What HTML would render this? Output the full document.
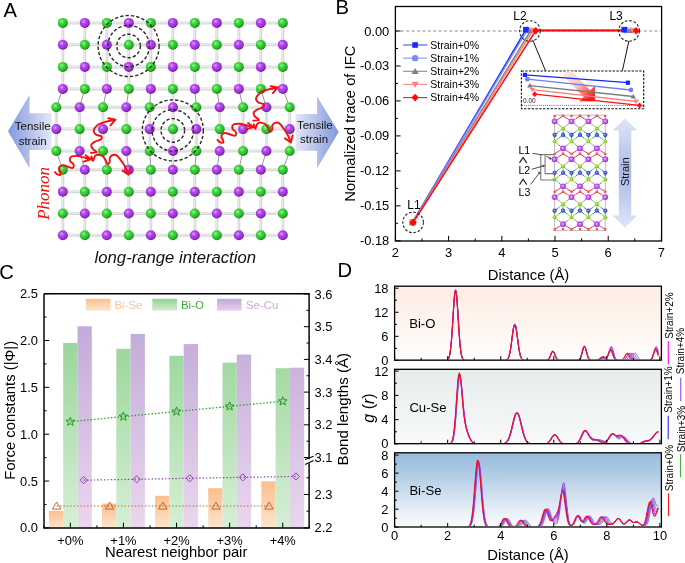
<!DOCTYPE html>
<html><head><meta charset="utf-8"><style>
html,body{margin:0;padding:0;background:#fff;}
svg{display:block;will-change:transform;}
</style></head><body>
<svg width="685" height="563" viewBox="0 0 685 563" font-family="Liberation Sans, sans-serif">
<defs>
<radialGradient id="gG" cx="0.38" cy="0.35" r="0.65">
 <stop offset="0" stop-color="#98f598"/><stop offset="0.35" stop-color="#40d840"/><stop offset="0.8" stop-color="#2ab22a"/><stop offset="1" stop-color="#1a7a1a"/></radialGradient>
<radialGradient id="gP" cx="0.38" cy="0.35" r="0.65">
 <stop offset="0" stop-color="#e79cff"/><stop offset="0.35" stop-color="#b648ee"/><stop offset="0.8" stop-color="#9630cc"/><stop offset="1" stop-color="#661a94"/></radialGradient>
<linearGradient id="arrL" x1="0" y1="0" x2="1" y2="0">
 <stop offset="0" stop-color="#8397dd"/><stop offset="1" stop-color="#e2e7f7"/></linearGradient>
<linearGradient id="arrR" x1="0" y1="0" x2="1" y2="0">
 <stop offset="0" stop-color="#e2e7f7"/><stop offset="1" stop-color="#8397dd"/></linearGradient>

<linearGradient id="bigArr" x1="568" y1="74" x2="592" y2="98" gradientUnits="userSpaceOnUse">
 <stop offset="0" stop-color="#fde6da"/><stop offset="0.45" stop-color="#fbc4bc"/><stop offset="0.75" stop-color="#ff6a60"/><stop offset="1" stop-color="#ff1414"/></linearGradient>
<radialGradient id="aBi" cx="0.45" cy="0.45" r="0.6"><stop offset="0" stop-color="#f4c8ff"/><stop offset="0.45" stop-color="#c456ee"/><stop offset="1" stop-color="#9a2cc8"/></radialGradient>
<radialGradient id="aSe" cx="0.45" cy="0.45" r="0.6"><stop offset="0" stop-color="#d8f5a0"/><stop offset="0.5" stop-color="#8ed32a"/><stop offset="1" stop-color="#6aa818"/></radialGradient>
<radialGradient id="aCu" cx="0.45" cy="0.45" r="0.6"><stop offset="0" stop-color="#9ab0ff"/><stop offset="0.5" stop-color="#3858d8"/><stop offset="1" stop-color="#1c34a8"/></radialGradient>
<radialGradient id="aO" cx="0.45" cy="0.45" r="0.6"><stop offset="0" stop-color="#ff8080"/><stop offset="1" stop-color="#e81818"/></radialGradient>

<linearGradient id="strG" x1="0" y1="0" x2="0" y2="1">
 <stop offset="0" stop-color="#dfe5f6"/><stop offset="0.5" stop-color="#a9b9ea"/><stop offset="1" stop-color="#dfe5f6"/></linearGradient>
<linearGradient id="cO" x1="0" y1="0" x2="0" y2="1"><stop offset="0" stop-color="#fbc08e"/><stop offset="1" stop-color="#fde6d2"/></linearGradient>
<linearGradient id="cG" x1="0" y1="0" x2="0" y2="1"><stop offset="0" stop-color="#92d392"/><stop offset="1" stop-color="#d3eed3"/></linearGradient>
<linearGradient id="cP" x1="0" y1="0" x2="0" y2="1"><stop offset="0" stop-color="#bea8d8"/><stop offset="1" stop-color="#e6d0ec"/></linearGradient>
<linearGradient id="cGb" gradientUnits="userSpaceOnUse" x1="0" y1="293" x2="0" y2="527"><stop offset="0" stop-color="#8ccf8c"/><stop offset="1" stop-color="#d5efd5"/></linearGradient>
<linearGradient id="cPb" gradientUnits="userSpaceOnUse" x1="0" y1="293" x2="0" y2="527"><stop offset="0" stop-color="#bba4d6"/><stop offset="1" stop-color="#ead6ee"/></linearGradient>
<linearGradient id="cOb" x1="0" y1="0" x2="0" y2="1"><stop offset="0" stop-color="#fbbf8e"/><stop offset="1" stop-color="#fde4ce"/></linearGradient>
<linearGradient id="dbg0" x1="0" y1="0" x2="0" y2="1"><stop offset="0" stop-color="#fdece3"/><stop offset="1" stop-color="#fffdfc"/></linearGradient><linearGradient id="dbg1" x1="0" y1="0" x2="0" y2="1"><stop offset="0" stop-color="#e6ecec"/><stop offset="1" stop-color="#f9fafa"/></linearGradient><linearGradient id="dbg2" x1="0" y1="0" x2="0" y2="1"><stop offset="0" stop-color="#99bbdf"/><stop offset="0.23" stop-color="#abc8e2"/><stop offset="0.77" stop-color="#e6eef6"/><stop offset="1" stop-color="#fafcfd"/></linearGradient></defs>
<rect width="685" height="563" fill="#fff"/>
<polygon points="8,131.2 29.6,94.8 29.6,113.2 51.5,113.2 51.5,150 29.6,150 29.6,168.3" fill="url(#arrL)"/>
<polygon points="338.7,131.9 317.1,96.4 317.1,114 295.6,114 295.6,150.7 317.1,150.7 317.1,168.3" fill="url(#arrR)"/>
<path d="M60.80,22.9 L286.80,22.9 M60.80,44.8 L286.80,44.8 M60.80,66.9 L286.80,66.9 M60.80,88.9 L286.80,88.9 M54.30,107.2 L293.70,107.2 M54.30,129.1 L293.70,129.1 M54.30,151.0 L293.70,151.0 M60.80,169.8 L286.80,169.8 M60.80,191.7 L286.80,191.7 M60.80,213.5 L286.80,213.5 M60.80,235.3 L286.80,235.3 M62.80,22.9 L62.80,44.8 M84.80,22.9 L84.80,44.8 M106.80,22.9 L106.80,44.8 M128.80,22.9 L128.80,44.8 M150.80,22.9 L150.80,44.8 M172.80,22.9 L172.80,44.8 M194.80,22.9 L194.80,44.8 M216.80,22.9 L216.80,44.8 M238.80,22.9 L238.80,44.8 M260.80,22.9 L260.80,44.8 M282.80,22.9 L282.80,44.8 M62.80,44.8 L62.80,66.9 M84.80,44.8 L84.80,66.9 M106.80,44.8 L106.80,66.9 M128.80,44.8 L128.80,66.9 M150.80,44.8 L150.80,66.9 M172.80,44.8 L172.80,66.9 M194.80,44.8 L194.80,66.9 M216.80,44.8 L216.80,66.9 M238.80,44.8 L238.80,66.9 M260.80,44.8 L260.80,66.9 M282.80,44.8 L282.80,66.9 M62.80,66.9 L62.80,88.9 M84.80,66.9 L84.80,88.9 M106.80,66.9 L106.80,88.9 M128.80,66.9 L128.80,88.9 M150.80,66.9 L150.80,88.9 M172.80,66.9 L172.80,88.9 M194.80,66.9 L194.80,88.9 M216.80,66.9 L216.80,88.9 M238.80,66.9 L238.80,88.9 M260.80,66.9 L260.80,88.9 M282.80,66.9 L282.80,88.9 M172.80,88.9 L173.00,107.2 M56.30,107.2 L56.30,129.1 M79.64,107.2 L79.64,129.1 M102.98,107.2 L102.98,129.1 M126.32,107.2 L126.32,129.1 M149.66,107.2 L149.66,129.1 M173.00,107.2 L173.00,129.1 M196.34,107.2 L196.34,129.1 M219.68,107.2 L219.68,129.1 M243.02,107.2 L243.02,129.1 M266.36,107.2 L266.36,129.1 M289.70,107.2 L289.70,129.1 M56.30,129.1 L56.30,151.0 M79.64,129.1 L79.64,151.0 M102.98,129.1 L102.98,151.0 M126.32,129.1 L126.32,151.0 M149.66,129.1 L149.66,151.0 M173.00,129.1 L173.00,151.0 M196.34,129.1 L196.34,151.0 M219.68,129.1 L219.68,151.0 M243.02,129.1 L243.02,151.0 M266.36,129.1 L266.36,151.0 M289.70,129.1 L289.70,151.0 M173.00,151.0 L172.80,169.8 M62.80,169.8 L62.80,191.7 M84.80,169.8 L84.80,191.7 M106.80,169.8 L106.80,191.7 M128.80,169.8 L128.80,191.7 M150.80,169.8 L150.80,191.7 M172.80,169.8 L172.80,191.7 M194.80,169.8 L194.80,191.7 M216.80,169.8 L216.80,191.7 M238.80,169.8 L238.80,191.7 M260.80,169.8 L260.80,191.7 M282.80,169.8 L282.80,191.7 M62.80,191.7 L62.80,213.5 M84.80,191.7 L84.80,213.5 M106.80,191.7 L106.80,213.5 M128.80,191.7 L128.80,213.5 M150.80,191.7 L150.80,213.5 M172.80,191.7 L172.80,213.5 M194.80,191.7 L194.80,213.5 M216.80,191.7 L216.80,213.5 M238.80,191.7 L238.80,213.5 M260.80,191.7 L260.80,213.5 M282.80,191.7 L282.80,213.5 M62.80,213.5 L62.80,235.3 M84.80,213.5 L84.80,235.3 M106.80,213.5 L106.80,235.3 M128.80,213.5 L128.80,235.3 M150.80,213.5 L150.80,235.3 M172.80,213.5 L172.80,235.3 M194.80,213.5 L194.80,235.3 M216.80,213.5 L216.80,235.3 M238.80,213.5 L238.80,235.3 M260.80,213.5 L260.80,235.3 M282.80,213.5 L282.80,235.3 M62.80,235.3 L62.80,239.3 M62.80,19.9 L62.80,22.9 M84.80,235.3 L84.80,239.3 M84.80,19.9 L84.80,22.9 M106.80,235.3 L106.80,239.3 M106.80,19.9 L106.80,22.9 M128.80,235.3 L128.80,239.3 M128.80,19.9 L128.80,22.9 M150.80,235.3 L150.80,239.3 M150.80,19.9 L150.80,22.9 M172.80,235.3 L172.80,239.3 M172.80,19.9 L172.80,22.9 M194.80,235.3 L194.80,239.3 M194.80,19.9 L194.80,22.9 M216.80,235.3 L216.80,239.3 M216.80,19.9 L216.80,22.9 M238.80,235.3 L238.80,239.3 M238.80,19.9 L238.80,22.9 M260.80,235.3 L260.80,239.3 M260.80,19.9 L260.80,22.9 M282.80,235.3 L282.80,239.3 M282.80,19.9 L282.80,22.9" stroke="#d8d8d8" stroke-width="3.0" fill="none"/>
<path d="M60.80,22.9 L286.80,22.9 M60.80,44.8 L286.80,44.8 M60.80,66.9 L286.80,66.9 M60.80,88.9 L286.80,88.9 M54.30,107.2 L293.70,107.2 M54.30,129.1 L293.70,129.1 M54.30,151.0 L293.70,151.0 M60.80,169.8 L286.80,169.8 M60.80,191.7 L286.80,191.7 M60.80,213.5 L286.80,213.5 M60.80,235.3 L286.80,235.3 M62.80,22.9 L62.80,44.8 M84.80,22.9 L84.80,44.8 M106.80,22.9 L106.80,44.8 M128.80,22.9 L128.80,44.8 M150.80,22.9 L150.80,44.8 M172.80,22.9 L172.80,44.8 M194.80,22.9 L194.80,44.8 M216.80,22.9 L216.80,44.8 M238.80,22.9 L238.80,44.8 M260.80,22.9 L260.80,44.8 M282.80,22.9 L282.80,44.8 M62.80,44.8 L62.80,66.9 M84.80,44.8 L84.80,66.9 M106.80,44.8 L106.80,66.9 M128.80,44.8 L128.80,66.9 M150.80,44.8 L150.80,66.9 M172.80,44.8 L172.80,66.9 M194.80,44.8 L194.80,66.9 M216.80,44.8 L216.80,66.9 M238.80,44.8 L238.80,66.9 M260.80,44.8 L260.80,66.9 M282.80,44.8 L282.80,66.9 M62.80,66.9 L62.80,88.9 M84.80,66.9 L84.80,88.9 M106.80,66.9 L106.80,88.9 M128.80,66.9 L128.80,88.9 M150.80,66.9 L150.80,88.9 M172.80,66.9 L172.80,88.9 M194.80,66.9 L194.80,88.9 M216.80,66.9 L216.80,88.9 M238.80,66.9 L238.80,88.9 M260.80,66.9 L260.80,88.9 M282.80,66.9 L282.80,88.9 M172.80,88.9 L173.00,107.2 M56.30,107.2 L56.30,129.1 M79.64,107.2 L79.64,129.1 M102.98,107.2 L102.98,129.1 M126.32,107.2 L126.32,129.1 M149.66,107.2 L149.66,129.1 M173.00,107.2 L173.00,129.1 M196.34,107.2 L196.34,129.1 M219.68,107.2 L219.68,129.1 M243.02,107.2 L243.02,129.1 M266.36,107.2 L266.36,129.1 M289.70,107.2 L289.70,129.1 M56.30,129.1 L56.30,151.0 M79.64,129.1 L79.64,151.0 M102.98,129.1 L102.98,151.0 M126.32,129.1 L126.32,151.0 M149.66,129.1 L149.66,151.0 M173.00,129.1 L173.00,151.0 M196.34,129.1 L196.34,151.0 M219.68,129.1 L219.68,151.0 M243.02,129.1 L243.02,151.0 M266.36,129.1 L266.36,151.0 M289.70,129.1 L289.70,151.0 M173.00,151.0 L172.80,169.8 M62.80,169.8 L62.80,191.7 M84.80,169.8 L84.80,191.7 M106.80,169.8 L106.80,191.7 M128.80,169.8 L128.80,191.7 M150.80,169.8 L150.80,191.7 M172.80,169.8 L172.80,191.7 M194.80,169.8 L194.80,191.7 M216.80,169.8 L216.80,191.7 M238.80,169.8 L238.80,191.7 M260.80,169.8 L260.80,191.7 M282.80,169.8 L282.80,191.7 M62.80,191.7 L62.80,213.5 M84.80,191.7 L84.80,213.5 M106.80,191.7 L106.80,213.5 M128.80,191.7 L128.80,213.5 M150.80,191.7 L150.80,213.5 M172.80,191.7 L172.80,213.5 M194.80,191.7 L194.80,213.5 M216.80,191.7 L216.80,213.5 M238.80,191.7 L238.80,213.5 M260.80,191.7 L260.80,213.5 M282.80,191.7 L282.80,213.5 M62.80,213.5 L62.80,235.3 M84.80,213.5 L84.80,235.3 M106.80,213.5 L106.80,235.3 M128.80,213.5 L128.80,235.3 M150.80,213.5 L150.80,235.3 M172.80,213.5 L172.80,235.3 M194.80,213.5 L194.80,235.3 M216.80,213.5 L216.80,235.3 M238.80,213.5 L238.80,235.3 M260.80,213.5 L260.80,235.3 M282.80,213.5 L282.80,235.3 M62.80,235.3 L62.80,239.3 M62.80,19.9 L62.80,22.9 M84.80,235.3 L84.80,239.3 M84.80,19.9 L84.80,22.9 M106.80,235.3 L106.80,239.3 M106.80,19.9 L106.80,22.9 M128.80,235.3 L128.80,239.3 M128.80,19.9 L128.80,22.9 M150.80,235.3 L150.80,239.3 M150.80,19.9 L150.80,22.9 M172.80,235.3 L172.80,239.3 M172.80,19.9 L172.80,22.9 M194.80,235.3 L194.80,239.3 M194.80,19.9 L194.80,22.9 M216.80,235.3 L216.80,239.3 M216.80,19.9 L216.80,22.9 M238.80,235.3 L238.80,239.3 M238.80,19.9 L238.80,22.9 M260.80,235.3 L260.80,239.3 M260.80,19.9 L260.80,22.9 M282.80,235.3 L282.80,239.3 M282.80,19.9 L282.80,22.9" stroke="#eaeaea" stroke-width="1.3" fill="none" transform="translate(-0.4,-0.4)"/>
<path d="M62.80,88.9 L56.30,107.2 M84.80,88.9 L79.64,107.2 M106.80,88.9 L102.98,107.2 M128.80,88.9 L126.32,107.2 M150.80,88.9 L149.66,107.2 M194.80,88.9 L196.34,107.2 M216.80,88.9 L219.68,107.2 M238.80,88.9 L243.02,107.2 M260.80,88.9 L266.36,107.2 M282.80,88.9 L289.70,107.2 M56.30,151.0 L62.80,169.8 M79.64,151.0 L84.80,169.8 M102.98,151.0 L106.80,169.8 M126.32,151.0 L128.80,169.8 M149.66,151.0 L150.80,169.8 M196.34,151.0 L194.80,169.8 M219.68,151.0 L216.80,169.8 M243.02,151.0 L238.80,169.8 M266.36,151.0 L260.80,169.8 M289.70,151.0 L282.80,169.8" stroke="#8c8c8c" stroke-width="0.9" fill="none"/>
<circle cx="62.80" cy="22.9" r="5.0" fill="url(#gG)"/>
<circle cx="84.80" cy="22.9" r="5.0" fill="url(#gP)"/>
<circle cx="106.80" cy="22.9" r="5.0" fill="url(#gG)"/>
<circle cx="128.80" cy="22.9" r="5.0" fill="url(#gP)"/>
<circle cx="150.80" cy="22.9" r="5.0" fill="url(#gG)"/>
<circle cx="172.80" cy="22.9" r="5.0" fill="url(#gP)"/>
<circle cx="194.80" cy="22.9" r="5.0" fill="url(#gG)"/>
<circle cx="216.80" cy="22.9" r="5.0" fill="url(#gP)"/>
<circle cx="238.80" cy="22.9" r="5.0" fill="url(#gG)"/>
<circle cx="260.80" cy="22.9" r="5.0" fill="url(#gP)"/>
<circle cx="282.80" cy="22.9" r="5.0" fill="url(#gG)"/>
<circle cx="62.80" cy="44.8" r="5.0" fill="url(#gP)"/>
<circle cx="84.80" cy="44.8" r="5.0" fill="url(#gG)"/>
<circle cx="106.80" cy="44.8" r="5.0" fill="url(#gP)"/>
<circle cx="128.80" cy="44.8" r="5.0" fill="url(#gG)"/>
<circle cx="150.80" cy="44.8" r="5.0" fill="url(#gP)"/>
<circle cx="172.80" cy="44.8" r="5.0" fill="url(#gG)"/>
<circle cx="194.80" cy="44.8" r="5.0" fill="url(#gP)"/>
<circle cx="216.80" cy="44.8" r="5.0" fill="url(#gG)"/>
<circle cx="238.80" cy="44.8" r="5.0" fill="url(#gP)"/>
<circle cx="260.80" cy="44.8" r="5.0" fill="url(#gG)"/>
<circle cx="282.80" cy="44.8" r="5.0" fill="url(#gP)"/>
<circle cx="62.80" cy="66.9" r="5.0" fill="url(#gG)"/>
<circle cx="84.80" cy="66.9" r="5.0" fill="url(#gP)"/>
<circle cx="106.80" cy="66.9" r="5.0" fill="url(#gG)"/>
<circle cx="128.80" cy="66.9" r="5.0" fill="url(#gP)"/>
<circle cx="150.80" cy="66.9" r="5.0" fill="url(#gG)"/>
<circle cx="172.80" cy="66.9" r="5.0" fill="url(#gP)"/>
<circle cx="194.80" cy="66.9" r="5.0" fill="url(#gG)"/>
<circle cx="216.80" cy="66.9" r="5.0" fill="url(#gP)"/>
<circle cx="238.80" cy="66.9" r="5.0" fill="url(#gG)"/>
<circle cx="260.80" cy="66.9" r="5.0" fill="url(#gP)"/>
<circle cx="282.80" cy="66.9" r="5.0" fill="url(#gG)"/>
<circle cx="62.80" cy="88.9" r="5.0" fill="url(#gP)"/>
<circle cx="84.80" cy="88.9" r="5.0" fill="url(#gG)"/>
<circle cx="106.80" cy="88.9" r="5.0" fill="url(#gP)"/>
<circle cx="128.80" cy="88.9" r="5.0" fill="url(#gG)"/>
<circle cx="150.80" cy="88.9" r="5.0" fill="url(#gP)"/>
<circle cx="172.80" cy="88.9" r="5.0" fill="url(#gG)"/>
<circle cx="194.80" cy="88.9" r="5.0" fill="url(#gP)"/>
<circle cx="216.80" cy="88.9" r="5.0" fill="url(#gG)"/>
<circle cx="238.80" cy="88.9" r="5.0" fill="url(#gP)"/>
<circle cx="260.80" cy="88.9" r="5.0" fill="url(#gG)"/>
<circle cx="282.80" cy="88.9" r="5.0" fill="url(#gP)"/>
<circle cx="56.30" cy="107.2" r="5.0" fill="url(#gG)"/>
<circle cx="79.64" cy="107.2" r="5.0" fill="url(#gP)"/>
<circle cx="102.98" cy="107.2" r="5.0" fill="url(#gG)"/>
<circle cx="126.32" cy="107.2" r="5.0" fill="url(#gP)"/>
<circle cx="149.66" cy="107.2" r="5.0" fill="url(#gG)"/>
<circle cx="173.00" cy="107.2" r="5.0" fill="url(#gP)"/>
<circle cx="196.34" cy="107.2" r="5.0" fill="url(#gG)"/>
<circle cx="219.68" cy="107.2" r="5.0" fill="url(#gP)"/>
<circle cx="243.02" cy="107.2" r="5.0" fill="url(#gG)"/>
<circle cx="266.36" cy="107.2" r="5.0" fill="url(#gP)"/>
<circle cx="289.70" cy="107.2" r="5.0" fill="url(#gG)"/>
<circle cx="56.30" cy="129.1" r="5.0" fill="url(#gP)"/>
<circle cx="79.64" cy="129.1" r="5.0" fill="url(#gG)"/>
<circle cx="102.98" cy="129.1" r="5.0" fill="url(#gP)"/>
<circle cx="126.32" cy="129.1" r="5.0" fill="url(#gG)"/>
<circle cx="149.66" cy="129.1" r="5.0" fill="url(#gP)"/>
<circle cx="173.00" cy="129.1" r="5.0" fill="url(#gG)"/>
<circle cx="196.34" cy="129.1" r="5.0" fill="url(#gP)"/>
<circle cx="219.68" cy="129.1" r="5.0" fill="url(#gG)"/>
<circle cx="243.02" cy="129.1" r="5.0" fill="url(#gP)"/>
<circle cx="266.36" cy="129.1" r="5.0" fill="url(#gG)"/>
<circle cx="289.70" cy="129.1" r="5.0" fill="url(#gP)"/>
<circle cx="56.30" cy="151.0" r="5.0" fill="url(#gG)"/>
<circle cx="79.64" cy="151.0" r="5.0" fill="url(#gP)"/>
<circle cx="102.98" cy="151.0" r="5.0" fill="url(#gG)"/>
<circle cx="126.32" cy="151.0" r="5.0" fill="url(#gP)"/>
<circle cx="149.66" cy="151.0" r="5.0" fill="url(#gG)"/>
<circle cx="173.00" cy="151.0" r="5.0" fill="url(#gP)"/>
<circle cx="196.34" cy="151.0" r="5.0" fill="url(#gG)"/>
<circle cx="219.68" cy="151.0" r="5.0" fill="url(#gP)"/>
<circle cx="243.02" cy="151.0" r="5.0" fill="url(#gG)"/>
<circle cx="266.36" cy="151.0" r="5.0" fill="url(#gP)"/>
<circle cx="289.70" cy="151.0" r="5.0" fill="url(#gG)"/>
<circle cx="62.80" cy="169.8" r="5.0" fill="url(#gG)"/>
<circle cx="84.80" cy="169.8" r="5.0" fill="url(#gP)"/>
<circle cx="106.80" cy="169.8" r="5.0" fill="url(#gG)"/>
<circle cx="128.80" cy="169.8" r="5.0" fill="url(#gP)"/>
<circle cx="150.80" cy="169.8" r="5.0" fill="url(#gG)"/>
<circle cx="172.80" cy="169.8" r="5.0" fill="url(#gP)"/>
<circle cx="194.80" cy="169.8" r="5.0" fill="url(#gG)"/>
<circle cx="216.80" cy="169.8" r="5.0" fill="url(#gP)"/>
<circle cx="238.80" cy="169.8" r="5.0" fill="url(#gG)"/>
<circle cx="260.80" cy="169.8" r="5.0" fill="url(#gP)"/>
<circle cx="282.80" cy="169.8" r="5.0" fill="url(#gG)"/>
<circle cx="62.80" cy="191.7" r="5.0" fill="url(#gP)"/>
<circle cx="84.80" cy="191.7" r="5.0" fill="url(#gG)"/>
<circle cx="106.80" cy="191.7" r="5.0" fill="url(#gP)"/>
<circle cx="128.80" cy="191.7" r="5.0" fill="url(#gG)"/>
<circle cx="150.80" cy="191.7" r="5.0" fill="url(#gP)"/>
<circle cx="172.80" cy="191.7" r="5.0" fill="url(#gG)"/>
<circle cx="194.80" cy="191.7" r="5.0" fill="url(#gP)"/>
<circle cx="216.80" cy="191.7" r="5.0" fill="url(#gG)"/>
<circle cx="238.80" cy="191.7" r="5.0" fill="url(#gP)"/>
<circle cx="260.80" cy="191.7" r="5.0" fill="url(#gG)"/>
<circle cx="282.80" cy="191.7" r="5.0" fill="url(#gP)"/>
<circle cx="62.80" cy="213.5" r="5.0" fill="url(#gG)"/>
<circle cx="84.80" cy="213.5" r="5.0" fill="url(#gP)"/>
<circle cx="106.80" cy="213.5" r="5.0" fill="url(#gG)"/>
<circle cx="128.80" cy="213.5" r="5.0" fill="url(#gP)"/>
<circle cx="150.80" cy="213.5" r="5.0" fill="url(#gG)"/>
<circle cx="172.80" cy="213.5" r="5.0" fill="url(#gP)"/>
<circle cx="194.80" cy="213.5" r="5.0" fill="url(#gG)"/>
<circle cx="216.80" cy="213.5" r="5.0" fill="url(#gP)"/>
<circle cx="238.80" cy="213.5" r="5.0" fill="url(#gG)"/>
<circle cx="260.80" cy="213.5" r="5.0" fill="url(#gP)"/>
<circle cx="282.80" cy="213.5" r="5.0" fill="url(#gG)"/>
<circle cx="62.80" cy="235.3" r="5.0" fill="url(#gP)"/>
<circle cx="84.80" cy="235.3" r="5.0" fill="url(#gG)"/>
<circle cx="106.80" cy="235.3" r="5.0" fill="url(#gP)"/>
<circle cx="128.80" cy="235.3" r="5.0" fill="url(#gG)"/>
<circle cx="150.80" cy="235.3" r="5.0" fill="url(#gP)"/>
<circle cx="172.80" cy="235.3" r="5.0" fill="url(#gG)"/>
<circle cx="194.80" cy="235.3" r="5.0" fill="url(#gP)"/>
<circle cx="216.80" cy="235.3" r="5.0" fill="url(#gG)"/>
<circle cx="238.80" cy="235.3" r="5.0" fill="url(#gP)"/>
<circle cx="260.80" cy="235.3" r="5.0" fill="url(#gG)"/>
<circle cx="282.80" cy="235.3" r="5.0" fill="url(#gP)"/>
<circle cx="128.6" cy="46.0" r="11.8" fill="none" stroke="#2a2a2a" stroke-width="1.4" stroke-dasharray="3.3 2.1"/>
<circle cx="128.6" cy="46.0" r="20.7" fill="none" stroke="#2a2a2a" stroke-width="1.4" stroke-dasharray="3.3 2.1"/>
<circle cx="128.6" cy="46.0" r="30.5" fill="none" stroke="#2a2a2a" stroke-width="1.4" stroke-dasharray="3.3 2.1"/>
<circle cx="172.8" cy="130.4" r="11.8" fill="none" stroke="#2a2a2a" stroke-width="1.4" stroke-dasharray="3.3 2.1"/>
<circle cx="172.8" cy="130.4" r="20.7" fill="none" stroke="#2a2a2a" stroke-width="1.4" stroke-dasharray="3.3 2.1"/>
<circle cx="172.8" cy="130.4" r="30.5" fill="none" stroke="#2a2a2a" stroke-width="1.4" stroke-dasharray="3.3 2.1"/>
<text x="32.70" y="130.40" font-size="11.5" text-anchor="middle" fill="#111" >Tensile</text>
<text x="32.70" y="144.60" font-size="11.5" text-anchor="middle" fill="#111" >strain</text>
<text x="314.80" y="128.80" font-size="11.5" text-anchor="middle" fill="#111" >Tensile</text>
<text x="314.00" y="143.40" font-size="11.5" text-anchor="middle" fill="#111" >strain</text>
<g id="phon"><path d="M55.10,172.10 C55.47,172.47 56.35,173.85 57.30,174.30 C58.25,174.75 60.25,175.15 60.80,174.80 C61.35,174.45 60.87,173.12 60.60,172.20 C60.33,171.28 59.32,170.27 59.20,169.30 C59.08,168.33 59.25,167.08 59.90,166.40 C60.55,165.72 61.72,165.13 63.10,165.20 C64.48,165.27 66.65,166.32 68.20,166.80 C69.75,167.28 71.47,168.30 72.40,168.10 C73.33,167.90 73.77,166.42 73.80,165.60 C73.83,164.78 73.17,163.87 72.60,163.20 C72.03,162.53 70.83,162.42 70.40,161.60 C69.97,160.78 69.75,159.18 70.00,158.30 C70.25,157.42 70.62,156.68 71.90,156.30 C73.18,155.92 75.88,155.85 77.70,156.00 C79.52,156.15 81.08,156.75 82.80,157.20 C84.52,157.65 86.65,158.35 88.00,158.70 C89.35,159.05 90.42,159.20 90.90,159.30 M91.40,156.40 C91.67,157.17 92.43,161.03 93.00,161.00 C93.57,160.97 94.07,157.27 94.80,156.20 C95.53,155.13 96.97,154.87 97.40,154.60 M91.00,152.90 C91.93,152.78 96.33,152.88 96.60,152.20 C96.87,151.52 93.48,150.03 92.60,148.80 C91.72,147.57 90.90,145.98 91.30,144.80 C91.70,143.62 93.38,142.62 95.00,141.70 C96.62,140.78 99.97,140.22 101.00,139.30 C102.03,138.38 101.97,136.93 101.20,136.20 C100.43,135.47 97.63,135.63 96.40,134.90 C95.17,134.17 94.13,132.85 93.80,131.80 C93.47,130.75 93.58,129.85 94.40,128.60 C95.22,127.35 96.75,125.47 98.70,124.30 C100.65,123.13 103.30,122.38 106.10,121.60 C108.90,120.82 113.93,119.93 115.50,119.60 M97.40,154.60 C98.23,154.83 101.05,155.13 102.40,156.00 C103.75,156.87 104.67,158.47 105.50,159.80 C106.33,161.13 106.70,163.63 107.40,164.00 C108.10,164.37 109.27,163.10 109.70,162.00 C110.13,160.90 109.35,158.60 110.00,157.40 C110.65,156.20 112.38,155.03 113.60,154.80 C114.82,154.57 115.85,154.77 117.30,156.00 C118.75,157.23 120.85,160.12 122.30,162.20 C123.75,164.28 124.97,166.42 126.00,168.50 C127.03,170.58 128.08,173.67 128.50,174.70 M85.6,155.2 L90.9,159.3 L83.8,161.6 M108.3,118.3 L115.5,119.6 L110.4,125.3 M122.6,170.6 L128.5,174.7 L130.3,167.6" stroke="#f01010" stroke-width="1.9" fill="none" stroke-linecap="round" stroke-linejoin="round"/></g>
<use href="#phon" transform="translate(162.4,-32.2)"/>
<text transform="translate(48.5,219.8) rotate(-90)" font-family="Liberation Serif, serif" font-style="italic" font-size="17" fill="#f01010">Phonon</text>
<text x="175.3" y="263" font-size="16.7" font-style="italic" text-anchor="middle" fill="#111">long-range interaction</text>
<text x="3.40" y="16.90" font-size="20.2" text-anchor="start" fill="#000" >A</text>
<text x="335.60" y="14.20" font-size="20.2" text-anchor="start" fill="#000" >B</text>
<text x="-0.80" y="278.60" font-size="20.2" text-anchor="start" fill="#000" >C</text>
<text x="337.60" y="276.80" font-size="20.2" text-anchor="start" fill="#000" >D</text>
<line x1="395.4" y1="31" x2="661.6" y2="31" stroke="#8a8a8a" stroke-width="1" stroke-dasharray="3 2.4"/>
<text x="389.30" y="35.50" font-size="12.9" text-anchor="end" fill="#000" >0.00</text>
<text x="389.30" y="70.47" font-size="12.9" text-anchor="end" fill="#000" >-0.03</text>
<text x="389.30" y="105.44" font-size="12.9" text-anchor="end" fill="#000" >-0.06</text>
<text x="389.30" y="140.41" font-size="12.9" text-anchor="end" fill="#000" >-0.09</text>
<text x="389.30" y="175.38" font-size="12.9" text-anchor="end" fill="#000" >-0.12</text>
<text x="389.30" y="210.35" font-size="12.9" text-anchor="end" fill="#000" >-0.15</text>
<text x="389.30" y="245.33" font-size="12.9" text-anchor="end" fill="#000" >-0.18</text>
<text x="395.40" y="256.60" font-size="12.9" text-anchor="middle" fill="#000" >2</text>
<text x="448.60" y="256.60" font-size="12.9" text-anchor="middle" fill="#000" >3</text>
<text x="501.80" y="256.60" font-size="12.9" text-anchor="middle" fill="#000" >4</text>
<text x="555.00" y="256.60" font-size="12.9" text-anchor="middle" fill="#000" >5</text>
<text x="608.20" y="256.60" font-size="12.9" text-anchor="middle" fill="#000" >6</text>
<text x="661.40" y="256.60" font-size="12.9" text-anchor="middle" fill="#000" >7</text>
<path d="M395.4,31.00 h5.2 M395.4,48.49 h2.6 M395.4,65.97 h5.2 M395.4,83.46 h2.6 M395.4,100.94 h5.2 M395.4,118.43 h2.6 M395.4,135.91 h5.2 M395.4,153.40 h2.6 M395.4,170.88 h5.2 M395.4,188.37 h2.6 M395.4,205.85 h5.2 M395.4,223.34 h2.6 M395.4,240.83 h5.2 M395.40,241.0 v-5.2 M422.00,241.0 v-2.6 M448.60,241.0 v-5.2 M475.20,241.0 v-2.6 M501.80,241.0 v-5.2 M528.40,241.0 v-2.6 M555.00,241.0 v-5.2 M581.60,241.0 v-2.6 M608.20,241.0 v-5.2 M634.80,241.0 v-2.6 M661.40,241.0 v-5.2" stroke="#000" stroke-width="1" fill="none"/>
<rect x="395.4" y="6.5" width="266.20000000000005" height="234.5" fill="none" stroke="#000" stroke-width="1.3"/>
<text transform="translate(355.3,123.7) rotate(-90)" font-size="14.8" text-anchor="middle">Normalized trace of IFC</text>
<text x="528.50" y="280.40" font-size="14.8" text-anchor="middle" fill="#000" >Distance (&#197;)</text>
<polyline points="412.53,222.41 525.85,29.70 624.16,29.70" fill="none" stroke="#1428ff" stroke-width="1.5"/>
<polyline points="412.74,222.41 527.07,30.00 625.76,30.00" fill="none" stroke="#7b8cf2" stroke-width="1.5"/>
<polyline points="412.90,222.41 530.95,30.30 630.54,30.30" fill="none" stroke="#808080" stroke-width="1.5"/>
<polyline points="413.06,222.41 532.92,30.60 633.20,30.60" fill="none" stroke="#f58a8a" stroke-width="1.5"/>
<polyline points="413.22,222.41 535.74,30.80 636.13,30.80" fill="none" stroke="#ff0a0a" stroke-width="1.5"/>
<circle cx="412.74" cy="222.41" r="3.20" fill="#7b8cf2"/>
<circle cx="527.07" cy="30.00" r="3.20" fill="#7b8cf2"/>
<circle cx="625.76" cy="30.00" r="3.20" fill="#7b8cf2"/>
<rect x="409.73" y="219.61" width="5.60" height="5.60" fill="#1428ff"/>
<rect x="523.05" y="26.90" width="5.60" height="5.60" fill="#1428ff"/>
<rect x="621.36" y="26.90" width="5.60" height="5.60" fill="#1428ff"/>
<polygon points="412.90,219.01 416.50,225.01 409.30,225.01" fill="#808080"/>
<polygon points="530.95,26.90 534.55,32.90 527.35,32.90" fill="#808080"/>
<polygon points="630.54,26.90 634.14,32.90 626.94,32.90" fill="#808080"/>
<polygon points="413.06,225.81 416.66,219.81 409.46,219.81" fill="#f58a8a"/>
<polygon points="532.92,34.00 536.52,28.00 529.32,28.00" fill="#f58a8a"/>
<polygon points="633.20,34.00 636.80,28.00 629.60,28.00" fill="#f58a8a"/>
<polygon points="413.22,218.61 416.82,222.41 413.22,226.21 409.62,222.41" fill="#ff0a0a"/>
<polygon points="535.74,27.00 539.34,30.80 535.74,34.60 532.14,30.80" fill="#ff0a0a"/>
<polygon points="636.13,27.00 639.73,30.80 636.13,34.60 632.53,30.80" fill="#ff0a0a"/>
<line x1="403.1" y1="45.0" x2="427.2" y2="45.0" stroke="#4050ff" stroke-width="1.1"/>
<rect x="412.30" y="42.20" width="5.60" height="5.60" fill="#1428ff"/>
<text x="430.30" y="48.80" font-size="10.5" text-anchor="start" fill="#000" >Strain+0%</text>
<line x1="403.1" y1="58.15" x2="427.2" y2="58.15" stroke="#8a96f8" stroke-width="1.1"/>
<circle cx="415.10" cy="58.15" r="3.20" fill="#7b8cf2"/>
<text x="430.30" y="61.95" font-size="10.5" text-anchor="start" fill="#000" >Strain+1%</text>
<line x1="403.1" y1="71.3" x2="427.2" y2="71.3" stroke="#8a8a8a" stroke-width="1.1"/>
<polygon points="415.10,67.90 418.70,73.90 411.50,73.90" fill="#808080"/>
<text x="430.30" y="75.10" font-size="10.5" text-anchor="start" fill="#000" >Strain+2%</text>
<line x1="403.1" y1="84.45" x2="427.2" y2="84.45" stroke="#ff8a8a" stroke-width="1.1"/>
<polygon points="415.10,87.85 418.70,81.85 411.50,81.85" fill="#ff8080"/>
<text x="430.30" y="88.25" font-size="10.5" text-anchor="start" fill="#000" >Strain+3%</text>
<line x1="403.1" y1="97.6" x2="427.2" y2="97.6" stroke="#ff1a1a" stroke-width="1.1"/>
<polygon points="415.10,93.80 418.70,97.60 415.10,101.40 411.50,97.60" fill="#ff0a0a"/>
<text x="430.30" y="101.40" font-size="10.5" text-anchor="start" fill="#000" >Strain+4%</text>
<circle cx="413.1" cy="222.4" r="10.3" fill="none" stroke="#222" stroke-width="1.1" stroke-dasharray="2.6 1.8"/>
<circle cx="529.9" cy="31.0" r="10.3" fill="none" stroke="#222" stroke-width="1.1" stroke-dasharray="2.6 1.8"/>
<circle cx="629.1" cy="30.9" r="10.3" fill="none" stroke="#222" stroke-width="1.1" stroke-dasharray="2.6 1.8"/>
<text x="414.00" y="209.00" font-size="12" text-anchor="middle" fill="#000" >L1</text>
<text x="519.90" y="20.30" font-size="12" text-anchor="middle" fill="#000" >L2</text>
<text x="616.10" y="20.30" font-size="12" text-anchor="middle" fill="#000" >L3</text>
<path d="M532.7,39.9 L545.5,70.8 M628.9,40.9 L622.4,70.8" stroke="#111" stroke-width="1" fill="none"/>
<rect x="521.4" y="71.0" width="122.3" height="37.8" fill="#fff" stroke="#111" stroke-width="1.1" stroke-dasharray="2.4 1.4"/>
<line x1="522" y1="105.4" x2="643.5" y2="105.4" stroke="#333" stroke-width="0.8" stroke-dasharray="0.9 1.2"/>
<text x="523.00" y="103.20" font-size="6.5" text-anchor="start" fill="#222" >0.00</text>
<polygon points="571.7,71.3 590.13,90.27 595.01,85.39 594.87,101.37 578.89,101.51 583.77,96.63 562.8,75.8 566.2,71.3" fill="url(#bigArr)"/>
<line x1="524.9" y1="74.9" x2="627.9" y2="82.7" stroke="#1428ff" stroke-width="1.3"/>
<rect x="522.80" y="72.80" width="4.20" height="4.20" fill="#1428ff"/>
<rect x="625.80" y="80.60" width="4.20" height="4.20" fill="#1428ff"/>
<line x1="527.4" y1="79.2" x2="630.9" y2="90.0" stroke="#6f80f5" stroke-width="1.3"/>
<circle cx="527.40" cy="79.20" r="2.40" fill="#6f80f5"/>
<circle cx="630.90" cy="90.00" r="2.40" fill="#6f80f5"/>
<line x1="529.8" y1="85.6" x2="633.3" y2="96.5" stroke="#7a7a7a" stroke-width="1.3"/>
<polygon points="529.80,83.05 532.50,87.55 527.10,87.55" fill="#7a7a7a"/>
<polygon points="633.30,93.95 636.00,98.45 630.60,98.45" fill="#7a7a7a"/>
<line x1="532.3" y1="89.6" x2="636.2" y2="101.5" stroke="#f58080" stroke-width="1.3"/>
<polygon points="532.30,92.15 535.00,87.65 529.60,87.65" fill="#f58080"/>
<polygon points="636.20,104.05 638.90,99.55 633.50,99.55" fill="#f58080"/>
<line x1="534.7" y1="94.2" x2="639.6" y2="105.4" stroke="#ff1010" stroke-width="1.3"/>
<polygon points="534.70,91.35 537.40,94.20 534.70,97.05 532.00,94.20" fill="#ff1010"/>
<polygon points="639.60,102.55 642.30,105.40 639.60,108.25 636.90,105.40" fill="#ff1010"/>
<path d="M554.6,115.2 V230.6 M605.3,115.2 V230.6 M554.6,115.2 H605.3 M554.6,230.6 H605.3" stroke="#a8a8a8" stroke-width="0.8" fill="none"/>
<g><line x1="563.05" y1="116.00" x2="558.83" y2="118.65" stroke="#f03030" stroke-width="1.0"/><line x1="558.83" y1="118.65" x2="554.60" y2="121.30" stroke="#c050e8" stroke-width="1.0"/><line x1="563.05" y1="116.00" x2="567.28" y2="118.65" stroke="#f03030" stroke-width="1.0"/><line x1="567.28" y1="118.65" x2="571.50" y2="121.30" stroke="#c050e8" stroke-width="1.0"/><line x1="579.95" y1="116.00" x2="575.73" y2="118.65" stroke="#f03030" stroke-width="1.0"/><line x1="575.73" y1="118.65" x2="571.50" y2="121.30" stroke="#c050e8" stroke-width="1.0"/><line x1="579.95" y1="116.00" x2="584.17" y2="118.65" stroke="#f03030" stroke-width="1.0"/><line x1="584.17" y1="118.65" x2="588.40" y2="121.30" stroke="#c050e8" stroke-width="1.0"/><line x1="596.85" y1="116.00" x2="592.62" y2="118.65" stroke="#f03030" stroke-width="1.0"/><line x1="592.62" y1="118.65" x2="588.40" y2="121.30" stroke="#c050e8" stroke-width="1.0"/><line x1="596.85" y1="116.00" x2="601.08" y2="118.65" stroke="#f03030" stroke-width="1.0"/><line x1="601.08" y1="118.65" x2="605.30" y2="121.30" stroke="#c050e8" stroke-width="1.0"/><line x1="554.60" y1="121.30" x2="558.83" y2="124.85" stroke="#c050e8" stroke-width="1.0"/><line x1="558.83" y1="124.85" x2="563.05" y2="128.40" stroke="#8fd040" stroke-width="1.0"/><line x1="571.50" y1="121.30" x2="567.28" y2="124.85" stroke="#c050e8" stroke-width="1.0"/><line x1="567.28" y1="124.85" x2="563.05" y2="128.40" stroke="#8fd040" stroke-width="1.0"/><line x1="571.50" y1="121.30" x2="575.73" y2="124.85" stroke="#c050e8" stroke-width="1.0"/><line x1="575.73" y1="124.85" x2="579.95" y2="128.40" stroke="#8fd040" stroke-width="1.0"/><line x1="588.40" y1="121.30" x2="584.17" y2="124.85" stroke="#c050e8" stroke-width="1.0"/><line x1="584.17" y1="124.85" x2="579.95" y2="128.40" stroke="#8fd040" stroke-width="1.0"/><line x1="588.40" y1="121.30" x2="592.62" y2="124.85" stroke="#c050e8" stroke-width="1.0"/><line x1="592.62" y1="124.85" x2="596.85" y2="128.40" stroke="#8fd040" stroke-width="1.0"/><line x1="605.30" y1="121.30" x2="601.08" y2="124.85" stroke="#c050e8" stroke-width="1.0"/><line x1="601.08" y1="124.85" x2="596.85" y2="128.40" stroke="#8fd040" stroke-width="1.0"/><line x1="563.05" y1="128.40" x2="558.83" y2="131.65" stroke="#8fd040" stroke-width="1.0"/><line x1="558.83" y1="131.65" x2="554.60" y2="134.90" stroke="#5070e0" stroke-width="1.0"/><line x1="563.05" y1="128.40" x2="563.05" y2="131.65" stroke="#8fd040" stroke-width="1.0"/><line x1="563.05" y1="131.65" x2="563.05" y2="134.90" stroke="#5070e0" stroke-width="1.0"/><line x1="563.05" y1="128.40" x2="567.28" y2="131.65" stroke="#8fd040" stroke-width="1.0"/><line x1="567.28" y1="131.65" x2="571.50" y2="134.90" stroke="#5070e0" stroke-width="1.0"/><line x1="579.95" y1="128.40" x2="575.73" y2="131.65" stroke="#8fd040" stroke-width="1.0"/><line x1="575.73" y1="131.65" x2="571.50" y2="134.90" stroke="#5070e0" stroke-width="1.0"/><line x1="579.95" y1="128.40" x2="579.95" y2="131.65" stroke="#8fd040" stroke-width="1.0"/><line x1="579.95" y1="131.65" x2="579.95" y2="134.90" stroke="#5070e0" stroke-width="1.0"/><line x1="579.95" y1="128.40" x2="584.17" y2="131.65" stroke="#8fd040" stroke-width="1.0"/><line x1="584.17" y1="131.65" x2="588.40" y2="134.90" stroke="#5070e0" stroke-width="1.0"/><line x1="596.85" y1="128.40" x2="592.62" y2="131.65" stroke="#8fd040" stroke-width="1.0"/><line x1="592.62" y1="131.65" x2="588.40" y2="134.90" stroke="#5070e0" stroke-width="1.0"/><line x1="596.85" y1="128.40" x2="596.85" y2="131.65" stroke="#8fd040" stroke-width="1.0"/><line x1="596.85" y1="131.65" x2="596.85" y2="134.90" stroke="#5070e0" stroke-width="1.0"/><line x1="596.85" y1="128.40" x2="601.08" y2="131.65" stroke="#8fd040" stroke-width="1.0"/><line x1="601.08" y1="131.65" x2="605.30" y2="134.90" stroke="#5070e0" stroke-width="1.0"/><line x1="554.60" y1="134.90" x2="554.60" y2="138.20" stroke="#5070e0" stroke-width="1.0"/><line x1="554.60" y1="138.20" x2="554.60" y2="141.50" stroke="#8fd040" stroke-width="1.0"/><line x1="563.05" y1="134.90" x2="558.83" y2="138.20" stroke="#5070e0" stroke-width="1.0"/><line x1="558.83" y1="138.20" x2="554.60" y2="141.50" stroke="#8fd040" stroke-width="1.0"/><line x1="563.05" y1="134.90" x2="567.28" y2="138.20" stroke="#5070e0" stroke-width="1.0"/><line x1="567.28" y1="138.20" x2="571.50" y2="141.50" stroke="#8fd040" stroke-width="1.0"/><line x1="571.50" y1="134.90" x2="571.50" y2="138.20" stroke="#5070e0" stroke-width="1.0"/><line x1="571.50" y1="138.20" x2="571.50" y2="141.50" stroke="#8fd040" stroke-width="1.0"/><line x1="579.95" y1="134.90" x2="575.73" y2="138.20" stroke="#5070e0" stroke-width="1.0"/><line x1="575.73" y1="138.20" x2="571.50" y2="141.50" stroke="#8fd040" stroke-width="1.0"/><line x1="579.95" y1="134.90" x2="584.17" y2="138.20" stroke="#5070e0" stroke-width="1.0"/><line x1="584.17" y1="138.20" x2="588.40" y2="141.50" stroke="#8fd040" stroke-width="1.0"/><line x1="588.40" y1="134.90" x2="588.40" y2="138.20" stroke="#5070e0" stroke-width="1.0"/><line x1="588.40" y1="138.20" x2="588.40" y2="141.50" stroke="#8fd040" stroke-width="1.0"/><line x1="596.85" y1="134.90" x2="592.62" y2="138.20" stroke="#5070e0" stroke-width="1.0"/><line x1="592.62" y1="138.20" x2="588.40" y2="141.50" stroke="#8fd040" stroke-width="1.0"/><line x1="596.85" y1="134.90" x2="601.08" y2="138.20" stroke="#5070e0" stroke-width="1.0"/><line x1="601.08" y1="138.20" x2="605.30" y2="141.50" stroke="#8fd040" stroke-width="1.0"/><line x1="605.30" y1="134.90" x2="605.30" y2="138.20" stroke="#5070e0" stroke-width="1.0"/><line x1="605.30" y1="138.20" x2="605.30" y2="141.50" stroke="#8fd040" stroke-width="1.0"/><line x1="554.60" y1="141.50" x2="558.83" y2="144.95" stroke="#8fd040" stroke-width="1.0"/><line x1="558.83" y1="144.95" x2="563.05" y2="148.40" stroke="#c050e8" stroke-width="1.0"/><line x1="571.50" y1="141.50" x2="567.28" y2="144.95" stroke="#8fd040" stroke-width="1.0"/><line x1="567.28" y1="144.95" x2="563.05" y2="148.40" stroke="#c050e8" stroke-width="1.0"/><line x1="571.50" y1="141.50" x2="575.73" y2="144.95" stroke="#8fd040" stroke-width="1.0"/><line x1="575.73" y1="144.95" x2="579.95" y2="148.40" stroke="#c050e8" stroke-width="1.0"/><line x1="588.40" y1="141.50" x2="584.17" y2="144.95" stroke="#8fd040" stroke-width="1.0"/><line x1="584.17" y1="144.95" x2="579.95" y2="148.40" stroke="#c050e8" stroke-width="1.0"/><line x1="588.40" y1="141.50" x2="592.62" y2="144.95" stroke="#8fd040" stroke-width="1.0"/><line x1="592.62" y1="144.95" x2="596.85" y2="148.40" stroke="#c050e8" stroke-width="1.0"/><line x1="605.30" y1="141.50" x2="601.08" y2="144.95" stroke="#8fd040" stroke-width="1.0"/><line x1="601.08" y1="144.95" x2="596.85" y2="148.40" stroke="#c050e8" stroke-width="1.0"/><line x1="563.05" y1="148.40" x2="558.83" y2="151.15" stroke="#c050e8" stroke-width="1.0"/><line x1="558.83" y1="151.15" x2="554.60" y2="153.90" stroke="#f03030" stroke-width="1.0"/><line x1="563.05" y1="148.40" x2="567.28" y2="151.15" stroke="#c050e8" stroke-width="1.0"/><line x1="567.28" y1="151.15" x2="571.50" y2="153.90" stroke="#f03030" stroke-width="1.0"/><line x1="579.95" y1="148.40" x2="575.73" y2="151.15" stroke="#c050e8" stroke-width="1.0"/><line x1="575.73" y1="151.15" x2="571.50" y2="153.90" stroke="#f03030" stroke-width="1.0"/><line x1="579.95" y1="148.40" x2="584.17" y2="151.15" stroke="#c050e8" stroke-width="1.0"/><line x1="584.17" y1="151.15" x2="588.40" y2="153.90" stroke="#f03030" stroke-width="1.0"/><line x1="596.85" y1="148.40" x2="592.62" y2="151.15" stroke="#c050e8" stroke-width="1.0"/><line x1="592.62" y1="151.15" x2="588.40" y2="153.90" stroke="#f03030" stroke-width="1.0"/><line x1="596.85" y1="148.40" x2="601.08" y2="151.15" stroke="#c050e8" stroke-width="1.0"/><line x1="601.08" y1="151.15" x2="605.30" y2="153.90" stroke="#f03030" stroke-width="1.0"/><line x1="563.05" y1="153.90" x2="558.83" y2="156.55" stroke="#f03030" stroke-width="1.0"/><line x1="558.83" y1="156.55" x2="554.60" y2="159.20" stroke="#c050e8" stroke-width="1.0"/><line x1="563.05" y1="153.90" x2="567.28" y2="156.55" stroke="#f03030" stroke-width="1.0"/><line x1="567.28" y1="156.55" x2="571.50" y2="159.20" stroke="#c050e8" stroke-width="1.0"/><line x1="579.95" y1="153.90" x2="575.73" y2="156.55" stroke="#f03030" stroke-width="1.0"/><line x1="575.73" y1="156.55" x2="571.50" y2="159.20" stroke="#c050e8" stroke-width="1.0"/><line x1="579.95" y1="153.90" x2="584.17" y2="156.55" stroke="#f03030" stroke-width="1.0"/><line x1="584.17" y1="156.55" x2="588.40" y2="159.20" stroke="#c050e8" stroke-width="1.0"/><line x1="596.85" y1="153.90" x2="592.62" y2="156.55" stroke="#f03030" stroke-width="1.0"/><line x1="592.62" y1="156.55" x2="588.40" y2="159.20" stroke="#c050e8" stroke-width="1.0"/><line x1="596.85" y1="153.90" x2="601.08" y2="156.55" stroke="#f03030" stroke-width="1.0"/><line x1="601.08" y1="156.55" x2="605.30" y2="159.20" stroke="#c050e8" stroke-width="1.0"/><line x1="554.60" y1="159.20" x2="558.83" y2="162.75" stroke="#c050e8" stroke-width="1.0"/><line x1="558.83" y1="162.75" x2="563.05" y2="166.30" stroke="#8fd040" stroke-width="1.0"/><line x1="571.50" y1="159.20" x2="567.28" y2="162.75" stroke="#c050e8" stroke-width="1.0"/><line x1="567.28" y1="162.75" x2="563.05" y2="166.30" stroke="#8fd040" stroke-width="1.0"/><line x1="571.50" y1="159.20" x2="575.73" y2="162.75" stroke="#c050e8" stroke-width="1.0"/><line x1="575.73" y1="162.75" x2="579.95" y2="166.30" stroke="#8fd040" stroke-width="1.0"/><line x1="588.40" y1="159.20" x2="584.17" y2="162.75" stroke="#c050e8" stroke-width="1.0"/><line x1="584.17" y1="162.75" x2="579.95" y2="166.30" stroke="#8fd040" stroke-width="1.0"/><line x1="588.40" y1="159.20" x2="592.62" y2="162.75" stroke="#c050e8" stroke-width="1.0"/><line x1="592.62" y1="162.75" x2="596.85" y2="166.30" stroke="#8fd040" stroke-width="1.0"/><line x1="605.30" y1="159.20" x2="601.08" y2="162.75" stroke="#c050e8" stroke-width="1.0"/><line x1="601.08" y1="162.75" x2="596.85" y2="166.30" stroke="#8fd040" stroke-width="1.0"/><line x1="563.05" y1="166.30" x2="558.83" y2="169.55" stroke="#8fd040" stroke-width="1.0"/><line x1="558.83" y1="169.55" x2="554.60" y2="172.80" stroke="#5070e0" stroke-width="1.0"/><line x1="563.05" y1="166.30" x2="563.05" y2="169.55" stroke="#8fd040" stroke-width="1.0"/><line x1="563.05" y1="169.55" x2="563.05" y2="172.80" stroke="#5070e0" stroke-width="1.0"/><line x1="563.05" y1="166.30" x2="567.28" y2="169.55" stroke="#8fd040" stroke-width="1.0"/><line x1="567.28" y1="169.55" x2="571.50" y2="172.80" stroke="#5070e0" stroke-width="1.0"/><line x1="579.95" y1="166.30" x2="575.73" y2="169.55" stroke="#8fd040" stroke-width="1.0"/><line x1="575.73" y1="169.55" x2="571.50" y2="172.80" stroke="#5070e0" stroke-width="1.0"/><line x1="579.95" y1="166.30" x2="579.95" y2="169.55" stroke="#8fd040" stroke-width="1.0"/><line x1="579.95" y1="169.55" x2="579.95" y2="172.80" stroke="#5070e0" stroke-width="1.0"/><line x1="579.95" y1="166.30" x2="584.17" y2="169.55" stroke="#8fd040" stroke-width="1.0"/><line x1="584.17" y1="169.55" x2="588.40" y2="172.80" stroke="#5070e0" stroke-width="1.0"/><line x1="596.85" y1="166.30" x2="592.62" y2="169.55" stroke="#8fd040" stroke-width="1.0"/><line x1="592.62" y1="169.55" x2="588.40" y2="172.80" stroke="#5070e0" stroke-width="1.0"/><line x1="596.85" y1="166.30" x2="596.85" y2="169.55" stroke="#8fd040" stroke-width="1.0"/><line x1="596.85" y1="169.55" x2="596.85" y2="172.80" stroke="#5070e0" stroke-width="1.0"/><line x1="596.85" y1="166.30" x2="601.08" y2="169.55" stroke="#8fd040" stroke-width="1.0"/><line x1="601.08" y1="169.55" x2="605.30" y2="172.80" stroke="#5070e0" stroke-width="1.0"/><line x1="554.60" y1="172.80" x2="554.60" y2="176.10" stroke="#5070e0" stroke-width="1.0"/><line x1="554.60" y1="176.10" x2="554.60" y2="179.40" stroke="#8fd040" stroke-width="1.0"/><line x1="563.05" y1="172.80" x2="558.83" y2="176.10" stroke="#5070e0" stroke-width="1.0"/><line x1="558.83" y1="176.10" x2="554.60" y2="179.40" stroke="#8fd040" stroke-width="1.0"/><line x1="563.05" y1="172.80" x2="567.28" y2="176.10" stroke="#5070e0" stroke-width="1.0"/><line x1="567.28" y1="176.10" x2="571.50" y2="179.40" stroke="#8fd040" stroke-width="1.0"/><line x1="571.50" y1="172.80" x2="571.50" y2="176.10" stroke="#5070e0" stroke-width="1.0"/><line x1="571.50" y1="176.10" x2="571.50" y2="179.40" stroke="#8fd040" stroke-width="1.0"/><line x1="579.95" y1="172.80" x2="575.73" y2="176.10" stroke="#5070e0" stroke-width="1.0"/><line x1="575.73" y1="176.10" x2="571.50" y2="179.40" stroke="#8fd040" stroke-width="1.0"/><line x1="579.95" y1="172.80" x2="584.17" y2="176.10" stroke="#5070e0" stroke-width="1.0"/><line x1="584.17" y1="176.10" x2="588.40" y2="179.40" stroke="#8fd040" stroke-width="1.0"/><line x1="588.40" y1="172.80" x2="588.40" y2="176.10" stroke="#5070e0" stroke-width="1.0"/><line x1="588.40" y1="176.10" x2="588.40" y2="179.40" stroke="#8fd040" stroke-width="1.0"/><line x1="596.85" y1="172.80" x2="592.62" y2="176.10" stroke="#5070e0" stroke-width="1.0"/><line x1="592.62" y1="176.10" x2="588.40" y2="179.40" stroke="#8fd040" stroke-width="1.0"/><line x1="596.85" y1="172.80" x2="601.08" y2="176.10" stroke="#5070e0" stroke-width="1.0"/><line x1="601.08" y1="176.10" x2="605.30" y2="179.40" stroke="#8fd040" stroke-width="1.0"/><line x1="605.30" y1="172.80" x2="605.30" y2="176.10" stroke="#5070e0" stroke-width="1.0"/><line x1="605.30" y1="176.10" x2="605.30" y2="179.40" stroke="#8fd040" stroke-width="1.0"/><line x1="554.60" y1="179.40" x2="558.83" y2="182.85" stroke="#8fd040" stroke-width="1.0"/><line x1="558.83" y1="182.85" x2="563.05" y2="186.30" stroke="#c050e8" stroke-width="1.0"/><line x1="571.50" y1="179.40" x2="567.28" y2="182.85" stroke="#8fd040" stroke-width="1.0"/><line x1="567.28" y1="182.85" x2="563.05" y2="186.30" stroke="#c050e8" stroke-width="1.0"/><line x1="571.50" y1="179.40" x2="575.73" y2="182.85" stroke="#8fd040" stroke-width="1.0"/><line x1="575.73" y1="182.85" x2="579.95" y2="186.30" stroke="#c050e8" stroke-width="1.0"/><line x1="588.40" y1="179.40" x2="584.17" y2="182.85" stroke="#8fd040" stroke-width="1.0"/><line x1="584.17" y1="182.85" x2="579.95" y2="186.30" stroke="#c050e8" stroke-width="1.0"/><line x1="588.40" y1="179.40" x2="592.62" y2="182.85" stroke="#8fd040" stroke-width="1.0"/><line x1="592.62" y1="182.85" x2="596.85" y2="186.30" stroke="#c050e8" stroke-width="1.0"/><line x1="605.30" y1="179.40" x2="601.08" y2="182.85" stroke="#8fd040" stroke-width="1.0"/><line x1="601.08" y1="182.85" x2="596.85" y2="186.30" stroke="#c050e8" stroke-width="1.0"/><line x1="563.05" y1="186.30" x2="558.83" y2="189.05" stroke="#c050e8" stroke-width="1.0"/><line x1="558.83" y1="189.05" x2="554.60" y2="191.80" stroke="#f03030" stroke-width="1.0"/><line x1="563.05" y1="186.30" x2="567.28" y2="189.05" stroke="#c050e8" stroke-width="1.0"/><line x1="567.28" y1="189.05" x2="571.50" y2="191.80" stroke="#f03030" stroke-width="1.0"/><line x1="579.95" y1="186.30" x2="575.73" y2="189.05" stroke="#c050e8" stroke-width="1.0"/><line x1="575.73" y1="189.05" x2="571.50" y2="191.80" stroke="#f03030" stroke-width="1.0"/><line x1="579.95" y1="186.30" x2="584.17" y2="189.05" stroke="#c050e8" stroke-width="1.0"/><line x1="584.17" y1="189.05" x2="588.40" y2="191.80" stroke="#f03030" stroke-width="1.0"/><line x1="596.85" y1="186.30" x2="592.62" y2="189.05" stroke="#c050e8" stroke-width="1.0"/><line x1="592.62" y1="189.05" x2="588.40" y2="191.80" stroke="#f03030" stroke-width="1.0"/><line x1="596.85" y1="186.30" x2="601.08" y2="189.05" stroke="#c050e8" stroke-width="1.0"/><line x1="601.08" y1="189.05" x2="605.30" y2="191.80" stroke="#f03030" stroke-width="1.0"/><line x1="563.05" y1="191.80" x2="558.83" y2="194.45" stroke="#f03030" stroke-width="1.0"/><line x1="558.83" y1="194.45" x2="554.60" y2="197.10" stroke="#c050e8" stroke-width="1.0"/><line x1="563.05" y1="191.80" x2="567.28" y2="194.45" stroke="#f03030" stroke-width="1.0"/><line x1="567.28" y1="194.45" x2="571.50" y2="197.10" stroke="#c050e8" stroke-width="1.0"/><line x1="579.95" y1="191.80" x2="575.73" y2="194.45" stroke="#f03030" stroke-width="1.0"/><line x1="575.73" y1="194.45" x2="571.50" y2="197.10" stroke="#c050e8" stroke-width="1.0"/><line x1="579.95" y1="191.80" x2="584.17" y2="194.45" stroke="#f03030" stroke-width="1.0"/><line x1="584.17" y1="194.45" x2="588.40" y2="197.10" stroke="#c050e8" stroke-width="1.0"/><line x1="596.85" y1="191.80" x2="592.62" y2="194.45" stroke="#f03030" stroke-width="1.0"/><line x1="592.62" y1="194.45" x2="588.40" y2="197.10" stroke="#c050e8" stroke-width="1.0"/><line x1="596.85" y1="191.80" x2="601.08" y2="194.45" stroke="#f03030" stroke-width="1.0"/><line x1="601.08" y1="194.45" x2="605.30" y2="197.10" stroke="#c050e8" stroke-width="1.0"/><line x1="554.60" y1="197.10" x2="558.83" y2="200.65" stroke="#c050e8" stroke-width="1.0"/><line x1="558.83" y1="200.65" x2="563.05" y2="204.20" stroke="#8fd040" stroke-width="1.0"/><line x1="571.50" y1="197.10" x2="567.28" y2="200.65" stroke="#c050e8" stroke-width="1.0"/><line x1="567.28" y1="200.65" x2="563.05" y2="204.20" stroke="#8fd040" stroke-width="1.0"/><line x1="571.50" y1="197.10" x2="575.73" y2="200.65" stroke="#c050e8" stroke-width="1.0"/><line x1="575.73" y1="200.65" x2="579.95" y2="204.20" stroke="#8fd040" stroke-width="1.0"/><line x1="588.40" y1="197.10" x2="584.17" y2="200.65" stroke="#c050e8" stroke-width="1.0"/><line x1="584.17" y1="200.65" x2="579.95" y2="204.20" stroke="#8fd040" stroke-width="1.0"/><line x1="588.40" y1="197.10" x2="592.62" y2="200.65" stroke="#c050e8" stroke-width="1.0"/><line x1="592.62" y1="200.65" x2="596.85" y2="204.20" stroke="#8fd040" stroke-width="1.0"/><line x1="605.30" y1="197.10" x2="601.08" y2="200.65" stroke="#c050e8" stroke-width="1.0"/><line x1="601.08" y1="200.65" x2="596.85" y2="204.20" stroke="#8fd040" stroke-width="1.0"/><line x1="563.05" y1="204.20" x2="558.83" y2="207.45" stroke="#8fd040" stroke-width="1.0"/><line x1="558.83" y1="207.45" x2="554.60" y2="210.70" stroke="#5070e0" stroke-width="1.0"/><line x1="563.05" y1="204.20" x2="563.05" y2="207.45" stroke="#8fd040" stroke-width="1.0"/><line x1="563.05" y1="207.45" x2="563.05" y2="210.70" stroke="#5070e0" stroke-width="1.0"/><line x1="563.05" y1="204.20" x2="567.28" y2="207.45" stroke="#8fd040" stroke-width="1.0"/><line x1="567.28" y1="207.45" x2="571.50" y2="210.70" stroke="#5070e0" stroke-width="1.0"/><line x1="579.95" y1="204.20" x2="575.73" y2="207.45" stroke="#8fd040" stroke-width="1.0"/><line x1="575.73" y1="207.45" x2="571.50" y2="210.70" stroke="#5070e0" stroke-width="1.0"/><line x1="579.95" y1="204.20" x2="579.95" y2="207.45" stroke="#8fd040" stroke-width="1.0"/><line x1="579.95" y1="207.45" x2="579.95" y2="210.70" stroke="#5070e0" stroke-width="1.0"/><line x1="579.95" y1="204.20" x2="584.17" y2="207.45" stroke="#8fd040" stroke-width="1.0"/><line x1="584.17" y1="207.45" x2="588.40" y2="210.70" stroke="#5070e0" stroke-width="1.0"/><line x1="596.85" y1="204.20" x2="592.62" y2="207.45" stroke="#8fd040" stroke-width="1.0"/><line x1="592.62" y1="207.45" x2="588.40" y2="210.70" stroke="#5070e0" stroke-width="1.0"/><line x1="596.85" y1="204.20" x2="596.85" y2="207.45" stroke="#8fd040" stroke-width="1.0"/><line x1="596.85" y1="207.45" x2="596.85" y2="210.70" stroke="#5070e0" stroke-width="1.0"/><line x1="596.85" y1="204.20" x2="601.08" y2="207.45" stroke="#8fd040" stroke-width="1.0"/><line x1="601.08" y1="207.45" x2="605.30" y2="210.70" stroke="#5070e0" stroke-width="1.0"/><line x1="554.60" y1="210.70" x2="554.60" y2="214.00" stroke="#5070e0" stroke-width="1.0"/><line x1="554.60" y1="214.00" x2="554.60" y2="217.30" stroke="#8fd040" stroke-width="1.0"/><line x1="563.05" y1="210.70" x2="558.83" y2="214.00" stroke="#5070e0" stroke-width="1.0"/><line x1="558.83" y1="214.00" x2="554.60" y2="217.30" stroke="#8fd040" stroke-width="1.0"/><line x1="563.05" y1="210.70" x2="567.28" y2="214.00" stroke="#5070e0" stroke-width="1.0"/><line x1="567.28" y1="214.00" x2="571.50" y2="217.30" stroke="#8fd040" stroke-width="1.0"/><line x1="571.50" y1="210.70" x2="571.50" y2="214.00" stroke="#5070e0" stroke-width="1.0"/><line x1="571.50" y1="214.00" x2="571.50" y2="217.30" stroke="#8fd040" stroke-width="1.0"/><line x1="579.95" y1="210.70" x2="575.73" y2="214.00" stroke="#5070e0" stroke-width="1.0"/><line x1="575.73" y1="214.00" x2="571.50" y2="217.30" stroke="#8fd040" stroke-width="1.0"/><line x1="579.95" y1="210.70" x2="584.17" y2="214.00" stroke="#5070e0" stroke-width="1.0"/><line x1="584.17" y1="214.00" x2="588.40" y2="217.30" stroke="#8fd040" stroke-width="1.0"/><line x1="588.40" y1="210.70" x2="588.40" y2="214.00" stroke="#5070e0" stroke-width="1.0"/><line x1="588.40" y1="214.00" x2="588.40" y2="217.30" stroke="#8fd040" stroke-width="1.0"/><line x1="596.85" y1="210.70" x2="592.62" y2="214.00" stroke="#5070e0" stroke-width="1.0"/><line x1="592.62" y1="214.00" x2="588.40" y2="217.30" stroke="#8fd040" stroke-width="1.0"/><line x1="596.85" y1="210.70" x2="601.08" y2="214.00" stroke="#5070e0" stroke-width="1.0"/><line x1="601.08" y1="214.00" x2="605.30" y2="217.30" stroke="#8fd040" stroke-width="1.0"/><line x1="605.30" y1="210.70" x2="605.30" y2="214.00" stroke="#5070e0" stroke-width="1.0"/><line x1="605.30" y1="214.00" x2="605.30" y2="217.30" stroke="#8fd040" stroke-width="1.0"/><line x1="554.60" y1="217.30" x2="558.83" y2="220.75" stroke="#8fd040" stroke-width="1.0"/><line x1="558.83" y1="220.75" x2="563.05" y2="224.20" stroke="#c050e8" stroke-width="1.0"/><line x1="571.50" y1="217.30" x2="567.28" y2="220.75" stroke="#8fd040" stroke-width="1.0"/><line x1="567.28" y1="220.75" x2="563.05" y2="224.20" stroke="#c050e8" stroke-width="1.0"/><line x1="571.50" y1="217.30" x2="575.73" y2="220.75" stroke="#8fd040" stroke-width="1.0"/><line x1="575.73" y1="220.75" x2="579.95" y2="224.20" stroke="#c050e8" stroke-width="1.0"/><line x1="588.40" y1="217.30" x2="584.17" y2="220.75" stroke="#8fd040" stroke-width="1.0"/><line x1="584.17" y1="220.75" x2="579.95" y2="224.20" stroke="#c050e8" stroke-width="1.0"/><line x1="588.40" y1="217.30" x2="592.62" y2="220.75" stroke="#8fd040" stroke-width="1.0"/><line x1="592.62" y1="220.75" x2="596.85" y2="224.20" stroke="#c050e8" stroke-width="1.0"/><line x1="605.30" y1="217.30" x2="601.08" y2="220.75" stroke="#8fd040" stroke-width="1.0"/><line x1="601.08" y1="220.75" x2="596.85" y2="224.20" stroke="#c050e8" stroke-width="1.0"/><line x1="563.05" y1="224.20" x2="558.83" y2="226.80" stroke="#c050e8" stroke-width="1.0"/><line x1="558.83" y1="226.80" x2="554.60" y2="229.40" stroke="#f03030" stroke-width="1.0"/><line x1="563.05" y1="224.20" x2="567.28" y2="226.80" stroke="#c050e8" stroke-width="1.0"/><line x1="567.28" y1="226.80" x2="571.50" y2="229.40" stroke="#f03030" stroke-width="1.0"/><line x1="579.95" y1="224.20" x2="575.73" y2="226.80" stroke="#c050e8" stroke-width="1.0"/><line x1="575.73" y1="226.80" x2="571.50" y2="229.40" stroke="#f03030" stroke-width="1.0"/><line x1="579.95" y1="224.20" x2="584.17" y2="226.80" stroke="#c050e8" stroke-width="1.0"/><line x1="584.17" y1="226.80" x2="588.40" y2="229.40" stroke="#f03030" stroke-width="1.0"/><line x1="596.85" y1="224.20" x2="592.62" y2="226.80" stroke="#c050e8" stroke-width="1.0"/><line x1="592.62" y1="226.80" x2="588.40" y2="229.40" stroke="#f03030" stroke-width="1.0"/><line x1="596.85" y1="224.20" x2="601.08" y2="226.80" stroke="#c050e8" stroke-width="1.0"/><line x1="601.08" y1="226.80" x2="605.30" y2="229.40" stroke="#f03030" stroke-width="1.0"/></g>
<circle cx="554.60" cy="116.00" r="1.2" fill="url(#aO)"/>
<circle cx="563.05" cy="115.60" r="1.2" fill="url(#aO)"/>
<circle cx="571.50" cy="116.00" r="1.2" fill="url(#aO)"/>
<circle cx="579.95" cy="115.60" r="1.2" fill="url(#aO)"/>
<circle cx="588.40" cy="116.00" r="1.2" fill="url(#aO)"/>
<circle cx="596.85" cy="115.60" r="1.2" fill="url(#aO)"/>
<circle cx="605.30" cy="116.00" r="1.2" fill="url(#aO)"/>
<circle cx="554.60" cy="121.30" r="2.9" fill="url(#aBi)"/>
<circle cx="571.50" cy="121.30" r="2.9" fill="url(#aBi)"/>
<circle cx="588.40" cy="121.30" r="2.9" fill="url(#aBi)"/>
<circle cx="605.30" cy="121.30" r="2.9" fill="url(#aBi)"/>
<circle cx="563.05" cy="128.40" r="1.85" fill="url(#aSe)"/>
<circle cx="579.95" cy="128.40" r="1.85" fill="url(#aSe)"/>
<circle cx="596.85" cy="128.40" r="1.85" fill="url(#aSe)"/>
<circle cx="554.60" cy="134.90" r="2.15" fill="url(#aCu)"/>
<circle cx="563.05" cy="134.90" r="2.15" fill="url(#aCu)"/>
<circle cx="571.50" cy="134.90" r="2.15" fill="url(#aCu)"/>
<circle cx="579.95" cy="134.90" r="2.15" fill="url(#aCu)"/>
<circle cx="588.40" cy="134.90" r="2.15" fill="url(#aCu)"/>
<circle cx="596.85" cy="134.90" r="2.15" fill="url(#aCu)"/>
<circle cx="605.30" cy="134.90" r="2.15" fill="url(#aCu)"/>
<circle cx="554.60" cy="141.50" r="1.85" fill="url(#aSe)"/>
<circle cx="571.50" cy="141.50" r="1.85" fill="url(#aSe)"/>
<circle cx="588.40" cy="141.50" r="1.85" fill="url(#aSe)"/>
<circle cx="605.30" cy="141.50" r="1.85" fill="url(#aSe)"/>
<circle cx="563.05" cy="148.40" r="2.9" fill="url(#aBi)"/>
<circle cx="579.95" cy="148.40" r="2.9" fill="url(#aBi)"/>
<circle cx="596.85" cy="148.40" r="2.9" fill="url(#aBi)"/>
<circle cx="554.60" cy="153.90" r="1.2" fill="url(#aO)"/>
<circle cx="563.05" cy="153.50" r="1.2" fill="url(#aO)"/>
<circle cx="571.50" cy="153.90" r="1.2" fill="url(#aO)"/>
<circle cx="579.95" cy="153.50" r="1.2" fill="url(#aO)"/>
<circle cx="588.40" cy="153.90" r="1.2" fill="url(#aO)"/>
<circle cx="596.85" cy="153.50" r="1.2" fill="url(#aO)"/>
<circle cx="605.30" cy="153.90" r="1.2" fill="url(#aO)"/>
<circle cx="554.60" cy="159.20" r="2.9" fill="url(#aBi)"/>
<circle cx="571.50" cy="159.20" r="2.9" fill="url(#aBi)"/>
<circle cx="588.40" cy="159.20" r="2.9" fill="url(#aBi)"/>
<circle cx="605.30" cy="159.20" r="2.9" fill="url(#aBi)"/>
<circle cx="563.05" cy="166.30" r="1.85" fill="url(#aSe)"/>
<circle cx="579.95" cy="166.30" r="1.85" fill="url(#aSe)"/>
<circle cx="596.85" cy="166.30" r="1.85" fill="url(#aSe)"/>
<circle cx="554.60" cy="172.80" r="2.15" fill="url(#aCu)"/>
<circle cx="563.05" cy="172.80" r="2.15" fill="url(#aCu)"/>
<circle cx="571.50" cy="172.80" r="2.15" fill="url(#aCu)"/>
<circle cx="579.95" cy="172.80" r="2.15" fill="url(#aCu)"/>
<circle cx="588.40" cy="172.80" r="2.15" fill="url(#aCu)"/>
<circle cx="596.85" cy="172.80" r="2.15" fill="url(#aCu)"/>
<circle cx="605.30" cy="172.80" r="2.15" fill="url(#aCu)"/>
<circle cx="554.60" cy="179.40" r="1.85" fill="url(#aSe)"/>
<circle cx="571.50" cy="179.40" r="1.85" fill="url(#aSe)"/>
<circle cx="588.40" cy="179.40" r="1.85" fill="url(#aSe)"/>
<circle cx="605.30" cy="179.40" r="1.85" fill="url(#aSe)"/>
<circle cx="563.05" cy="186.30" r="2.9" fill="url(#aBi)"/>
<circle cx="579.95" cy="186.30" r="2.9" fill="url(#aBi)"/>
<circle cx="596.85" cy="186.30" r="2.9" fill="url(#aBi)"/>
<circle cx="554.60" cy="191.80" r="1.2" fill="url(#aO)"/>
<circle cx="563.05" cy="191.40" r="1.2" fill="url(#aO)"/>
<circle cx="571.50" cy="191.80" r="1.2" fill="url(#aO)"/>
<circle cx="579.95" cy="191.40" r="1.2" fill="url(#aO)"/>
<circle cx="588.40" cy="191.80" r="1.2" fill="url(#aO)"/>
<circle cx="596.85" cy="191.40" r="1.2" fill="url(#aO)"/>
<circle cx="605.30" cy="191.80" r="1.2" fill="url(#aO)"/>
<circle cx="554.60" cy="197.10" r="2.9" fill="url(#aBi)"/>
<circle cx="571.50" cy="197.10" r="2.9" fill="url(#aBi)"/>
<circle cx="588.40" cy="197.10" r="2.9" fill="url(#aBi)"/>
<circle cx="605.30" cy="197.10" r="2.9" fill="url(#aBi)"/>
<circle cx="563.05" cy="204.20" r="1.85" fill="url(#aSe)"/>
<circle cx="579.95" cy="204.20" r="1.85" fill="url(#aSe)"/>
<circle cx="596.85" cy="204.20" r="1.85" fill="url(#aSe)"/>
<circle cx="554.60" cy="210.70" r="2.15" fill="url(#aCu)"/>
<circle cx="563.05" cy="210.70" r="2.15" fill="url(#aCu)"/>
<circle cx="571.50" cy="210.70" r="2.15" fill="url(#aCu)"/>
<circle cx="579.95" cy="210.70" r="2.15" fill="url(#aCu)"/>
<circle cx="588.40" cy="210.70" r="2.15" fill="url(#aCu)"/>
<circle cx="596.85" cy="210.70" r="2.15" fill="url(#aCu)"/>
<circle cx="605.30" cy="210.70" r="2.15" fill="url(#aCu)"/>
<circle cx="554.60" cy="217.30" r="1.85" fill="url(#aSe)"/>
<circle cx="571.50" cy="217.30" r="1.85" fill="url(#aSe)"/>
<circle cx="588.40" cy="217.30" r="1.85" fill="url(#aSe)"/>
<circle cx="605.30" cy="217.30" r="1.85" fill="url(#aSe)"/>
<circle cx="563.05" cy="224.20" r="2.9" fill="url(#aBi)"/>
<circle cx="579.95" cy="224.20" r="2.9" fill="url(#aBi)"/>
<circle cx="596.85" cy="224.20" r="2.9" fill="url(#aBi)"/>
<circle cx="554.60" cy="229.40" r="1.2" fill="url(#aO)"/>
<circle cx="563.05" cy="229.00" r="1.2" fill="url(#aO)"/>
<circle cx="571.50" cy="229.40" r="1.2" fill="url(#aO)"/>
<circle cx="579.95" cy="229.00" r="1.2" fill="url(#aO)"/>
<circle cx="588.40" cy="229.40" r="1.2" fill="url(#aO)"/>
<circle cx="596.85" cy="229.00" r="1.2" fill="url(#aO)"/>
<circle cx="605.30" cy="229.40" r="1.2" fill="url(#aO)"/>
<polygon points="625,118.4 637.2,130.4 631.2,130.4 631.2,215.6 637.2,215.6 625,227.8 612.8,215.6 618.8,215.6 618.8,130.4 612.8,130.4" fill="url(#strG)"/>
<text transform="translate(629.0,171.7) rotate(-90)" font-size="11" text-anchor="middle" fill="#111">Strain</text>
<text x="518.40" y="153.90" font-size="10.6" text-anchor="start" fill="#000" >L1</text>
<text x="518.40" y="173.60" font-size="10.6" text-anchor="start" fill="#000" >L2</text>
<text x="518.60" y="195.50" font-size="10.6" text-anchor="start" fill="#000" >L3</text>
<path d="M519.5,162.9 L523.1,157.4 L526.7,162.9 M519.5,184.6 L523.1,179.1 L526.7,184.6" stroke="#111" stroke-width="1.05" fill="none"/>
<path d="M540.8,154.6 H554.6 M540.8,154.6 V180.0 H554.6 M545.1,155.4 V173.6 H554.6" stroke="#7a7a7a" stroke-width="1.1" fill="none"/>
<path d="M532.3,153.3 L541.3,154.7 M531.7,169.3 L544.5,165.6 M530.7,184.3 L540.0,172.0 M546.4,156.2 L551.2,159.0" stroke="#222" stroke-width="0.8" fill="none"/>
<path d="M544.5,165.6 l-2.4,-0.5 M544.5,165.6 l-1.8,1.7 M540,172 l-2.1,1.0 M540,172 l-0.2,2.4 M551.2,159 l-2.3,-0.2 M551.2,159 l-1.2,-2.0" stroke="#222" stroke-width="0.7" fill="none"/>
<rect x="48.90" y="510.90" width="14.3" height="17.0" fill="url(#cOb)"/>
<rect x="63.20" y="342.90" width="14.3" height="185.0" fill="url(#cGb)"/>
<rect x="77.50" y="326.30" width="14.3" height="201.6" fill="url(#cPb)"/>
<rect x="102.00" y="503.60" width="14.3" height="24.3" fill="url(#cOb)"/>
<rect x="116.30" y="348.80" width="14.3" height="179.1" fill="url(#cGb)"/>
<rect x="130.60" y="333.90" width="14.3" height="194.0" fill="url(#cPb)"/>
<rect x="155.10" y="495.80" width="14.3" height="32.1" fill="url(#cOb)"/>
<rect x="169.40" y="355.80" width="14.3" height="172.1" fill="url(#cGb)"/>
<rect x="183.70" y="344.10" width="14.3" height="183.8" fill="url(#cPb)"/>
<rect x="208.20" y="488.20" width="14.3" height="39.7" fill="url(#cOb)"/>
<rect x="222.50" y="362.70" width="14.3" height="165.2" fill="url(#cGb)"/>
<rect x="236.80" y="354.50" width="14.3" height="173.4" fill="url(#cPb)"/>
<rect x="261.30" y="481.30" width="14.3" height="46.6" fill="url(#cOb)"/>
<rect x="275.60" y="368.20" width="14.3" height="159.7" fill="url(#cGb)"/>
<rect x="289.90" y="367.70" width="14.3" height="160.2" fill="url(#cPb)"/>
<rect x="85.8" y="298.8" width="24.7" height="11.9" fill="url(#cO)"/>
<rect x="152.3" y="298.8" width="24.7" height="11.9" fill="url(#cG)"/>
<rect x="217.1" y="298.8" width="24.4" height="11.9" fill="url(#cP)"/>
<text x="114.40" y="309.20" font-size="11.4" text-anchor="start" fill="#f9c39a" >Bi-Se</text>
<text x="181.00" y="309.20" font-size="11.4" text-anchor="start" fill="#3daa3d" >Bi-O</text>
<text x="246.00" y="309.20" font-size="11.4" text-anchor="start" fill="#d4a6e4" >Se-Cu</text>
<polyline points="56.60,506.00 109.70,506.00 162.80,506.00 215.90,506.00 269.00,506.00" fill="none" stroke="#c8641e" stroke-width="1.2" stroke-dasharray="1.4 2"/>
<polyline points="83.60,480.20 136.67,479.25 189.74,478.30 242.81,477.35 295.88,476.40" fill="none" stroke="#8a44a8" stroke-width="1.2" stroke-dasharray="1.4 2"/>
<polyline points="70.30,421.70 123.40,416.60 176.50,411.50 229.60,406.40 282.70,401.30" fill="none" stroke="#22a022" stroke-width="1.3" stroke-dasharray="1.4 2"/>
<polygon points="56.60,502.00 60.80,509.10 52.40,509.10" fill="none" stroke="#c05a14" stroke-width="0.9"/>
<polygon points="109.70,502.00 113.90,509.10 105.50,509.10" fill="none" stroke="#c05a14" stroke-width="0.9"/>
<polygon points="162.80,502.00 167.00,509.10 158.60,509.10" fill="none" stroke="#c05a14" stroke-width="0.9"/>
<polygon points="215.90,502.00 220.10,509.10 211.70,509.10" fill="none" stroke="#c05a14" stroke-width="0.9"/>
<polygon points="269.00,502.00 273.20,509.10 264.80,509.10" fill="none" stroke="#c05a14" stroke-width="0.9"/>
<polygon points="83.60,476.60 87.10,480.20 83.60,483.80 80.10,480.20" fill="none" stroke="#7e3a9e" stroke-width="0.9"/>
<polygon points="136.67,475.65 140.17,479.25 136.67,482.85 133.17,479.25" fill="none" stroke="#7e3a9e" stroke-width="0.9"/>
<polygon points="189.74,474.70 193.24,478.30 189.74,481.90 186.24,478.30" fill="none" stroke="#7e3a9e" stroke-width="0.9"/>
<polygon points="242.81,473.75 246.31,477.35 242.81,480.95 239.31,477.35" fill="none" stroke="#7e3a9e" stroke-width="0.9"/>
<polygon points="295.88,472.80 299.38,476.40 295.88,480.00 292.38,476.40" fill="none" stroke="#7e3a9e" stroke-width="0.9"/>
<polygon points="70.30,417.10 71.42,420.16 74.67,420.28 72.11,422.29 73.00,425.42 70.30,423.60 67.60,425.42 68.49,422.29 65.93,420.28 69.18,420.16" fill="none" stroke="#1e8c1e" stroke-width="0.9"/>
<polygon points="123.40,412.00 124.52,415.06 127.77,415.18 125.21,417.19 126.10,420.32 123.40,418.50 120.70,420.32 121.59,417.19 119.03,415.18 122.28,415.06" fill="none" stroke="#1e8c1e" stroke-width="0.9"/>
<polygon points="176.50,406.90 177.62,409.96 180.87,410.08 178.31,412.09 179.20,415.22 176.50,413.40 173.80,415.22 174.69,412.09 172.13,410.08 175.38,409.96" fill="none" stroke="#1e8c1e" stroke-width="0.9"/>
<polygon points="229.60,401.80 230.72,404.86 233.97,404.98 231.41,406.99 232.30,410.12 229.60,408.30 226.90,410.12 227.79,406.99 225.23,404.98 228.48,404.86" fill="none" stroke="#1e8c1e" stroke-width="0.9"/>
<polygon points="282.70,396.70 283.82,399.76 287.07,399.88 284.51,401.89 285.40,405.02 282.70,403.20 280.00,405.02 280.89,401.89 278.33,399.88 281.58,399.76" fill="none" stroke="#1e8c1e" stroke-width="0.9"/>
<text x="37.90" y="532.40" font-size="12.9" text-anchor="end" fill="#000" >0.0</text>
<text x="37.90" y="485.55" font-size="12.9" text-anchor="end" fill="#000" >0.5</text>
<text x="37.90" y="438.70" font-size="12.9" text-anchor="end" fill="#000" >1.0</text>
<text x="37.90" y="391.85" font-size="12.9" text-anchor="end" fill="#000" >1.5</text>
<text x="37.90" y="345.00" font-size="12.9" text-anchor="end" fill="#000" >2.0</text>
<text x="37.90" y="298.15" font-size="12.9" text-anchor="end" fill="#000" >2.5</text>
<text x="70.35" y="544.90" font-size="12.9" text-anchor="middle" fill="#000" >+0%</text>
<text x="123.45" y="544.90" font-size="12.9" text-anchor="middle" fill="#000" >+1%</text>
<text x="176.55" y="544.90" font-size="12.9" text-anchor="middle" fill="#000" >+2%</text>
<text x="229.65" y="544.90" font-size="12.9" text-anchor="middle" fill="#000" >+3%</text>
<text x="282.75" y="544.90" font-size="12.9" text-anchor="middle" fill="#000" >+4%</text>
<text x="314.50" y="462.00" font-size="12.9" text-anchor="start" fill="#000" >3.1</text>
<text x="314.50" y="429.30" font-size="12.9" text-anchor="start" fill="#000" >3.2</text>
<text x="314.50" y="396.60" font-size="12.9" text-anchor="start" fill="#000" >3.3</text>
<text x="314.50" y="363.90" font-size="12.9" text-anchor="start" fill="#000" >3.4</text>
<text x="314.50" y="331.20" font-size="12.9" text-anchor="start" fill="#000" >3.5</text>
<text x="314.50" y="298.50" font-size="12.9" text-anchor="start" fill="#000" >3.6</text>
<text x="314.50" y="532.40" font-size="12.9" text-anchor="start" fill="#000" >2.2</text>
<text x="314.50" y="499.00" font-size="12.9" text-anchor="start" fill="#000" >2.3</text>
<path d="M44.0,527.90 h5.2 M44.0,504.47 h2.6 M44.0,481.05 h5.2 M44.0,457.62 h2.6 M44.0,434.20 h5.2 M44.0,410.77 h2.6 M44.0,387.35 h5.2 M44.0,363.92 h2.6 M44.0,340.50 h5.2 M44.0,317.07 h2.6 M44.0,293.65 h5.2 M70.35,527.9 v-5.2 M96.90,527.9 v-2.6 M123.45,527.9 v-5.2 M150.00,527.9 v-2.6 M176.55,527.9 v-5.2 M203.10,527.9 v-2.6 M229.65,527.9 v-5.2 M256.20,527.9 v-2.6 M282.75,527.9 v-5.2 M309.30,527.9 v-2.6 M43.80,527.9 v-2.6 M309.1,457.50 h-5.2 M309.1,441.15 h-2.6 M309.1,424.80 h-5.2 M309.1,408.45 h-2.6 M309.1,392.10 h-5.2 M309.1,375.75 h-2.6 M309.1,359.40 h-5.2 M309.1,343.05 h-2.6 M309.1,326.70 h-5.2 M309.1,310.35 h-2.6 M309.1,294.00 h-5.2 M309.1,527.90 h-5.2 M309.1,511.20 h-2.6 M309.1,494.50 h-5.2 M309.1,477.80 h-2.6" stroke="#000" stroke-width="1" fill="none"/>
<path d="M44.0,293.7 V527.9 H309.1 V463.2 M309.1,459.2 V293.7 H44.0" stroke="#000" stroke-width="1.45" fill="none"/>
<path d="M305.1,459.6 L313.6,456.3 M305.1,464.4 L313.6,460.5" stroke="#000" stroke-width="1.1" fill="none"/>
<text transform="translate(14.6,410.3) rotate(-90)" font-size="14.8" text-anchor="middle">Force constants (|&#934;|)</text>
<text transform="translate(348.4,409.2) rotate(-90)" font-size="15.1" text-anchor="middle">Bond lengths (&#197;)</text>
<text x="176.20" y="557.40" font-size="14.8" text-anchor="middle" fill="#000" >Nearest neighbor pair</text>
<rect x="394.6" y="286.2" width="266.79999999999995" height="74.0" fill="url(#dbg0)"/>
<clipPath id="dc0"><rect x="394.6" y="286.2" width="266.79999999999995" height="73.0"/></clipPath>
<g clip-path="url(#dc0)"><polyline points="394.60,360.40 395.13,360.40 395.66,360.40 396.19,360.40 396.72,360.40 397.25,360.40 397.78,360.40 398.31,360.40 398.84,360.40 399.38,360.40 399.91,360.40 400.44,360.40 400.97,360.40 401.50,360.40 402.03,360.40 402.56,360.40 403.09,360.40 403.62,360.40 404.15,360.40 404.68,360.40 405.21,360.40 405.74,360.40 406.27,360.40 406.80,360.40 407.33,360.40 407.87,360.40 408.40,360.40 408.93,360.40 409.46,360.40 409.99,360.40 410.52,360.40 411.05,360.40 411.58,360.40 412.11,360.40 412.64,360.40 413.17,360.40 413.70,360.40 414.23,360.40 414.76,360.40 415.29,360.40 415.82,360.40 416.35,360.40 416.89,360.40 417.42,360.40 417.95,360.40 418.48,360.40 419.01,360.40 419.54,360.40 420.07,360.40 420.60,360.40 421.13,360.40 421.66,360.40 422.19,360.40 422.72,360.40 423.25,360.40 423.78,360.40 424.31,360.40 424.84,360.40 425.37,360.40 425.91,360.40 426.44,360.40 426.97,360.40 427.50,360.40 428.03,360.40 428.56,360.40 429.09,360.40 429.62,360.40 430.15,360.40 430.68,360.40 431.21,360.40 431.74,360.40 432.27,360.40 432.80,360.40 433.33,360.40 433.86,360.40 434.40,360.40 434.93,360.40 435.46,360.40 435.99,360.40 436.52,360.40 437.05,360.40 437.58,360.40 438.11,360.40 438.64,360.40 439.17,360.40 439.70,360.40 440.23,360.40 440.76,360.40 441.29,360.40 441.82,360.40 442.35,360.40 442.88,360.40 443.42,360.40 443.95,360.40 444.48,360.39 445.01,360.38 445.54,360.36 446.07,360.31 446.60,360.22 447.13,360.04 447.66,359.71 448.19,359.14 448.72,358.19 449.25,356.70 449.78,354.46 450.31,351.24 450.84,346.84 451.37,341.17 451.90,334.22 452.44,326.23 452.97,317.61 453.50,309.00 454.03,301.18 454.56,294.96 455.09,291.03 455.62,289.86 456.15,291.60 456.68,296.04 457.21,302.64 457.74,310.68 458.27,319.35 458.80,327.89 459.33,335.71 459.86,342.41 460.39,347.82 460.93,351.97 461.46,354.98 461.99,357.06 462.52,358.42 463.05,359.28 463.58,359.79 464.11,360.08 464.64,360.24 465.17,360.32 465.70,360.36 466.23,360.38 466.76,360.39 467.29,360.40 467.82,360.40 468.35,360.40 468.88,360.40 469.41,360.40 469.95,360.40 470.48,360.40 471.01,360.40 471.54,360.40 472.07,360.40 472.60,360.40 473.13,360.40 473.66,360.40 474.19,360.40 474.72,360.40 475.25,360.40 475.78,360.40 476.31,360.40 476.84,360.40 477.37,360.40 477.90,360.40 478.43,360.40 478.97,360.40 479.50,360.40 480.03,360.40 480.56,360.40 481.09,360.40 481.62,360.40 482.15,360.40 482.68,360.40 483.21,360.40 483.74,360.40 484.27,360.40 484.80,360.40 485.33,360.40 485.86,360.40 486.39,360.40 486.92,360.40 487.46,360.40 487.99,360.40 488.52,360.40 489.05,360.40 489.58,360.40 490.11,360.40 490.64,360.40 491.17,360.40 491.70,360.40 492.23,360.40 492.76,360.40 493.29,360.40 493.82,360.40 494.35,360.40 494.88,360.40 495.41,360.40 495.94,360.40 496.48,360.40 497.01,360.40 497.54,360.40 498.07,360.40 498.60,360.40 499.13,360.40 499.66,360.40 500.19,360.40 500.72,360.40 501.25,360.40 501.78,360.40 502.31,360.40 502.84,360.40 503.37,360.39 503.90,360.38 504.43,360.36 504.96,360.33 505.50,360.26 506.03,360.14 506.56,359.94 507.09,359.60 507.62,359.07 508.15,358.27 508.68,357.11 509.21,355.50 509.74,353.36 510.27,350.64 510.80,347.36 511.33,343.59 511.86,339.50 512.39,335.34 512.92,331.43 513.45,328.10 513.99,325.67 514.52,324.38 515.05,324.38 515.58,325.67 516.11,328.10 516.64,331.43 517.17,335.34 517.70,339.50 518.23,343.59 518.76,347.36 519.29,350.64 519.82,353.36 520.35,355.50 520.88,357.11 521.41,358.27 521.94,359.07 522.47,359.60 523.01,359.94 523.54,360.14 524.07,360.26 524.60,360.33 525.13,360.36 525.66,360.38 526.19,360.39 526.72,360.40 527.25,360.40 527.78,360.40 528.31,360.40 528.84,360.40 529.37,360.40 529.90,360.40 530.43,360.40 530.96,360.40 531.49,360.40 532.03,360.40 532.56,360.40 533.09,360.40 533.62,360.40 534.15,360.40 534.68,360.40 535.21,360.40 535.74,360.40 536.27,360.40 536.80,360.40 537.33,360.40 537.86,360.40 538.39,360.40 538.92,360.40 539.45,360.40 539.98,360.40 540.52,360.40 541.05,360.40 541.58,360.40 542.11,360.40 542.64,360.40 543.17,360.40 543.70,360.40 544.23,360.40 544.76,360.39 545.29,360.39 545.82,360.37 546.35,360.33 546.88,360.25 547.41,360.10 547.94,359.84 548.47,359.42 549.00,358.79 549.54,357.92 550.07,356.80 550.60,355.50 551.13,354.12 551.66,352.85 552.19,351.87 552.72,351.35 553.25,351.38 553.78,351.95 554.31,352.97 554.84,354.26 555.37,355.63 555.90,356.92 556.43,358.02 556.96,358.87 557.49,359.47 558.02,359.87 558.56,360.12 559.09,360.26 559.62,360.33 560.15,360.37 560.68,360.39 561.21,360.40 561.74,360.40 562.27,360.40 562.80,360.40 563.33,360.40 563.86,360.40 564.39,360.40 564.92,360.40 565.45,360.40 565.98,360.40 566.51,360.40 567.05,360.40 567.58,360.40 568.11,360.40 568.64,360.40 569.17,360.40 569.70,360.40 570.23,360.40 570.76,360.40 571.29,360.40 571.82,360.40 572.35,360.40 572.88,360.40 573.41,360.40 573.94,360.40 574.47,360.40 575.00,360.40 575.53,360.40 576.07,360.40 576.60,360.39 577.13,360.37 577.66,360.33 578.19,360.24 578.72,360.07 579.25,359.76 579.78,359.25 580.31,358.45 580.84,357.30 581.37,355.76 581.90,353.87 582.43,351.78 582.96,349.70 583.49,347.93 584.02,346.75 584.55,346.36 585.09,346.84 585.62,348.09 586.15,349.90 586.68,351.99 587.21,354.07 587.74,355.93 588.27,357.43 588.80,358.55 589.33,359.31 589.86,359.80 590.39,360.09 590.92,360.25 591.45,360.33 591.98,360.37 592.51,360.39 593.04,360.39 593.58,360.40 594.11,360.40 594.64,360.39 595.17,360.39 595.70,360.37 596.23,360.35 596.76,360.32 597.29,360.26 597.82,360.19 598.35,360.07 598.88,359.92 599.41,359.73 599.94,359.50 600.47,359.23 601.00,358.94 601.53,358.65 602.06,358.39 602.60,358.17 603.13,358.03 603.66,357.97 604.19,357.98 604.72,358.05 605.25,358.13 605.78,358.15 606.31,358.01 606.84,357.63 607.37,356.92 607.90,355.81 608.43,354.32 608.96,352.56 609.49,350.72 610.02,349.06 610.55,347.86 611.08,347.33 611.62,347.60 612.15,348.61 612.68,350.19 613.21,352.09 613.74,354.05 614.27,355.84 614.80,357.33 615.33,358.45 615.86,359.24 616.39,359.75 616.92,360.06 617.45,360.23 617.98,360.32 618.51,360.37 619.04,360.39 619.57,360.39 620.11,360.40 620.64,360.40 621.17,360.40 621.70,360.40 622.23,360.40 622.76,360.40 623.29,360.40 623.82,360.40 624.35,360.40 624.88,360.39 625.41,360.38 625.94,360.36 626.47,360.32 627.00,360.25 627.53,360.11 628.06,359.89 628.59,359.55 629.13,359.06 629.66,358.40 630.19,357.57 630.72,356.62 631.25,355.62 631.78,354.67 632.31,353.91 632.84,353.45 633.37,353.35 633.90,353.64 634.43,354.26 634.96,355.13 635.49,356.12 636.02,357.11 636.55,358.01 637.08,358.75 637.61,359.33 638.15,359.74 638.68,360.01 639.21,360.19 639.74,360.29 640.27,360.35 640.80,360.37 641.33,360.39 641.86,360.40 642.39,360.40 642.92,360.40 643.45,360.40 643.98,360.40 644.51,360.40 645.04,360.40 645.57,360.40 646.10,360.40 646.63,360.40 647.17,360.40 647.70,360.39 648.23,360.39 648.76,360.36 649.29,360.32 649.82,360.23 650.35,360.05 650.88,359.73 651.41,359.20 651.94,358.40 652.47,357.25 653.00,355.75 653.53,353.94 654.06,351.97 654.59,350.08 655.12,348.52 655.66,347.55 656.19,347.35 656.72,347.95 657.25,349.24 657.78,351.00 658.31,352.96" fill="none" stroke="#40b040" stroke-width="0.95" stroke-linejoin="round"/><polyline points="394.60,360.40 395.13,360.40 395.66,360.40 396.19,360.40 396.72,360.40 397.25,360.40 397.78,360.40 398.31,360.40 398.84,360.40 399.38,360.40 399.91,360.40 400.44,360.40 400.97,360.40 401.50,360.40 402.03,360.40 402.56,360.40 403.09,360.40 403.62,360.40 404.15,360.40 404.68,360.40 405.21,360.40 405.74,360.40 406.27,360.40 406.80,360.40 407.33,360.40 407.87,360.40 408.40,360.40 408.93,360.40 409.46,360.40 409.99,360.40 410.52,360.40 411.05,360.40 411.58,360.40 412.11,360.40 412.64,360.40 413.17,360.40 413.70,360.40 414.23,360.40 414.76,360.40 415.29,360.40 415.82,360.40 416.35,360.40 416.89,360.40 417.42,360.40 417.95,360.40 418.48,360.40 419.01,360.40 419.54,360.40 420.07,360.40 420.60,360.40 421.13,360.40 421.66,360.40 422.19,360.40 422.72,360.40 423.25,360.40 423.78,360.40 424.31,360.40 424.84,360.40 425.37,360.40 425.91,360.40 426.44,360.40 426.97,360.40 427.50,360.40 428.03,360.40 428.56,360.40 429.09,360.40 429.62,360.40 430.15,360.40 430.68,360.40 431.21,360.40 431.74,360.40 432.27,360.40 432.80,360.40 433.33,360.40 433.86,360.40 434.40,360.40 434.93,360.40 435.46,360.40 435.99,360.40 436.52,360.40 437.05,360.40 437.58,360.40 438.11,360.40 438.64,360.40 439.17,360.40 439.70,360.40 440.23,360.40 440.76,360.40 441.29,360.40 441.82,360.40 442.35,360.40 442.88,360.40 443.42,360.40 443.95,360.40 444.48,360.39 445.01,360.38 445.54,360.36 446.07,360.31 446.60,360.22 447.13,360.04 447.66,359.71 448.19,359.14 448.72,358.20 449.25,356.72 449.78,354.48 450.31,351.28 450.84,346.91 451.37,341.25 451.90,334.34 452.44,326.38 452.97,317.80 453.50,309.23 454.03,301.45 454.56,295.25 455.09,291.34 455.62,290.18 456.15,291.91 456.68,296.33 457.21,302.91 457.74,310.91 458.27,319.54 458.80,328.04 459.33,335.82 459.86,342.49 460.39,347.88 460.93,352.01 461.46,355.00 461.99,357.07 462.52,358.43 463.05,359.28 463.58,359.79 464.11,360.08 464.64,360.24 465.17,360.32 465.70,360.36 466.23,360.38 466.76,360.39 467.29,360.40 467.82,360.40 468.35,360.40 468.88,360.40 469.41,360.40 469.95,360.40 470.48,360.40 471.01,360.40 471.54,360.40 472.07,360.40 472.60,360.40 473.13,360.40 473.66,360.40 474.19,360.40 474.72,360.40 475.25,360.40 475.78,360.40 476.31,360.40 476.84,360.40 477.37,360.40 477.90,360.40 478.43,360.40 478.97,360.40 479.50,360.40 480.03,360.40 480.56,360.40 481.09,360.40 481.62,360.40 482.15,360.40 482.68,360.40 483.21,360.40 483.74,360.40 484.27,360.40 484.80,360.40 485.33,360.40 485.86,360.40 486.39,360.40 486.92,360.40 487.46,360.40 487.99,360.40 488.52,360.40 489.05,360.40 489.58,360.40 490.11,360.40 490.64,360.40 491.17,360.40 491.70,360.40 492.23,360.40 492.76,360.40 493.29,360.40 493.82,360.40 494.35,360.40 494.88,360.40 495.41,360.40 495.94,360.40 496.48,360.40 497.01,360.40 497.54,360.40 498.07,360.40 498.60,360.40 499.13,360.40 499.66,360.40 500.19,360.40 500.72,360.40 501.25,360.40 501.78,360.40 502.31,360.40 502.84,360.40 503.37,360.39 503.90,360.38 504.43,360.36 504.96,360.33 505.50,360.26 506.03,360.14 506.56,359.94 507.09,359.61 507.62,359.08 508.15,358.29 508.68,357.13 509.21,355.53 509.74,353.40 510.27,350.70 510.80,347.43 511.33,343.68 511.86,339.62 512.39,335.48 512.92,331.59 513.45,328.28 513.99,325.86 514.52,324.58 515.05,324.58 515.58,325.86 516.11,328.28 516.64,331.59 517.17,335.48 517.70,339.62 518.23,343.68 518.76,347.43 519.29,350.70 519.82,353.40 520.35,355.53 520.88,357.13 521.41,358.29 521.94,359.08 522.47,359.61 523.01,359.94 523.54,360.14 524.07,360.26 524.60,360.33 525.13,360.36 525.66,360.38 526.19,360.39 526.72,360.40 527.25,360.40 527.78,360.40 528.31,360.40 528.84,360.40 529.37,360.40 529.90,360.40 530.43,360.40 530.96,360.40 531.49,360.40 532.03,360.40 532.56,360.40 533.09,360.40 533.62,360.40 534.15,360.40 534.68,360.40 535.21,360.40 535.74,360.40 536.27,360.40 536.80,360.40 537.33,360.40 537.86,360.40 538.39,360.40 538.92,360.40 539.45,360.40 539.98,360.40 540.52,360.40 541.05,360.40 541.58,360.40 542.11,360.40 542.64,360.40 543.17,360.40 543.70,360.40 544.23,360.40 544.76,360.39 545.29,360.38 545.82,360.36 546.35,360.32 546.88,360.23 547.41,360.07 547.94,359.79 548.47,359.34 549.00,358.68 549.54,357.77 550.07,356.62 550.60,355.29 551.13,353.92 551.66,352.68 552.19,351.76 552.72,351.32 553.25,351.43 553.78,352.08 554.31,353.15 554.84,354.46 555.37,355.83 555.90,357.10 556.43,358.16 556.96,358.97 557.49,359.54 558.02,359.92 558.56,360.15 559.09,360.27 559.62,360.34 560.15,360.37 560.68,360.39 561.21,360.40 561.74,360.40 562.27,360.40 562.80,360.40 563.33,360.40 563.86,360.40 564.39,360.40 564.92,360.40 565.45,360.40 565.98,360.40 566.51,360.40 567.05,360.40 567.58,360.40 568.11,360.40 568.64,360.40 569.17,360.40 569.70,360.40 570.23,360.40 570.76,360.40 571.29,360.40 571.82,360.40 572.35,360.40 572.88,360.40 573.41,360.40 573.94,360.40 574.47,360.40 575.00,360.40 575.53,360.40 576.07,360.39 576.60,360.39 577.13,360.36 577.66,360.32 578.19,360.22 578.72,360.03 579.25,359.70 579.78,359.15 580.31,358.30 580.84,357.09 581.37,355.49 581.90,353.57 582.43,351.46 582.96,349.41 583.49,347.71 584.02,346.64 584.55,346.38 585.09,346.98 585.62,348.33 586.15,350.21 586.68,352.31 587.21,354.37 587.74,356.18 588.27,357.62 588.80,358.68 589.33,359.40 589.86,359.86 590.39,360.12 590.92,360.27 591.45,360.34 591.98,360.37 592.51,360.39 593.04,360.39 593.58,360.40 594.11,360.39 594.64,360.39 595.17,360.38 595.70,360.36 596.23,360.33 596.76,360.28 597.29,360.20 597.82,360.09 598.35,359.94 598.88,359.74 599.41,359.49 599.94,359.19 600.47,358.87 601.00,358.53 601.53,358.20 602.06,357.92 602.60,357.71 603.13,357.59 603.66,357.57 604.19,357.64 604.72,357.77 605.25,357.89 605.78,357.93 606.31,357.80 606.84,357.40 607.37,356.65 607.90,355.53 608.43,354.08 608.96,352.43 609.49,350.78 610.02,349.40 610.55,348.53 611.08,348.34 611.62,348.87 612.15,350.04 612.68,351.66 613.21,353.46 613.74,355.23 614.27,356.78 614.80,358.02 615.33,358.93 615.86,359.55 616.39,359.93 616.92,360.16 617.45,360.29 617.98,360.35 618.51,360.38 619.04,360.39 619.57,360.40 620.11,360.40 620.64,360.40 621.17,360.40 621.70,360.40 622.23,360.40 622.76,360.39 623.29,360.39 623.82,360.37 624.35,360.33 624.88,360.27 625.41,360.15 625.94,359.96 626.47,359.65 627.00,359.20 627.53,358.58 628.06,357.79 628.59,356.87 629.13,355.87 629.66,354.90 630.19,354.08 630.72,353.53 631.25,353.34 631.78,353.53 632.31,354.08 632.84,354.90 633.37,355.87 633.90,356.87 634.43,357.79 634.96,358.58 635.49,359.20 636.02,359.65 636.55,359.96 637.08,360.15 637.61,360.27 638.15,360.33 638.68,360.37 639.21,360.39 639.74,360.39 640.27,360.40 640.80,360.40 641.33,360.40 641.86,360.40 642.39,360.40 642.92,360.40 643.45,360.40 643.98,360.40 644.51,360.40 645.04,360.40 645.57,360.40 646.10,360.40 646.63,360.40 647.17,360.40 647.70,360.39 648.23,360.38 648.76,360.36 649.29,360.31 649.82,360.20 650.35,360.01 650.88,359.67 651.41,359.12 651.94,358.30 652.47,357.14 653.00,355.66 653.53,353.92 654.06,352.08 654.59,350.37 655.12,349.03 655.66,348.30 656.19,348.30 656.72,349.03 657.25,350.37 657.78,352.08 658.31,353.92" fill="none" stroke="#ff00ff" stroke-width="0.95" stroke-linejoin="round"/><polyline points="394.60,360.40 395.13,360.40 395.66,360.40 396.19,360.40 396.72,360.40 397.25,360.40 397.78,360.40 398.31,360.40 398.84,360.40 399.38,360.40 399.91,360.40 400.44,360.40 400.97,360.40 401.50,360.40 402.03,360.40 402.56,360.40 403.09,360.40 403.62,360.40 404.15,360.40 404.68,360.40 405.21,360.40 405.74,360.40 406.27,360.40 406.80,360.40 407.33,360.40 407.87,360.40 408.40,360.40 408.93,360.40 409.46,360.40 409.99,360.40 410.52,360.40 411.05,360.40 411.58,360.40 412.11,360.40 412.64,360.40 413.17,360.40 413.70,360.40 414.23,360.40 414.76,360.40 415.29,360.40 415.82,360.40 416.35,360.40 416.89,360.40 417.42,360.40 417.95,360.40 418.48,360.40 419.01,360.40 419.54,360.40 420.07,360.40 420.60,360.40 421.13,360.40 421.66,360.40 422.19,360.40 422.72,360.40 423.25,360.40 423.78,360.40 424.31,360.40 424.84,360.40 425.37,360.40 425.91,360.40 426.44,360.40 426.97,360.40 427.50,360.40 428.03,360.40 428.56,360.40 429.09,360.40 429.62,360.40 430.15,360.40 430.68,360.40 431.21,360.40 431.74,360.40 432.27,360.40 432.80,360.40 433.33,360.40 433.86,360.40 434.40,360.40 434.93,360.40 435.46,360.40 435.99,360.40 436.52,360.40 437.05,360.40 437.58,360.40 438.11,360.40 438.64,360.40 439.17,360.40 439.70,360.40 440.23,360.40 440.76,360.40 441.29,360.40 441.82,360.40 442.35,360.40 442.88,360.40 443.42,360.40 443.95,360.40 444.48,360.39 445.01,360.38 445.54,360.36 446.07,360.31 446.60,360.22 447.13,360.04 447.66,359.71 448.19,359.15 448.72,358.21 449.25,356.74 449.78,354.51 450.31,351.32 450.84,346.97 451.37,341.34 451.90,334.46 452.44,326.54 452.97,318.00 453.50,309.47 454.03,301.72 454.56,295.55 455.09,291.66 455.62,290.50 456.15,292.23 456.68,296.62 457.21,303.17 457.74,311.14 458.27,319.73 458.80,328.19 459.33,335.93 459.86,342.57 460.39,347.94 460.93,352.04 461.46,355.03 461.99,357.09 462.52,358.44 463.05,359.29 463.58,359.79 464.11,360.08 464.64,360.24 465.17,360.32 465.70,360.36 466.23,360.38 466.76,360.39 467.29,360.40 467.82,360.40 468.35,360.40 468.88,360.40 469.41,360.40 469.95,360.40 470.48,360.40 471.01,360.40 471.54,360.40 472.07,360.40 472.60,360.40 473.13,360.40 473.66,360.40 474.19,360.40 474.72,360.40 475.25,360.40 475.78,360.40 476.31,360.40 476.84,360.40 477.37,360.40 477.90,360.40 478.43,360.40 478.97,360.40 479.50,360.40 480.03,360.40 480.56,360.40 481.09,360.40 481.62,360.40 482.15,360.40 482.68,360.40 483.21,360.40 483.74,360.40 484.27,360.40 484.80,360.40 485.33,360.40 485.86,360.40 486.39,360.40 486.92,360.40 487.46,360.40 487.99,360.40 488.52,360.40 489.05,360.40 489.58,360.40 490.11,360.40 490.64,360.40 491.17,360.40 491.70,360.40 492.23,360.40 492.76,360.40 493.29,360.40 493.82,360.40 494.35,360.40 494.88,360.40 495.41,360.40 495.94,360.40 496.48,360.40 497.01,360.40 497.54,360.40 498.07,360.40 498.60,360.40 499.13,360.40 499.66,360.40 500.19,360.40 500.72,360.40 501.25,360.40 501.78,360.40 502.31,360.40 502.84,360.40 503.37,360.39 503.90,360.38 504.43,360.36 504.96,360.33 505.50,360.26 506.03,360.14 506.56,359.94 507.09,359.61 507.62,359.09 508.15,358.30 508.68,357.15 509.21,355.56 509.74,353.44 510.27,350.75 510.80,347.50 511.33,343.78 511.86,339.73 512.39,335.62 512.92,331.75 513.45,328.46 513.99,326.05 514.52,324.78 515.05,324.78 515.58,326.05 516.11,328.46 516.64,331.75 517.17,335.62 517.70,339.73 518.23,343.78 518.76,347.50 519.29,350.75 519.82,353.44 520.35,355.56 520.88,357.15 521.41,358.30 521.94,359.09 522.47,359.61 523.01,359.94 523.54,360.14 524.07,360.26 524.60,360.33 525.13,360.36 525.66,360.38 526.19,360.39 526.72,360.40 527.25,360.40 527.78,360.40 528.31,360.40 528.84,360.40 529.37,360.40 529.90,360.40 530.43,360.40 530.96,360.40 531.49,360.40 532.03,360.40 532.56,360.40 533.09,360.40 533.62,360.40 534.15,360.40 534.68,360.40 535.21,360.40 535.74,360.40 536.27,360.40 536.80,360.40 537.33,360.40 537.86,360.40 538.39,360.40 538.92,360.40 539.45,360.40 539.98,360.40 540.52,360.40 541.05,360.40 541.58,360.40 542.11,360.40 542.64,360.40 543.17,360.40 543.70,360.40 544.23,360.40 544.76,360.39 545.29,360.38 545.82,360.36 546.35,360.31 546.88,360.21 547.41,360.04 547.94,359.73 548.47,359.26 549.00,358.56 549.54,357.61 550.07,356.43 550.60,355.08 551.13,353.72 551.66,352.52 552.19,351.66 552.72,351.30 553.25,351.50 553.78,352.22 554.31,353.34 554.84,354.67 555.37,356.03 555.90,357.28 556.43,358.30 556.96,359.07 557.49,359.61 558.02,359.96 558.56,360.17 559.09,360.29 559.62,360.35 560.15,360.38 560.68,360.39 561.21,360.40 561.74,360.40 562.27,360.40 562.80,360.40 563.33,360.40 563.86,360.40 564.39,360.40 564.92,360.40 565.45,360.40 565.98,360.40 566.51,360.40 567.05,360.40 567.58,360.40 568.11,360.40 568.64,360.40 569.17,360.40 569.70,360.40 570.23,360.40 570.76,360.40 571.29,360.40 571.82,360.40 572.35,360.40 572.88,360.40 573.41,360.40 573.94,360.40 574.47,360.40 575.00,360.40 575.53,360.40 576.07,360.39 576.60,360.38 577.13,360.36 577.66,360.31 578.19,360.20 578.72,359.99 579.25,359.64 579.78,359.05 580.31,358.15 580.84,356.88 581.37,355.22 581.90,353.26 582.43,351.14 582.96,349.13 583.49,347.51 584.02,346.55 584.55,346.42 585.09,347.14 585.62,348.59 586.15,350.51 586.68,352.63 587.21,354.66 587.74,356.42 588.27,357.80 588.80,358.81 589.33,359.49 589.86,359.91 590.39,360.15 590.92,360.28 591.45,360.35 591.98,360.38 592.51,360.39 593.04,360.39 593.58,360.39 594.11,360.39 594.64,360.38 595.17,360.36 595.70,360.34 596.23,360.29 596.76,360.22 597.29,360.11 597.82,359.97 598.35,359.76 598.88,359.51 599.41,359.20 599.94,358.84 600.47,358.45 601.00,358.07 601.53,357.72 602.06,357.44 602.60,357.25 603.13,357.17 603.66,357.21 604.19,357.35 604.72,357.53 605.25,357.69 605.78,357.76 606.31,357.62 606.84,357.20 607.37,356.44 607.90,355.33 608.43,353.94 608.96,352.43 609.49,351.01 610.02,349.92 610.55,349.36 611.08,349.46 611.62,350.20 612.15,351.46 612.68,353.04 613.21,354.70 613.74,356.26 614.27,357.57 614.80,358.59 615.33,359.31 615.86,359.78 616.39,360.07 616.92,360.24 617.45,360.32 617.98,360.37 618.51,360.39 619.04,360.39 619.57,360.40 620.11,360.40 620.64,360.40 621.17,360.39 621.70,360.37 622.23,360.35 622.76,360.29 623.29,360.19 623.82,360.01 624.35,359.74 624.88,359.33 625.41,358.75 625.94,358.01 626.47,357.11 627.00,356.12 627.53,355.13 628.06,354.26 628.59,353.64 629.13,353.35 629.66,353.45 630.19,353.91 630.72,354.67 631.25,355.62 631.78,356.62 632.31,357.57 632.84,358.40 633.37,359.06 633.90,359.55 634.43,359.89 634.96,360.11 635.49,360.25 636.02,360.32 636.55,360.36 637.08,360.38 637.61,360.39 638.15,360.40 638.68,360.40 639.21,360.40 639.74,360.40 640.27,360.40 640.80,360.40 641.33,360.40 641.86,360.40 642.39,360.40 642.92,360.40 643.45,360.40 643.98,360.40 644.51,360.40 645.04,360.40 645.57,360.40 646.10,360.40 646.63,360.40 647.17,360.40 647.70,360.39 648.23,360.38 648.76,360.35 649.29,360.30 649.82,360.18 650.35,359.98 650.88,359.62 651.41,359.05 651.94,358.21 652.47,357.06 653.00,355.62 653.53,353.97 654.06,352.27 654.59,350.74 655.12,349.63 655.66,349.11 656.19,349.29 656.72,350.12 657.25,351.47 657.78,353.11 658.31,354.81" fill="none" stroke="#2a2aff" stroke-width="0.95" stroke-linejoin="round"/><polyline points="394.60,360.40 395.13,360.40 395.66,360.40 396.19,360.40 396.72,360.40 397.25,360.40 397.78,360.40 398.31,360.40 398.84,360.40 399.38,360.40 399.91,360.40 400.44,360.40 400.97,360.40 401.50,360.40 402.03,360.40 402.56,360.40 403.09,360.40 403.62,360.40 404.15,360.40 404.68,360.40 405.21,360.40 405.74,360.40 406.27,360.40 406.80,360.40 407.33,360.40 407.87,360.40 408.40,360.40 408.93,360.40 409.46,360.40 409.99,360.40 410.52,360.40 411.05,360.40 411.58,360.40 412.11,360.40 412.64,360.40 413.17,360.40 413.70,360.40 414.23,360.40 414.76,360.40 415.29,360.40 415.82,360.40 416.35,360.40 416.89,360.40 417.42,360.40 417.95,360.40 418.48,360.40 419.01,360.40 419.54,360.40 420.07,360.40 420.60,360.40 421.13,360.40 421.66,360.40 422.19,360.40 422.72,360.40 423.25,360.40 423.78,360.40 424.31,360.40 424.84,360.40 425.37,360.40 425.91,360.40 426.44,360.40 426.97,360.40 427.50,360.40 428.03,360.40 428.56,360.40 429.09,360.40 429.62,360.40 430.15,360.40 430.68,360.40 431.21,360.40 431.74,360.40 432.27,360.40 432.80,360.40 433.33,360.40 433.86,360.40 434.40,360.40 434.93,360.40 435.46,360.40 435.99,360.40 436.52,360.40 437.05,360.40 437.58,360.40 438.11,360.40 438.64,360.40 439.17,360.40 439.70,360.40 440.23,360.40 440.76,360.40 441.29,360.40 441.82,360.40 442.35,360.40 442.88,360.40 443.42,360.40 443.95,360.40 444.48,360.39 445.01,360.38 445.54,360.36 446.07,360.31 446.60,360.21 447.13,360.03 447.66,359.70 448.19,359.13 448.72,358.18 449.25,356.69 449.78,354.43 450.31,351.19 450.84,346.78 451.37,341.08 451.90,334.10 452.44,326.07 452.97,317.41 453.50,308.77 454.03,300.91 454.56,294.66 455.09,290.71 455.62,289.54 456.15,291.29 456.68,295.74 457.21,302.38 457.74,310.46 458.27,319.17 458.80,327.74 459.33,335.59 459.86,342.32 460.39,347.77 460.93,351.93 461.46,354.95 461.99,357.04 462.52,358.41 463.05,359.27 463.58,359.79 464.11,360.08 464.64,360.24 465.17,360.32 465.70,360.36 466.23,360.38 466.76,360.39 467.29,360.40 467.82,360.40 468.35,360.40 468.88,360.40 469.41,360.40 469.95,360.40 470.48,360.40 471.01,360.40 471.54,360.40 472.07,360.40 472.60,360.40 473.13,360.40 473.66,360.40 474.19,360.40 474.72,360.40 475.25,360.40 475.78,360.40 476.31,360.40 476.84,360.40 477.37,360.40 477.90,360.40 478.43,360.40 478.97,360.40 479.50,360.40 480.03,360.40 480.56,360.40 481.09,360.40 481.62,360.40 482.15,360.40 482.68,360.40 483.21,360.40 483.74,360.40 484.27,360.40 484.80,360.40 485.33,360.40 485.86,360.40 486.39,360.40 486.92,360.40 487.46,360.40 487.99,360.40 488.52,360.40 489.05,360.40 489.58,360.40 490.11,360.40 490.64,360.40 491.17,360.40 491.70,360.40 492.23,360.40 492.76,360.40 493.29,360.40 493.82,360.40 494.35,360.40 494.88,360.40 495.41,360.40 495.94,360.40 496.48,360.40 497.01,360.40 497.54,360.40 498.07,360.40 498.60,360.40 499.13,360.40 499.66,360.40 500.19,360.40 500.72,360.40 501.25,360.40 501.78,360.40 502.31,360.40 502.84,360.40 503.37,360.39 503.90,360.38 504.43,360.36 504.96,360.33 505.50,360.26 506.03,360.14 506.56,359.93 507.09,359.60 507.62,359.07 508.15,358.26 508.68,357.10 509.21,355.48 509.74,353.32 510.27,350.59 510.80,347.29 511.33,343.50 511.86,339.38 512.39,335.20 512.92,331.27 513.45,327.92 513.99,325.48 514.52,324.18 515.05,324.18 515.58,325.48 516.11,327.92 516.64,331.27 517.17,335.20 517.70,339.38 518.23,343.50 518.76,347.29 519.29,350.59 519.82,353.32 520.35,355.48 520.88,357.10 521.41,358.26 521.94,359.07 522.47,359.60 523.01,359.93 523.54,360.14 524.07,360.26 524.60,360.33 525.13,360.36 525.66,360.38 526.19,360.39 526.72,360.40 527.25,360.40 527.78,360.40 528.31,360.40 528.84,360.40 529.37,360.40 529.90,360.40 530.43,360.40 530.96,360.40 531.49,360.40 532.03,360.40 532.56,360.40 533.09,360.40 533.62,360.40 534.15,360.40 534.68,360.40 535.21,360.40 535.74,360.40 536.27,360.40 536.80,360.40 537.33,360.40 537.86,360.40 538.39,360.40 538.92,360.40 539.45,360.40 539.98,360.40 540.52,360.40 541.05,360.40 541.58,360.40 542.11,360.40 542.64,360.40 543.17,360.40 543.70,360.40 544.23,360.40 544.76,360.40 545.29,360.39 545.82,360.37 546.35,360.34 546.88,360.26 547.41,360.13 547.94,359.89 548.47,359.50 549.00,358.90 549.54,358.07 550.07,356.98 550.60,355.70 551.13,354.33 551.66,353.03 552.19,352.00 552.72,351.40 553.25,351.34 553.78,351.84 554.31,352.79 554.84,354.06 555.37,355.43 555.90,356.74 556.43,357.87 556.96,358.76 557.49,359.40 558.02,359.82 558.56,360.09 559.09,360.24 559.62,360.33 560.15,360.37 560.68,360.39 561.21,360.39 561.74,360.40 562.27,360.40 562.80,360.40 563.33,360.40 563.86,360.40 564.39,360.40 564.92,360.40 565.45,360.40 565.98,360.40 566.51,360.40 567.05,360.40 567.58,360.40 568.11,360.40 568.64,360.40 569.17,360.40 569.70,360.40 570.23,360.40 570.76,360.40 571.29,360.40 571.82,360.40 572.35,360.40 572.88,360.40 573.41,360.40 573.94,360.40 574.47,360.40 575.00,360.40 575.53,360.40 576.07,360.40 576.60,360.39 577.13,360.37 577.66,360.33 578.19,360.26 578.72,360.10 579.25,359.82 579.78,359.34 580.31,358.59 580.84,357.49 581.37,356.01 581.90,354.17 582.43,352.10 582.96,350.00 583.49,348.17 584.02,346.88 584.55,346.37 585.09,346.71 585.62,347.86 586.15,349.61 586.68,351.67 587.21,353.77 587.74,355.67 588.27,357.23 588.80,358.40 589.33,359.22 589.86,359.74 590.39,360.06 590.92,360.23 591.45,360.32 591.98,360.37 592.51,360.39 593.04,360.39 593.58,360.40 594.11,360.40 594.64,360.40 595.17,360.39 595.70,360.38 596.23,360.37 596.76,360.35 597.29,360.31 597.82,360.26 598.35,360.18 598.88,360.07 599.41,359.93 599.94,359.75 600.47,359.54 601.00,359.30 601.53,359.06 602.06,358.83 602.60,358.63 603.13,358.48 603.66,358.39 604.19,358.36 604.72,358.38 605.25,358.42 605.78,358.41 606.31,358.27 606.84,357.91 607.37,357.23 607.90,356.15 608.43,354.66 608.96,352.82 609.49,350.82 610.02,348.89 610.55,347.35 611.08,346.47 611.62,346.40 612.15,347.18 612.68,348.67 613.21,350.61 613.74,352.73 614.27,354.76 614.80,356.50 615.33,357.86 615.86,358.85 616.39,359.51 616.92,359.92 617.45,360.16 617.98,360.29 618.51,360.35 619.04,360.38 619.57,360.39 620.11,360.40 620.64,360.40 621.17,360.40 621.70,360.40 622.23,360.40 622.76,360.40 623.29,360.40 623.82,360.40 624.35,360.40 624.88,360.40 625.41,360.40 625.94,360.40 626.47,360.40 627.00,360.39 627.53,360.38 628.06,360.35 628.59,360.31 629.13,360.22 629.66,360.07 630.19,359.82 630.72,359.44 631.25,358.91 631.78,358.21 632.31,357.34 632.84,356.37 633.37,355.37 633.90,354.46 634.43,353.77 634.96,353.39 635.49,353.39 636.02,353.77 636.55,354.46 637.08,355.37 637.61,356.37 638.15,357.34 638.68,358.21 639.21,358.91 639.74,359.44 640.27,359.82 640.80,360.07 641.33,360.22 641.86,360.31 642.39,360.35 642.92,360.38 643.45,360.39 643.98,360.40 644.51,360.40 645.04,360.40 645.57,360.40 646.10,360.40 646.63,360.40 647.17,360.40 647.70,360.40 648.23,360.39 648.76,360.37 649.29,360.33 649.82,360.24 650.35,360.08 650.88,359.79 651.41,359.29 651.94,358.51 652.47,357.38 653.00,355.87 653.53,354.01 654.06,351.93 654.59,349.86 655.12,348.08 655.66,346.87 656.19,346.44 656.72,346.87 657.25,348.08 657.78,349.86 658.31,351.93" fill="none" stroke="#9a4cff" stroke-width="0.95" stroke-linejoin="round"/><polyline points="394.60,360.40 395.13,360.40 395.66,360.40 396.19,360.40 396.72,360.40 397.25,360.40 397.78,360.40 398.31,360.40 398.84,360.40 399.38,360.40 399.91,360.40 400.44,360.40 400.97,360.40 401.50,360.40 402.03,360.40 402.56,360.40 403.09,360.40 403.62,360.40 404.15,360.40 404.68,360.40 405.21,360.40 405.74,360.40 406.27,360.40 406.80,360.40 407.33,360.40 407.87,360.40 408.40,360.40 408.93,360.40 409.46,360.40 409.99,360.40 410.52,360.40 411.05,360.40 411.58,360.40 412.11,360.40 412.64,360.40 413.17,360.40 413.70,360.40 414.23,360.40 414.76,360.40 415.29,360.40 415.82,360.40 416.35,360.40 416.89,360.40 417.42,360.40 417.95,360.40 418.48,360.40 419.01,360.40 419.54,360.40 420.07,360.40 420.60,360.40 421.13,360.40 421.66,360.40 422.19,360.40 422.72,360.40 423.25,360.40 423.78,360.40 424.31,360.40 424.84,360.40 425.37,360.40 425.91,360.40 426.44,360.40 426.97,360.40 427.50,360.40 428.03,360.40 428.56,360.40 429.09,360.40 429.62,360.40 430.15,360.40 430.68,360.40 431.21,360.40 431.74,360.40 432.27,360.40 432.80,360.40 433.33,360.40 433.86,360.40 434.40,360.40 434.93,360.40 435.46,360.40 435.99,360.40 436.52,360.40 437.05,360.40 437.58,360.40 438.11,360.40 438.64,360.40 439.17,360.40 439.70,360.40 440.23,360.40 440.76,360.40 441.29,360.40 441.82,360.40 442.35,360.40 442.88,360.40 443.42,360.40 443.95,360.40 444.48,360.39 445.01,360.38 445.54,360.36 446.07,360.31 446.60,360.22 447.13,360.04 447.66,359.72 448.19,359.16 448.72,358.22 449.25,356.75 449.78,354.54 450.31,351.36 450.84,347.03 451.37,341.43 451.90,334.58 452.44,326.69 452.97,318.19 453.50,309.70 454.03,301.99 454.56,295.85 455.09,291.97 455.62,290.82 456.15,292.54 456.68,296.92 457.21,303.43 457.74,311.36 458.27,319.91 458.80,328.34 459.33,336.04 459.86,342.65 460.39,347.99 460.93,352.08 461.46,355.05 461.99,357.10 462.52,358.45 463.05,359.29 463.58,359.80 464.11,360.09 464.64,360.24 465.17,360.32 465.70,360.37 466.23,360.38 466.76,360.39 467.29,360.40 467.82,360.40 468.35,360.40 468.88,360.40 469.41,360.40 469.95,360.40 470.48,360.40 471.01,360.40 471.54,360.40 472.07,360.40 472.60,360.40 473.13,360.40 473.66,360.40 474.19,360.40 474.72,360.40 475.25,360.40 475.78,360.40 476.31,360.40 476.84,360.40 477.37,360.40 477.90,360.40 478.43,360.40 478.97,360.40 479.50,360.40 480.03,360.40 480.56,360.40 481.09,360.40 481.62,360.40 482.15,360.40 482.68,360.40 483.21,360.40 483.74,360.40 484.27,360.40 484.80,360.40 485.33,360.40 485.86,360.40 486.39,360.40 486.92,360.40 487.46,360.40 487.99,360.40 488.52,360.40 489.05,360.40 489.58,360.40 490.11,360.40 490.64,360.40 491.17,360.40 491.70,360.40 492.23,360.40 492.76,360.40 493.29,360.40 493.82,360.40 494.35,360.40 494.88,360.40 495.41,360.40 495.94,360.40 496.48,360.40 497.01,360.40 497.54,360.40 498.07,360.40 498.60,360.40 499.13,360.40 499.66,360.40 500.19,360.40 500.72,360.40 501.25,360.40 501.78,360.40 502.31,360.40 502.84,360.40 503.37,360.39 503.90,360.38 504.43,360.36 504.96,360.33 505.50,360.26 506.03,360.15 506.56,359.94 507.09,359.62 507.62,359.10 508.15,358.31 508.68,357.17 509.21,355.59 509.74,353.48 510.27,350.81 510.80,347.58 511.33,343.87 511.86,339.85 512.39,335.76 512.92,331.91 513.45,328.64 513.99,326.25 514.52,324.98 515.05,324.98 515.58,326.25 516.11,328.64 516.64,331.91 517.17,335.76 517.70,339.85 518.23,343.87 518.76,347.58 519.29,350.81 519.82,353.48 520.35,355.59 520.88,357.17 521.41,358.31 521.94,359.10 522.47,359.62 523.01,359.94 523.54,360.15 524.07,360.26 524.60,360.33 525.13,360.36 525.66,360.38 526.19,360.39 526.72,360.40 527.25,360.40 527.78,360.40 528.31,360.40 528.84,360.40 529.37,360.40 529.90,360.40 530.43,360.40 530.96,360.40 531.49,360.40 532.03,360.40 532.56,360.40 533.09,360.40 533.62,360.40 534.15,360.40 534.68,360.40 535.21,360.40 535.74,360.40 536.27,360.40 536.80,360.40 537.33,360.40 537.86,360.40 538.39,360.40 538.92,360.40 539.45,360.40 539.98,360.40 540.52,360.40 541.05,360.40 541.58,360.40 542.11,360.40 542.64,360.40 543.17,360.40 543.70,360.40 544.23,360.40 544.76,360.39 545.29,360.38 545.82,360.35 546.35,360.30 546.88,360.19 547.41,360.00 547.94,359.68 548.47,359.17 549.00,358.43 549.54,357.44 550.07,356.23 550.60,354.88 551.13,353.53 551.66,352.36 552.19,351.58 552.72,351.30 553.25,351.58 553.78,352.36 554.31,353.53 554.84,354.88 555.37,356.23 555.90,357.44 556.43,358.43 556.96,359.17 557.49,359.68 558.02,360.00 558.56,360.19 559.09,360.30 559.62,360.35 560.15,360.38 560.68,360.39 561.21,360.40 561.74,360.40 562.27,360.40 562.80,360.40 563.33,360.40 563.86,360.40 564.39,360.40 564.92,360.40 565.45,360.40 565.98,360.40 566.51,360.40 567.05,360.40 567.58,360.40 568.11,360.40 568.64,360.40 569.17,360.40 569.70,360.40 570.23,360.40 570.76,360.40 571.29,360.40 571.82,360.40 572.35,360.40 572.88,360.40 573.41,360.40 573.94,360.40 574.47,360.40 575.00,360.40 575.53,360.40 576.07,360.39 576.60,360.38 577.13,360.35 577.66,360.29 578.19,360.17 578.72,359.95 579.25,359.56 579.78,358.93 580.31,357.98 580.84,356.65 581.37,354.95 581.90,352.94 582.43,350.83 582.96,348.85 583.49,347.31 584.02,346.47 584.55,346.47 585.09,347.31 585.62,348.85 586.15,350.83 586.68,352.94 587.21,354.95 587.74,356.65 588.27,357.98 588.80,358.93 589.33,359.56 589.86,359.95 590.39,360.17 590.92,360.29 591.45,360.35 591.98,360.38 592.51,360.39 593.04,360.39 593.58,360.39 594.11,360.38 594.64,360.37 595.17,360.35 595.70,360.31 596.23,360.24 596.76,360.14 597.29,360.00 597.82,359.81 598.35,359.55 598.88,359.23 599.41,358.85 599.94,358.43 600.47,357.99 601.00,357.57 601.53,357.21 602.06,356.95 602.60,356.80 603.13,356.79 603.66,356.90 604.19,357.10 604.72,357.35 605.25,357.55 605.78,357.63 606.31,357.49 606.84,357.06 607.37,356.29 607.90,355.22 608.43,353.92 608.96,352.57 609.49,351.39 610.02,350.59 610.55,350.32 611.08,350.65 611.62,351.54 612.15,352.82 612.68,354.31 613.21,355.81 613.74,357.14 614.27,358.23 614.80,359.04 615.33,359.60 615.86,359.96 616.39,360.17 616.92,360.29 617.45,360.35 617.98,360.38 618.51,360.39 619.04,360.39 619.57,360.38 620.11,360.35 620.64,360.31 621.17,360.22 621.70,360.07 622.23,359.82 622.76,359.44 623.29,358.91 623.82,358.21 624.35,357.34 624.88,356.37 625.41,355.37 625.94,354.46 626.47,353.77 627.00,353.39 627.53,353.39 628.06,353.77 628.59,354.46 629.13,355.37 629.66,356.37 630.19,357.34 630.72,358.21 631.25,358.91 631.78,359.44 632.31,359.82 632.84,360.07 633.37,360.22 633.90,360.31 634.43,360.35 634.96,360.38 635.49,360.39 636.02,360.40 636.55,360.40 637.08,360.40 637.61,360.40 638.15,360.40 638.68,360.40 639.21,360.40 639.74,360.40 640.27,360.40 640.80,360.40 641.33,360.40 641.86,360.40 642.39,360.40 642.92,360.40 643.45,360.40 643.98,360.40 644.51,360.40 645.04,360.40 645.57,360.40 646.10,360.40 646.63,360.40 647.17,360.40 647.70,360.39 648.23,360.38 648.76,360.35 649.29,360.28 649.82,360.16 650.35,359.94 650.88,359.57 651.41,358.99 651.94,358.14 652.47,357.01 653.00,355.63 653.53,354.07 654.06,352.53 654.59,351.20 655.12,350.29 655.66,349.97 656.19,350.29 656.72,351.20 657.25,352.53 657.78,354.07 658.31,355.63" fill="none" stroke="#f01030" stroke-width="1.2" stroke-linejoin="round"/></g>
<text x="388.50" y="364.90" font-size="12.9" text-anchor="end" fill="#000" >0</text>
<text x="388.50" y="340.83" font-size="12.9" text-anchor="end" fill="#000" >6</text>
<text x="388.50" y="316.77" font-size="12.9" text-anchor="end" fill="#000" >12</text>
<text x="388.50" y="292.70" font-size="12.9" text-anchor="end" fill="#000" >18</text>
<path d="M394.6,360.40 h4 M394.6,336.33 h4 M394.6,312.27 h4 M394.6,288.20 h4 M394.6,348.37 h2.4 M394.6,324.30 h2.4 M394.6,300.23 h2.4 M394.60,360.2 v-4 M421.13,360.2 v-2.4 M447.66,360.2 v-4 M474.19,360.2 v-2.4 M500.72,360.2 v-4 M527.25,360.2 v-2.4 M553.78,360.2 v-4 M580.31,360.2 v-2.4 M606.84,360.2 v-4 M633.37,360.2 v-2.4 M659.90,360.2 v-4" stroke="#000" stroke-width="1" fill="none"/>
<rect x="394.6" y="286.2" width="266.79999999999995" height="74.0" fill="none" stroke="#000" stroke-width="1.3"/>
<text x="409.20" y="327.80" font-size="13.1" text-anchor="start" fill="#000" >Bi-O</text>
<rect x="394.6" y="369.3" width="266.79999999999995" height="74.39999999999998" fill="url(#dbg1)"/>
<clipPath id="dc1"><rect x="394.6" y="369.3" width="266.79999999999995" height="73.39999999999998"/></clipPath>
<g clip-path="url(#dc1)"><polyline points="394.60,443.90 395.13,443.90 395.66,443.90 396.19,443.90 396.72,443.90 397.25,443.90 397.78,443.90 398.31,443.90 398.84,443.90 399.38,443.90 399.91,443.90 400.44,443.90 400.97,443.90 401.50,443.90 402.03,443.90 402.56,443.90 403.09,443.90 403.62,443.90 404.15,443.90 404.68,443.90 405.21,443.90 405.74,443.90 406.27,443.90 406.80,443.90 407.33,443.90 407.87,443.90 408.40,443.90 408.93,443.90 409.46,443.90 409.99,443.90 410.52,443.90 411.05,443.90 411.58,443.90 412.11,443.90 412.64,443.90 413.17,443.90 413.70,443.90 414.23,443.90 414.76,443.90 415.29,443.90 415.82,443.90 416.35,443.90 416.89,443.90 417.42,443.90 417.95,443.90 418.48,443.90 419.01,443.90 419.54,443.90 420.07,443.90 420.60,443.90 421.13,443.90 421.66,443.90 422.19,443.90 422.72,443.90 423.25,443.90 423.78,443.90 424.31,443.90 424.84,443.90 425.37,443.90 425.91,443.90 426.44,443.90 426.97,443.90 427.50,443.90 428.03,443.90 428.56,443.90 429.09,443.90 429.62,443.90 430.15,443.90 430.68,443.90 431.21,443.90 431.74,443.90 432.27,443.90 432.80,443.90 433.33,443.90 433.86,443.90 434.40,443.90 434.93,443.90 435.46,443.90 435.99,443.90 436.52,443.90 437.05,443.90 437.58,443.90 438.11,443.90 438.64,443.90 439.17,443.90 439.70,443.90 440.23,443.90 440.76,443.90 441.29,443.90 441.82,443.90 442.35,443.90 442.88,443.90 443.42,443.90 443.95,443.90 444.48,443.90 445.01,443.90 445.54,443.90 446.07,443.90 446.60,443.90 447.13,443.90 447.66,443.89 448.19,443.88 448.72,443.86 449.25,443.82 449.78,443.74 450.31,443.60 450.84,443.35 451.37,442.94 451.90,442.27 452.44,441.22 452.97,439.67 453.50,437.43 454.03,434.36 454.56,430.32 455.09,425.24 455.62,419.15 456.15,412.21 456.68,404.72 457.21,397.14 457.74,389.98 458.27,383.83 458.80,379.20 459.33,376.48 459.86,375.87 460.39,377.33 460.93,380.63 461.46,385.35 461.99,391.00 462.52,397.04 463.05,403.04 463.58,408.63 464.11,413.60 464.64,417.87 465.17,421.45 465.70,424.42 466.23,426.90 466.76,429.01 467.29,430.85 467.82,432.50 468.35,434.02 468.88,435.42 469.41,436.71 469.95,437.89 470.48,438.95 471.01,439.89 471.54,440.71 472.07,441.40 472.60,441.98 473.13,442.45 473.66,442.82 474.19,443.11 474.72,443.34 475.25,443.50 475.78,443.63 476.31,443.71 476.84,443.78 477.37,443.82 477.90,443.85 478.43,443.87 478.97,443.88 479.50,443.89 480.03,443.89 480.56,443.90 481.09,443.90 481.62,443.90 482.15,443.90 482.68,443.90 483.21,443.90 483.74,443.90 484.27,443.90 484.80,443.90 485.33,443.90 485.86,443.90 486.39,443.90 486.92,443.90 487.46,443.90 487.99,443.90 488.52,443.90 489.05,443.90 489.58,443.90 490.11,443.90 490.64,443.90 491.17,443.90 491.70,443.90 492.23,443.90 492.76,443.90 493.29,443.90 493.82,443.90 494.35,443.90 494.88,443.90 495.41,443.90 495.94,443.90 496.48,443.90 497.01,443.90 497.54,443.90 498.07,443.90 498.60,443.90 499.13,443.89 499.66,443.89 500.19,443.88 500.72,443.87 501.25,443.86 501.78,443.84 502.31,443.80 502.84,443.75 503.37,443.68 503.90,443.59 504.43,443.45 504.96,443.26 505.50,443.01 506.03,442.68 506.56,442.26 507.09,441.71 507.62,441.03 508.15,440.18 508.68,439.16 509.21,437.95 509.74,436.54 510.27,434.92 510.80,433.11 511.33,431.13 511.86,429.00 512.39,426.77 512.92,424.49 513.45,422.23 513.99,420.06 514.52,418.05 515.05,416.28 515.58,414.82 516.11,413.74 516.64,413.06 517.17,412.84 517.70,413.06 518.23,413.74 518.76,414.82 519.29,416.28 519.82,418.05 520.35,420.06 520.88,422.23 521.41,424.49 521.94,426.77 522.47,429.00 523.01,431.13 523.54,433.11 524.07,434.92 524.60,436.54 525.13,437.95 525.66,439.16 526.19,440.18 526.72,441.03 527.25,441.71 527.78,442.26 528.31,442.68 528.84,443.01 529.37,443.26 529.90,443.45 530.43,443.59 530.96,443.68 531.49,443.75 532.03,443.80 532.56,443.84 533.09,443.86 533.62,443.87 534.15,443.88 534.68,443.89 535.21,443.89 535.74,443.90 536.27,443.90 536.80,443.90 537.33,443.90 537.86,443.90 538.39,443.90 538.92,443.90 539.45,443.90 539.98,443.90 540.52,443.90 541.05,443.90 541.58,443.90 542.11,443.90 542.64,443.89 543.17,443.88 543.70,443.87 544.23,443.85 544.76,443.82 545.29,443.77 545.82,443.70 546.35,443.59 546.88,443.44 547.41,443.23 547.94,442.94 548.47,442.58 549.00,442.11 549.54,441.54 550.07,440.88 550.60,440.12 551.13,439.29 551.66,438.42 552.19,437.55 552.72,436.73 553.25,436.00 553.78,435.43 554.31,435.04 554.84,434.87 555.37,434.93 555.90,435.21 556.43,435.69 556.96,436.35 557.49,437.13 558.02,437.98 558.56,438.85 559.09,439.71 559.62,440.51 560.15,441.22 560.68,441.84 561.21,442.36 561.74,442.77 562.27,443.10 562.80,443.34 563.33,443.52 563.86,443.65 564.39,443.74 564.92,443.80 565.45,443.84 565.98,443.86 566.51,443.88 567.05,443.89 567.58,443.89 568.11,443.90 568.64,443.90 569.17,443.90 569.70,443.90 570.23,443.90 570.76,443.90 571.29,443.90 571.82,443.89 572.35,443.89 572.88,443.88 573.41,443.86 573.94,443.84 574.47,443.80 575.00,443.74 575.53,443.66 576.07,443.53 576.60,443.35 577.13,443.10 577.66,442.77 578.19,442.34 578.72,441.79 579.25,441.11 579.78,440.30 580.31,439.36 580.84,438.31 581.37,437.18 581.90,436.01 582.43,434.85 582.96,433.76 583.49,432.80 584.02,432.02 584.55,431.48 585.09,431.20 585.62,431.21 586.15,431.48 586.68,432.01 587.21,432.74 587.74,433.61 588.27,434.57 588.80,435.56 589.33,436.51 589.86,437.39 590.39,438.15 590.92,438.79 591.45,439.28 591.98,439.64 592.51,439.87 593.04,439.99 593.58,440.03 594.11,440.01 594.64,439.95 595.17,439.87 595.70,439.78 596.23,439.71 596.76,439.65 597.29,439.63 597.82,439.64 598.35,439.69 598.88,439.78 599.41,439.90 599.94,440.05 600.47,440.23 601.00,440.44 601.53,440.65 602.06,440.87 602.60,441.09 603.13,441.28 603.66,441.45 604.19,441.57 604.72,441.63 605.25,441.61 605.78,441.50 606.31,441.28 606.84,440.95 607.37,440.50 607.90,439.93 608.43,439.25 608.96,438.49 609.49,437.67 610.02,436.84 610.55,436.04 611.08,435.32 611.62,434.73 612.15,434.30 612.68,434.07 613.21,434.04 613.74,434.21 614.27,434.56 614.80,435.06 615.33,435.64 615.86,436.26 616.39,436.86 616.92,437.38 617.45,437.79 617.98,438.06 618.51,438.17 619.04,438.13 619.57,437.96 620.11,437.69 620.64,437.36 621.17,437.04 621.70,436.75 622.23,436.55 622.76,436.47 623.29,436.53 623.82,436.74 624.35,437.10 624.88,437.58 625.41,438.16 625.94,438.80 626.47,439.48 627.00,440.16 627.53,440.80 628.06,441.40 628.59,441.92 629.13,442.38 629.66,442.75 630.19,443.06 630.72,443.30 631.25,443.48 631.78,443.61 632.31,443.71 632.84,443.77 633.37,443.82 633.90,443.85 634.43,443.87 634.96,443.88 635.49,443.88 636.02,443.89 636.55,443.88 637.08,443.87 637.61,443.86 638.15,443.84 638.68,443.80 639.21,443.75 639.74,443.68 640.27,443.59 640.80,443.46 641.33,443.31 641.86,443.12 642.39,442.90 642.92,442.65 643.45,442.38 643.98,442.10 644.51,441.83 645.04,441.57 645.57,441.35 646.10,441.18 646.63,441.05 647.17,440.96 647.70,440.90 648.23,440.85 648.76,440.78 649.29,440.66 649.82,440.48 650.35,440.20 650.88,439.82 651.41,439.34 651.94,438.76 652.47,438.11 653.00,437.40 653.53,436.66 654.06,435.89 654.59,435.11 655.12,434.35 655.66,433.62 656.19,432.95 656.72,432.38 657.25,431.95 657.78,431.71 658.31,431.69" fill="none" stroke="#40b040" stroke-width="0.95" stroke-linejoin="round"/><polyline points="394.60,443.90 395.13,443.90 395.66,443.90 396.19,443.90 396.72,443.90 397.25,443.90 397.78,443.90 398.31,443.90 398.84,443.90 399.38,443.90 399.91,443.90 400.44,443.90 400.97,443.90 401.50,443.90 402.03,443.90 402.56,443.90 403.09,443.90 403.62,443.90 404.15,443.90 404.68,443.90 405.21,443.90 405.74,443.90 406.27,443.90 406.80,443.90 407.33,443.90 407.87,443.90 408.40,443.90 408.93,443.90 409.46,443.90 409.99,443.90 410.52,443.90 411.05,443.90 411.58,443.90 412.11,443.90 412.64,443.90 413.17,443.90 413.70,443.90 414.23,443.90 414.76,443.90 415.29,443.90 415.82,443.90 416.35,443.90 416.89,443.90 417.42,443.90 417.95,443.90 418.48,443.90 419.01,443.90 419.54,443.90 420.07,443.90 420.60,443.90 421.13,443.90 421.66,443.90 422.19,443.90 422.72,443.90 423.25,443.90 423.78,443.90 424.31,443.90 424.84,443.90 425.37,443.90 425.91,443.90 426.44,443.90 426.97,443.90 427.50,443.90 428.03,443.90 428.56,443.90 429.09,443.90 429.62,443.90 430.15,443.90 430.68,443.90 431.21,443.90 431.74,443.90 432.27,443.90 432.80,443.90 433.33,443.90 433.86,443.90 434.40,443.90 434.93,443.90 435.46,443.90 435.99,443.90 436.52,443.90 437.05,443.90 437.58,443.90 438.11,443.90 438.64,443.90 439.17,443.90 439.70,443.90 440.23,443.90 440.76,443.90 441.29,443.90 441.82,443.90 442.35,443.90 442.88,443.90 443.42,443.90 443.95,443.90 444.48,443.90 445.01,443.90 445.54,443.90 446.07,443.90 446.60,443.90 447.13,443.89 447.66,443.89 448.19,443.88 448.72,443.85 449.25,443.80 449.78,443.71 450.31,443.54 450.84,443.26 451.37,442.78 451.90,442.02 452.44,440.85 452.97,439.11 453.50,436.65 454.03,433.30 454.56,428.94 455.09,423.52 455.62,417.11 456.15,409.90 456.68,402.24 457.21,394.60 457.74,387.56 458.27,381.67 458.80,377.44 459.33,375.22 459.86,375.15 460.39,377.15 460.93,380.92 461.46,386.02 461.99,391.91 462.52,398.09 463.05,404.11 463.58,409.65 464.11,414.53 464.64,418.68 465.17,422.14 465.70,425.01 466.23,427.41 466.76,429.46 467.29,431.26 467.82,432.89 468.35,434.37 468.88,435.75 469.41,437.01 469.95,438.16 470.48,439.20 471.01,440.11 471.54,440.89 472.07,441.56 472.60,442.11 473.13,442.55 473.66,442.90 474.19,443.18 474.72,443.38 475.25,443.54 475.78,443.65 476.31,443.73 476.84,443.79 477.37,443.83 477.90,443.85 478.43,443.87 478.97,443.88 479.50,443.89 480.03,443.89 480.56,443.90 481.09,443.90 481.62,443.90 482.15,443.90 482.68,443.90 483.21,443.90 483.74,443.90 484.27,443.90 484.80,443.90 485.33,443.90 485.86,443.90 486.39,443.90 486.92,443.90 487.46,443.90 487.99,443.90 488.52,443.90 489.05,443.90 489.58,443.90 490.11,443.90 490.64,443.90 491.17,443.90 491.70,443.90 492.23,443.90 492.76,443.90 493.29,443.90 493.82,443.90 494.35,443.90 494.88,443.90 495.41,443.90 495.94,443.90 496.48,443.90 497.01,443.90 497.54,443.90 498.07,443.90 498.60,443.90 499.13,443.89 499.66,443.89 500.19,443.88 500.72,443.87 501.25,443.85 501.78,443.83 502.31,443.79 502.84,443.74 503.37,443.66 503.90,443.55 504.43,443.41 504.96,443.21 505.50,442.94 506.03,442.59 506.56,442.13 507.09,441.55 507.62,440.83 508.15,439.95 508.68,438.88 509.21,437.62 509.74,436.15 510.27,434.49 510.80,432.63 511.33,430.61 511.86,428.45 512.39,426.20 512.92,423.92 513.45,421.67 513.99,419.54 514.52,417.58 515.05,415.89 515.58,414.52 516.11,413.53 516.64,412.97 517.17,412.85 517.70,413.19 518.23,413.97 518.76,415.16 519.29,416.70 519.82,418.53 520.35,420.59 520.88,422.79 521.41,425.06 521.94,427.33 522.47,429.54 523.01,431.64 523.54,433.58 524.07,435.35 524.60,436.91 525.13,438.27 525.66,439.44 526.19,440.41 526.72,441.21 527.25,441.86 527.78,442.37 528.31,442.77 528.84,443.08 529.37,443.31 529.90,443.49 530.43,443.61 530.96,443.70 531.49,443.77 532.03,443.81 532.56,443.84 533.09,443.86 533.62,443.88 534.15,443.89 534.68,443.89 535.21,443.89 535.74,443.90 536.27,443.90 536.80,443.90 537.33,443.90 537.86,443.90 538.39,443.90 538.92,443.90 539.45,443.90 539.98,443.90 540.52,443.90 541.05,443.90 541.58,443.90 542.11,443.89 542.64,443.89 543.17,443.88 543.70,443.87 544.23,443.85 544.76,443.81 545.29,443.76 545.82,443.68 546.35,443.56 546.88,443.39 547.41,443.16 547.94,442.86 548.47,442.47 549.00,441.98 549.54,441.39 550.07,440.69 550.60,439.92 551.13,439.07 551.66,438.20 552.19,437.34 552.72,436.53 553.25,435.84 553.78,435.31 554.31,434.98 554.84,434.86 555.37,434.98 555.90,435.31 556.43,435.84 556.96,436.53 557.49,437.34 558.02,438.20 558.56,439.07 559.09,439.92 559.62,440.69 560.15,441.39 560.68,441.98 561.21,442.47 561.74,442.86 562.27,443.16 562.80,443.39 563.33,443.56 563.86,443.68 564.39,443.76 564.92,443.81 565.45,443.85 565.98,443.87 566.51,443.88 567.05,443.89 567.58,443.89 568.11,443.90 568.64,443.90 569.17,443.90 569.70,443.90 570.23,443.90 570.76,443.90 571.29,443.90 571.82,443.89 572.35,443.89 572.88,443.88 573.41,443.86 573.94,443.83 574.47,443.79 575.00,443.73 575.53,443.63 576.07,443.49 576.60,443.29 577.13,443.03 577.66,442.67 578.19,442.20 578.72,441.62 579.25,440.90 579.78,440.06 580.31,439.08 580.84,438.00 581.37,436.85 581.90,435.67 582.43,434.50 582.96,433.42 583.49,432.48 584.02,431.74 584.55,431.23 585.09,430.99 585.62,431.03 586.15,431.34 586.68,431.88 587.21,432.61 587.74,433.47 588.27,434.40 588.80,435.34 589.33,436.24 589.86,437.06 590.39,437.77 590.92,438.35 591.45,438.80 591.98,439.13 592.51,439.35 593.04,439.49 593.58,439.55 594.11,439.57 594.64,439.57 595.17,439.56 595.70,439.56 596.23,439.59 596.76,439.63 597.29,439.71 597.82,439.83 598.35,439.97 598.88,440.14 599.41,440.34 599.94,440.56 600.47,440.80 601.00,441.04 601.53,441.27 602.06,441.50 602.60,441.70 603.13,441.87 603.66,441.99 604.19,442.05 604.72,442.04 605.25,441.94 605.78,441.75 606.31,441.44 606.84,441.01 607.37,440.46 607.90,439.80 608.43,439.04 608.96,438.22 609.49,437.37 610.02,436.52 610.55,435.73 611.08,435.05 611.62,434.51 612.15,434.15 612.68,433.99 613.21,434.03 613.74,434.26 614.27,434.63 614.80,435.11 615.33,435.65 615.86,436.18 616.39,436.65 616.92,437.02 617.45,437.27 617.98,437.37 618.51,437.33 619.04,437.18 619.57,436.94 620.11,436.67 620.64,436.41 621.17,436.20 621.70,436.09 622.23,436.11 622.76,436.27 623.29,436.58 623.82,437.03 624.35,437.59 624.88,438.24 625.41,438.94 625.94,439.65 626.47,440.34 627.00,440.99 627.53,441.58 628.06,442.09 628.59,442.52 629.13,442.87 629.66,443.15 630.19,443.37 630.72,443.53 631.25,443.65 631.78,443.74 632.31,443.79 632.84,443.83 633.37,443.86 633.90,443.87 634.43,443.88 634.96,443.89 635.49,443.89 636.02,443.88 636.55,443.88 637.08,443.86 637.61,443.84 638.15,443.80 638.68,443.75 639.21,443.68 639.74,443.59 640.27,443.46 640.80,443.31 641.33,443.12 641.86,442.90 642.39,442.65 642.92,442.38 643.45,442.10 643.98,441.83 644.51,441.57 645.04,441.35 645.57,441.18 646.10,441.05 646.63,440.96 647.17,440.90 647.70,440.86 648.23,440.80 648.76,440.70 649.29,440.53 649.82,440.28 650.35,439.94 650.88,439.50 651.41,438.98 651.94,438.39 652.47,437.75 653.00,437.07 653.53,436.37 654.06,435.65 654.59,434.93 655.12,434.20 655.66,433.51 656.19,432.87 656.72,432.35 657.25,431.98 657.78,431.81 658.31,431.88" fill="none" stroke="#ff00ff" stroke-width="0.95" stroke-linejoin="round"/><polyline points="394.60,443.90 395.13,443.90 395.66,443.90 396.19,443.90 396.72,443.90 397.25,443.90 397.78,443.90 398.31,443.90 398.84,443.90 399.38,443.90 399.91,443.90 400.44,443.90 400.97,443.90 401.50,443.90 402.03,443.90 402.56,443.90 403.09,443.90 403.62,443.90 404.15,443.90 404.68,443.90 405.21,443.90 405.74,443.90 406.27,443.90 406.80,443.90 407.33,443.90 407.87,443.90 408.40,443.90 408.93,443.90 409.46,443.90 409.99,443.90 410.52,443.90 411.05,443.90 411.58,443.90 412.11,443.90 412.64,443.90 413.17,443.90 413.70,443.90 414.23,443.90 414.76,443.90 415.29,443.90 415.82,443.90 416.35,443.90 416.89,443.90 417.42,443.90 417.95,443.90 418.48,443.90 419.01,443.90 419.54,443.90 420.07,443.90 420.60,443.90 421.13,443.90 421.66,443.90 422.19,443.90 422.72,443.90 423.25,443.90 423.78,443.90 424.31,443.90 424.84,443.90 425.37,443.90 425.91,443.90 426.44,443.90 426.97,443.90 427.50,443.90 428.03,443.90 428.56,443.90 429.09,443.90 429.62,443.90 430.15,443.90 430.68,443.90 431.21,443.90 431.74,443.90 432.27,443.90 432.80,443.90 433.33,443.90 433.86,443.90 434.40,443.90 434.93,443.90 435.46,443.90 435.99,443.90 436.52,443.90 437.05,443.90 437.58,443.90 438.11,443.90 438.64,443.90 439.17,443.90 439.70,443.90 440.23,443.90 440.76,443.90 441.29,443.90 441.82,443.90 442.35,443.90 442.88,443.90 443.42,443.90 443.95,443.90 444.48,443.90 445.01,443.90 445.54,443.90 446.07,443.90 446.60,443.90 447.13,443.89 447.66,443.89 448.19,443.87 448.72,443.84 449.25,443.78 449.78,443.67 450.31,443.48 450.84,443.15 451.37,442.61 451.90,441.74 452.44,440.42 452.97,438.49 453.50,435.79 454.03,432.14 454.56,427.46 455.09,421.70 455.62,414.97 456.15,407.51 456.68,399.70 457.21,392.06 457.74,385.16 458.27,379.58 458.80,375.78 459.33,374.09 459.86,374.58 460.39,377.11 460.93,381.34 461.46,386.78 461.99,392.90 462.52,399.18 463.05,405.20 463.58,410.67 464.11,415.44 464.64,419.47 465.17,422.82 465.70,425.59 466.23,427.92 466.76,429.91 467.29,431.67 467.82,433.26 468.35,434.72 468.88,436.07 469.41,437.31 469.95,438.43 470.48,439.44 471.01,440.32 471.54,441.07 472.07,441.71 472.60,442.23 473.13,442.65 473.66,442.98 474.19,443.23 474.72,443.43 475.25,443.57 475.78,443.67 476.31,443.75 476.84,443.80 477.37,443.83 477.90,443.86 478.43,443.87 478.97,443.88 479.50,443.89 480.03,443.89 480.56,443.90 481.09,443.90 481.62,443.90 482.15,443.90 482.68,443.90 483.21,443.90 483.74,443.90 484.27,443.90 484.80,443.90 485.33,443.90 485.86,443.90 486.39,443.90 486.92,443.90 487.46,443.90 487.99,443.90 488.52,443.90 489.05,443.90 489.58,443.90 490.11,443.90 490.64,443.90 491.17,443.90 491.70,443.90 492.23,443.90 492.76,443.90 493.29,443.90 493.82,443.90 494.35,443.90 494.88,443.90 495.41,443.90 495.94,443.90 496.48,443.90 497.01,443.90 497.54,443.90 498.07,443.90 498.60,443.90 499.13,443.89 499.66,443.89 500.19,443.88 500.72,443.87 501.25,443.85 501.78,443.82 502.31,443.78 502.84,443.72 503.37,443.64 503.90,443.52 504.43,443.36 504.96,443.15 505.50,442.86 506.03,442.48 506.56,442.00 507.09,441.39 507.62,440.63 508.15,439.70 508.68,438.58 509.21,437.27 509.74,435.76 510.27,434.04 510.80,432.14 511.33,430.08 511.86,427.89 512.39,425.63 512.92,423.35 513.45,421.13 513.99,419.03 514.52,417.13 515.05,415.51 515.58,414.23 516.11,413.35 516.64,412.89 517.17,412.89 517.70,413.35 518.23,414.23 518.76,415.51 519.29,417.13 519.82,419.03 520.35,421.13 520.88,423.35 521.41,425.63 521.94,427.89 522.47,430.08 523.01,432.14 523.54,434.04 524.07,435.76 524.60,437.27 525.13,438.58 525.66,439.70 526.19,440.63 526.72,441.39 527.25,442.00 527.78,442.48 528.31,442.86 528.84,443.15 529.37,443.36 529.90,443.52 530.43,443.64 530.96,443.72 531.49,443.78 532.03,443.82 532.56,443.85 533.09,443.87 533.62,443.88 534.15,443.89 534.68,443.89 535.21,443.90 535.74,443.90 536.27,443.90 536.80,443.90 537.33,443.90 537.86,443.90 538.39,443.90 538.92,443.90 539.45,443.90 539.98,443.90 540.52,443.90 541.05,443.90 541.58,443.90 542.11,443.89 542.64,443.89 543.17,443.88 543.70,443.86 544.23,443.84 544.76,443.80 545.29,443.74 545.82,443.65 546.35,443.52 546.88,443.34 547.41,443.10 547.94,442.77 548.47,442.36 549.00,441.84 549.54,441.22 550.07,440.51 550.60,439.71 551.13,438.85 551.66,437.98 552.19,437.13 552.72,436.35 553.25,435.69 553.78,435.21 554.31,434.93 554.84,434.87 555.37,435.04 555.90,435.43 556.43,436.00 556.96,436.73 557.49,437.55 558.02,438.42 558.56,439.29 559.09,440.12 559.62,440.88 560.15,441.54 560.68,442.11 561.21,442.58 561.74,442.94 562.27,443.23 562.80,443.44 563.33,443.59 563.86,443.70 564.39,443.77 564.92,443.82 565.45,443.85 565.98,443.87 566.51,443.88 567.05,443.89 567.58,443.90 568.11,443.90 568.64,443.90 569.17,443.90 569.70,443.90 570.23,443.90 570.76,443.90 571.29,443.89 571.82,443.89 572.35,443.88 572.88,443.87 573.41,443.85 573.94,443.82 574.47,443.77 575.00,443.70 575.53,443.60 576.07,443.44 576.60,443.23 577.13,442.94 577.66,442.55 578.19,442.05 578.72,441.43 579.25,440.68 579.78,439.79 580.31,438.78 580.84,437.66 581.37,436.48 581.90,435.28 582.43,434.11 582.96,433.03 583.49,432.11 584.02,431.39 584.55,430.91 585.09,430.70 585.62,430.77 586.15,431.10 586.68,431.65 587.21,432.37 587.74,433.22 588.27,434.12 588.80,435.03 589.33,435.89 589.86,436.68 590.39,437.35 590.92,437.91 591.45,438.36 591.98,438.69 592.51,438.94 593.04,439.11 593.58,439.24 594.11,439.33 594.64,439.42 595.17,439.50 595.70,439.60 596.23,439.72 596.76,439.87 597.29,440.04 597.82,440.24 598.35,440.45 598.88,440.69 599.41,440.93 599.94,441.18 600.47,441.43 601.00,441.67 601.53,441.89 602.06,442.08 602.60,442.25 603.13,442.36 603.66,442.42 604.19,442.42 604.72,442.33 605.25,442.14 605.78,441.85 606.31,441.45 606.84,440.93 607.37,440.29 607.90,439.56 608.43,438.74 608.96,437.87 609.49,437.00 610.02,436.15 610.55,435.39 611.08,434.76 611.62,434.28 612.15,433.99 612.68,433.89 613.21,433.98 613.74,434.22 614.27,434.58 614.80,435.02 615.33,435.46 615.86,435.87 616.39,436.20 616.92,436.42 617.45,436.51 617.98,436.48 618.51,436.36 619.04,436.17 619.57,435.95 620.11,435.77 620.64,435.65 621.17,435.65 621.70,435.78 622.23,436.05 622.76,436.47 623.29,437.01 623.82,437.65 624.35,438.36 624.88,439.10 625.41,439.84 625.94,440.54 626.47,441.19 627.00,441.76 627.53,442.25 628.06,442.66 628.59,442.99 629.13,443.24 629.66,443.44 630.19,443.59 630.72,443.69 631.25,443.76 631.78,443.81 632.31,443.85 632.84,443.87 633.37,443.88 633.90,443.89 634.43,443.89 634.96,443.89 635.49,443.88 636.02,443.88 636.55,443.86 637.08,443.84 637.61,443.80 638.15,443.75 638.68,443.68 639.21,443.59 639.74,443.46 640.27,443.31 640.80,443.12 641.33,442.90 641.86,442.65 642.39,442.38 642.92,442.10 643.45,441.83 643.98,441.57 644.51,441.36 645.04,441.18 645.57,441.05 646.10,440.96 646.63,440.91 647.17,440.87 647.70,440.82 648.23,440.73 648.76,440.58 649.29,440.35 649.82,440.03 650.35,439.63 650.88,439.16 651.41,438.63 651.94,438.06 652.47,437.46 653.00,436.82 653.53,436.17 654.06,435.48 654.59,434.78 655.12,434.08 655.66,433.40 656.19,432.80 656.72,432.31 657.25,432.00 657.78,431.92 658.31,432.09" fill="none" stroke="#2a2aff" stroke-width="0.95" stroke-linejoin="round"/><polyline points="394.60,443.90 395.13,443.90 395.66,443.90 396.19,443.90 396.72,443.90 397.25,443.90 397.78,443.90 398.31,443.90 398.84,443.90 399.38,443.90 399.91,443.90 400.44,443.90 400.97,443.90 401.50,443.90 402.03,443.90 402.56,443.90 403.09,443.90 403.62,443.90 404.15,443.90 404.68,443.90 405.21,443.90 405.74,443.90 406.27,443.90 406.80,443.90 407.33,443.90 407.87,443.90 408.40,443.90 408.93,443.90 409.46,443.90 409.99,443.90 410.52,443.90 411.05,443.90 411.58,443.90 412.11,443.90 412.64,443.90 413.17,443.90 413.70,443.90 414.23,443.90 414.76,443.90 415.29,443.90 415.82,443.90 416.35,443.90 416.89,443.90 417.42,443.90 417.95,443.90 418.48,443.90 419.01,443.90 419.54,443.90 420.07,443.90 420.60,443.90 421.13,443.90 421.66,443.90 422.19,443.90 422.72,443.90 423.25,443.90 423.78,443.90 424.31,443.90 424.84,443.90 425.37,443.90 425.91,443.90 426.44,443.90 426.97,443.90 427.50,443.90 428.03,443.90 428.56,443.90 429.09,443.90 429.62,443.90 430.15,443.90 430.68,443.90 431.21,443.90 431.74,443.90 432.27,443.90 432.80,443.90 433.33,443.90 433.86,443.90 434.40,443.90 434.93,443.90 435.46,443.90 435.99,443.90 436.52,443.90 437.05,443.90 437.58,443.90 438.11,443.90 438.64,443.90 439.17,443.90 439.70,443.90 440.23,443.90 440.76,443.90 441.29,443.90 441.82,443.90 442.35,443.90 442.88,443.90 443.42,443.90 443.95,443.90 444.48,443.90 445.01,443.90 445.54,443.90 446.07,443.90 446.60,443.90 447.13,443.90 447.66,443.89 448.19,443.88 448.72,443.87 449.25,443.83 449.78,443.76 450.31,443.64 450.84,443.43 451.37,443.07 451.90,442.48 452.44,441.56 452.97,440.17 453.50,438.15 454.03,435.34 454.56,431.60 455.09,426.85 455.62,421.09 456.15,414.43 456.68,407.15 457.21,399.65 457.74,392.43 458.27,386.06 458.80,381.07 459.33,377.87 459.86,376.73 460.39,377.65 460.93,380.46 461.46,384.79 461.99,390.16 462.52,396.05 463.05,401.99 463.58,407.61 464.11,412.67 464.64,417.05 465.17,420.74 465.70,423.81 466.23,426.37 466.76,428.54 467.29,430.43 467.82,432.12 468.35,433.66 468.88,435.08 469.41,436.40 469.95,437.60 470.48,438.70 471.01,439.67 471.54,440.52 472.07,441.24 472.60,441.85 473.13,442.34 473.66,442.74 474.19,443.05 474.72,443.29 475.25,443.47 475.78,443.60 476.31,443.69 476.84,443.76 477.37,443.81 477.90,443.84 478.43,443.86 478.97,443.88 479.50,443.89 480.03,443.89 480.56,443.89 481.09,443.90 481.62,443.90 482.15,443.90 482.68,443.90 483.21,443.90 483.74,443.90 484.27,443.90 484.80,443.90 485.33,443.90 485.86,443.90 486.39,443.90 486.92,443.90 487.46,443.90 487.99,443.90 488.52,443.90 489.05,443.90 489.58,443.90 490.11,443.90 490.64,443.90 491.17,443.90 491.70,443.90 492.23,443.90 492.76,443.90 493.29,443.90 493.82,443.90 494.35,443.90 494.88,443.90 495.41,443.90 495.94,443.90 496.48,443.90 497.01,443.90 497.54,443.90 498.07,443.90 498.60,443.90 499.13,443.89 499.66,443.89 500.19,443.89 500.72,443.88 501.25,443.86 501.78,443.84 502.31,443.81 502.84,443.77 503.37,443.70 503.90,443.61 504.43,443.49 504.96,443.31 505.50,443.08 506.03,442.77 506.56,442.37 507.09,441.86 507.62,441.21 508.15,440.41 508.68,439.44 509.21,438.27 509.74,436.91 510.27,435.35 510.80,433.58 511.33,431.64 511.86,429.54 512.39,427.33 512.92,425.06 513.45,422.79 513.99,420.59 514.52,418.53 515.05,416.70 515.58,415.16 516.11,413.97 516.64,413.19 517.17,412.85 517.70,412.97 518.23,413.53 518.76,414.52 519.29,415.89 519.82,417.58 520.35,419.54 520.88,421.67 521.41,423.92 521.94,426.20 522.47,428.45 523.01,430.61 523.54,432.63 524.07,434.49 524.60,436.15 525.13,437.62 525.66,438.88 526.19,439.95 526.72,440.83 527.25,441.55 527.78,442.13 528.31,442.59 528.84,442.94 529.37,443.21 529.90,443.41 530.43,443.55 530.96,443.66 531.49,443.74 532.03,443.79 532.56,443.83 533.09,443.85 533.62,443.87 534.15,443.88 534.68,443.89 535.21,443.89 535.74,443.90 536.27,443.90 536.80,443.90 537.33,443.90 537.86,443.90 538.39,443.90 538.92,443.90 539.45,443.90 539.98,443.90 540.52,443.90 541.05,443.90 541.58,443.90 542.11,443.90 542.64,443.89 543.17,443.89 543.70,443.88 544.23,443.86 544.76,443.83 545.29,443.79 545.82,443.72 546.35,443.62 546.88,443.48 547.41,443.29 547.94,443.02 548.47,442.68 549.00,442.24 549.54,441.70 550.07,441.05 550.60,440.31 551.13,439.50 551.66,438.64 552.19,437.76 552.72,436.92 553.25,436.17 553.78,435.56 554.31,435.12 554.84,434.89 555.37,434.89 555.90,435.12 556.43,435.56 556.96,436.17 557.49,436.92 558.02,437.76 558.56,438.64 559.09,439.50 559.62,440.31 560.15,441.05 560.68,441.70 561.21,442.24 561.74,442.68 562.27,443.02 562.80,443.29 563.33,443.48 563.86,443.62 564.39,443.72 564.92,443.79 565.45,443.83 565.98,443.86 566.51,443.88 567.05,443.89 567.58,443.89 568.11,443.90 568.64,443.90 569.17,443.90 569.70,443.90 570.23,443.90 570.76,443.90 571.29,443.90 571.82,443.89 572.35,443.89 572.88,443.88 573.41,443.87 573.94,443.85 574.47,443.81 575.00,443.76 575.53,443.68 576.07,443.57 576.60,443.40 577.13,443.17 577.66,442.87 578.19,442.46 578.72,441.94 579.25,441.30 579.78,440.52 580.31,439.62 580.84,438.60 581.37,437.49 581.90,436.33 582.43,435.17 582.96,434.07 583.49,433.08 584.02,432.27 584.55,431.68 585.09,431.35 585.62,431.31 586.15,431.55 586.68,432.05 587.21,432.76 587.74,433.64 588.27,434.63 588.80,435.66 589.33,436.67 589.86,437.61 590.39,438.44 590.92,439.15 591.45,439.71 591.98,440.12 592.51,440.39 593.04,440.55 593.58,440.60 594.11,440.57 594.64,440.48 595.17,440.36 595.70,440.21 596.23,440.07 596.76,439.93 597.29,439.81 597.82,439.72 598.35,439.66 598.88,439.65 599.41,439.67 599.94,439.73 600.47,439.83 601.00,439.96 601.53,440.12 602.06,440.30 602.60,440.49 603.13,440.68 603.66,440.86 604.19,441.01 604.72,441.11 605.25,441.16 605.78,441.12 606.31,440.99 606.84,440.76 607.37,440.40 607.90,439.93 608.43,439.34 608.96,438.65 609.49,437.89 610.02,437.09 610.55,436.30 611.08,435.56 611.62,434.92 612.15,434.43 612.68,434.12 613.21,434.02 613.74,434.13 614.27,434.43 614.80,434.90 615.33,435.50 615.86,436.17 616.39,436.86 616.92,437.51 617.45,438.07 617.98,438.50 618.51,438.79 619.04,438.90 619.57,438.86 620.11,438.68 620.64,438.39 621.17,438.03 621.70,437.66 622.23,437.31 622.76,437.04 623.29,436.87 623.82,436.84 624.35,436.95 624.88,437.21 625.41,437.61 625.94,438.12 626.47,438.70 627.00,439.34 627.53,439.99 628.06,440.63 628.59,441.22 629.13,441.76 629.66,442.23 630.19,442.63 630.72,442.96 631.25,443.21 631.78,443.41 632.31,443.56 632.84,443.67 633.37,443.75 633.90,443.80 634.43,443.84 634.96,443.86 635.49,443.87 636.02,443.88 636.55,443.88 637.08,443.88 637.61,443.87 638.15,443.86 638.68,443.84 639.21,443.80 639.74,443.75 640.27,443.68 640.80,443.59 641.33,443.46 641.86,443.31 642.39,443.12 642.92,442.90 643.45,442.65 643.98,442.38 644.51,442.10 645.04,441.83 645.57,441.57 646.10,441.35 646.63,441.17 647.17,441.04 647.70,440.95 648.23,440.89 648.76,440.83 649.29,440.75 649.82,440.62 650.35,440.41 650.88,440.10 651.41,439.68 651.94,439.15 652.47,438.52 653.00,437.80 653.53,437.02 654.06,436.21 654.59,435.38 655.12,434.56 655.66,433.77 656.19,433.05 656.72,432.42 657.25,431.93 657.78,431.62 658.31,431.51" fill="none" stroke="#9a4cff" stroke-width="0.95" stroke-linejoin="round"/><polyline points="394.60,443.90 395.13,443.90 395.66,443.90 396.19,443.90 396.72,443.90 397.25,443.90 397.78,443.90 398.31,443.90 398.84,443.90 399.38,443.90 399.91,443.90 400.44,443.90 400.97,443.90 401.50,443.90 402.03,443.90 402.56,443.90 403.09,443.90 403.62,443.90 404.15,443.90 404.68,443.90 405.21,443.90 405.74,443.90 406.27,443.90 406.80,443.90 407.33,443.90 407.87,443.90 408.40,443.90 408.93,443.90 409.46,443.90 409.99,443.90 410.52,443.90 411.05,443.90 411.58,443.90 412.11,443.90 412.64,443.90 413.17,443.90 413.70,443.90 414.23,443.90 414.76,443.90 415.29,443.90 415.82,443.90 416.35,443.90 416.89,443.90 417.42,443.90 417.95,443.90 418.48,443.90 419.01,443.90 419.54,443.90 420.07,443.90 420.60,443.90 421.13,443.90 421.66,443.90 422.19,443.90 422.72,443.90 423.25,443.90 423.78,443.90 424.31,443.90 424.84,443.90 425.37,443.90 425.91,443.90 426.44,443.90 426.97,443.90 427.50,443.90 428.03,443.90 428.56,443.90 429.09,443.90 429.62,443.90 430.15,443.90 430.68,443.90 431.21,443.90 431.74,443.90 432.27,443.90 432.80,443.90 433.33,443.90 433.86,443.90 434.40,443.90 434.93,443.90 435.46,443.90 435.99,443.90 436.52,443.90 437.05,443.90 437.58,443.90 438.11,443.90 438.64,443.90 439.17,443.90 439.70,443.90 440.23,443.90 440.76,443.90 441.29,443.90 441.82,443.90 442.35,443.90 442.88,443.90 443.42,443.90 443.95,443.90 444.48,443.90 445.01,443.90 445.54,443.90 446.07,443.90 446.60,443.90 447.13,443.89 447.66,443.88 448.19,443.86 448.72,443.83 449.25,443.76 449.78,443.63 450.31,443.41 450.84,443.03 451.37,442.40 451.90,441.43 452.44,439.95 452.97,437.81 453.50,434.85 454.03,430.90 454.56,425.87 455.09,419.78 455.62,412.74 456.15,405.05 456.68,397.12 457.21,389.51 457.74,382.81 458.27,377.57 458.80,374.25 459.33,373.10 459.86,374.16 460.39,377.21 460.93,381.88 461.46,387.64 461.99,393.94 462.52,400.30 463.05,406.30 463.58,411.69 464.11,416.34 464.64,420.25 465.17,423.48 465.70,426.16 466.23,428.41 466.76,430.35 467.29,432.07 467.82,433.63 468.35,435.07 468.88,436.39 469.41,437.60 469.95,438.70 470.48,439.67 471.01,440.52 471.54,441.24 472.07,441.85 472.60,442.34 473.13,442.74 473.66,443.05 474.19,443.29 474.72,443.47 475.25,443.60 475.78,443.69 476.31,443.76 476.84,443.81 477.37,443.84 477.90,443.86 478.43,443.88 478.97,443.89 479.50,443.89 480.03,443.89 480.56,443.90 481.09,443.90 481.62,443.90 482.15,443.90 482.68,443.90 483.21,443.90 483.74,443.90 484.27,443.90 484.80,443.90 485.33,443.90 485.86,443.90 486.39,443.90 486.92,443.90 487.46,443.90 487.99,443.90 488.52,443.90 489.05,443.90 489.58,443.90 490.11,443.90 490.64,443.90 491.17,443.90 491.70,443.90 492.23,443.90 492.76,443.90 493.29,443.90 493.82,443.90 494.35,443.90 494.88,443.90 495.41,443.90 495.94,443.90 496.48,443.90 497.01,443.90 497.54,443.90 498.07,443.90 498.60,443.89 499.13,443.89 499.66,443.89 500.19,443.88 500.72,443.86 501.25,443.84 501.78,443.81 502.31,443.77 502.84,443.70 503.37,443.61 503.90,443.49 504.43,443.31 504.96,443.08 505.50,442.77 506.03,442.37 506.56,441.86 507.09,441.21 507.62,440.41 508.15,439.44 508.68,438.27 509.21,436.91 509.74,435.35 510.27,433.58 510.80,431.64 511.33,429.54 511.86,427.33 512.39,425.06 512.92,422.79 513.45,420.59 513.99,418.53 514.52,416.70 515.05,415.16 515.58,413.97 516.11,413.19 516.64,412.85 517.17,412.97 517.70,413.53 518.23,414.52 518.76,415.89 519.29,417.58 519.82,419.54 520.35,421.67 520.88,423.92 521.41,426.20 521.94,428.45 522.47,430.61 523.01,432.63 523.54,434.49 524.07,436.15 524.60,437.62 525.13,438.88 525.66,439.95 526.19,440.83 526.72,441.55 527.25,442.13 527.78,442.59 528.31,442.94 528.84,443.21 529.37,443.41 529.90,443.55 530.43,443.66 530.96,443.74 531.49,443.79 532.03,443.83 532.56,443.85 533.09,443.87 533.62,443.88 534.15,443.89 534.68,443.89 535.21,443.90 535.74,443.90 536.27,443.90 536.80,443.90 537.33,443.90 537.86,443.90 538.39,443.90 538.92,443.90 539.45,443.90 539.98,443.90 540.52,443.90 541.05,443.90 541.58,443.90 542.11,443.89 542.64,443.89 543.17,443.88 543.70,443.86 544.23,443.83 544.76,443.79 545.29,443.72 545.82,443.62 546.35,443.48 546.88,443.29 547.41,443.02 547.94,442.68 548.47,442.24 549.00,441.70 549.54,441.05 550.07,440.31 550.60,439.50 551.13,438.64 551.66,437.76 552.19,436.92 552.72,436.17 553.25,435.56 553.78,435.12 554.31,434.89 554.84,434.89 555.37,435.12 555.90,435.56 556.43,436.17 556.96,436.92 557.49,437.76 558.02,438.64 558.56,439.50 559.09,440.31 559.62,441.05 560.15,441.70 560.68,442.24 561.21,442.68 561.74,443.02 562.27,443.29 562.80,443.48 563.33,443.62 563.86,443.72 564.39,443.79 564.92,443.83 565.45,443.86 565.98,443.88 566.51,443.89 567.05,443.89 567.58,443.90 568.11,443.90 568.64,443.90 569.17,443.90 569.70,443.90 570.23,443.90 570.76,443.90 571.29,443.89 571.82,443.89 572.35,443.88 572.88,443.87 573.41,443.84 573.94,443.81 574.47,443.76 575.00,443.67 575.53,443.56 576.07,443.39 576.60,443.15 577.13,442.83 577.66,442.41 578.19,441.88 578.72,441.22 579.25,440.42 579.78,439.48 580.31,438.42 580.84,437.27 581.37,436.05 581.90,434.83 582.43,433.64 582.96,432.57 583.49,431.65 584.02,430.95 584.55,430.50 585.09,430.32 585.62,430.41 586.15,430.76 586.68,431.32 587.21,432.05 587.74,432.89 588.27,433.78 588.80,434.68 589.33,435.53 589.86,436.30 590.39,436.98 590.92,437.55 591.45,438.02 591.98,438.40 592.51,438.70 593.04,438.95 593.58,439.16 594.11,439.34 594.64,439.52 595.17,439.70 595.70,439.89 596.23,440.10 596.76,440.32 597.29,440.56 597.82,440.80 598.35,441.06 598.88,441.32 599.41,441.57 599.94,441.81 600.47,442.04 601.00,442.25 601.53,442.44 602.06,442.58 602.60,442.69 603.13,442.74 603.66,442.73 604.19,442.65 604.72,442.48 605.25,442.21 605.78,441.83 606.31,441.34 606.84,440.74 607.37,440.03 607.90,439.23 608.43,438.36 608.96,437.47 609.49,436.59 610.02,435.76 610.55,435.03 611.08,434.45 611.62,434.03 612.15,433.79 612.68,433.73 613.21,433.83 613.74,434.06 614.27,434.38 614.80,434.72 615.33,435.05 615.86,435.32 616.39,435.51 616.92,435.59 617.45,435.58 617.98,435.49 618.51,435.36 619.04,435.22 619.57,435.13 620.11,435.13 620.64,435.24 621.17,435.49 621.70,435.88 622.23,436.40 622.76,437.04 623.29,437.75 623.82,438.52 624.35,439.30 624.88,440.05 625.41,440.75 625.94,441.39 626.47,441.94 627.00,442.41 627.53,442.79 628.06,443.09 628.59,443.33 629.13,443.50 629.66,443.63 630.19,443.72 630.72,443.79 631.25,443.83 631.78,443.86 632.31,443.87 632.84,443.88 633.37,443.89 633.90,443.89 634.43,443.89 634.96,443.88 635.49,443.88 636.02,443.86 636.55,443.84 637.08,443.80 637.61,443.75 638.15,443.68 638.68,443.59 639.21,443.46 639.74,443.31 640.27,443.12 640.80,442.90 641.33,442.65 641.86,442.38 642.39,442.10 642.92,441.83 643.45,441.57 643.98,441.36 644.51,441.18 645.04,441.05 645.57,440.97 646.10,440.92 646.63,440.88 647.17,440.83 647.70,440.75 648.23,440.61 648.76,440.40 649.29,440.11 649.82,439.75 650.35,439.32 650.88,438.85 651.41,438.34 651.94,437.80 652.47,437.24 653.00,436.65 653.53,436.02 654.06,435.36 654.59,434.66 655.12,433.96 655.66,433.29 656.19,432.71 656.72,432.27 657.25,432.04 657.78,432.05 658.31,432.33" fill="none" stroke="#f01030" stroke-width="1.2" stroke-linejoin="round"/></g>
<text x="388.50" y="448.40" font-size="12.9" text-anchor="end" fill="#000" >0</text>
<text x="388.50" y="424.13" font-size="12.9" text-anchor="end" fill="#000" >4</text>
<text x="388.50" y="399.86" font-size="12.9" text-anchor="end" fill="#000" >8</text>
<text x="388.50" y="375.60" font-size="12.9" text-anchor="end" fill="#000" >12</text>
<path d="M394.6,443.90 h4 M394.6,419.63 h4 M394.6,395.36 h4 M394.6,371.10 h4 M394.6,431.77 h2.4 M394.6,407.50 h2.4 M394.6,383.23 h2.4 M394.60,443.7 v-4 M421.13,443.7 v-2.4 M447.66,443.7 v-4 M474.19,443.7 v-2.4 M500.72,443.7 v-4 M527.25,443.7 v-2.4 M553.78,443.7 v-4 M580.31,443.7 v-2.4 M606.84,443.7 v-4 M633.37,443.7 v-2.4 M659.90,443.7 v-4" stroke="#000" stroke-width="1" fill="none"/>
<rect x="394.6" y="369.3" width="266.79999999999995" height="74.39999999999998" fill="none" stroke="#000" stroke-width="1.3"/>
<text x="409.40" y="412.20" font-size="13.1" text-anchor="start" fill="#000" >Cu-Se</text>
<rect x="394.6" y="452.8" width="266.79999999999995" height="74.19999999999999" fill="url(#dbg2)"/>
<clipPath id="dc2"><rect x="394.6" y="452.8" width="266.79999999999995" height="73.19999999999999"/></clipPath>
<g clip-path="url(#dc2)"><polyline points="394.60,527.20 395.13,527.20 395.66,527.20 396.19,527.20 396.72,527.20 397.25,527.20 397.78,527.20 398.31,527.20 398.84,527.20 399.38,527.20 399.91,527.20 400.44,527.20 400.97,527.20 401.50,527.20 402.03,527.20 402.56,527.20 403.09,527.20 403.62,527.20 404.15,527.20 404.68,527.20 405.21,527.20 405.74,527.20 406.27,527.20 406.80,527.20 407.33,527.20 407.87,527.20 408.40,527.20 408.93,527.20 409.46,527.20 409.99,527.20 410.52,527.20 411.05,527.20 411.58,527.20 412.11,527.20 412.64,527.20 413.17,527.20 413.70,527.20 414.23,527.20 414.76,527.20 415.29,527.20 415.82,527.20 416.35,527.20 416.89,527.20 417.42,527.20 417.95,527.20 418.48,527.20 419.01,527.20 419.54,527.20 420.07,527.20 420.60,527.20 421.13,527.20 421.66,527.20 422.19,527.20 422.72,527.20 423.25,527.20 423.78,527.20 424.31,527.20 424.84,527.20 425.37,527.20 425.91,527.20 426.44,527.20 426.97,527.20 427.50,527.20 428.03,527.20 428.56,527.20 429.09,527.20 429.62,527.20 430.15,527.20 430.68,527.20 431.21,527.20 431.74,527.20 432.27,527.20 432.80,527.20 433.33,527.20 433.86,527.20 434.40,527.20 434.93,527.20 435.46,527.20 435.99,527.20 436.52,527.20 437.05,527.20 437.58,527.20 438.11,527.20 438.64,527.20 439.17,527.20 439.70,527.20 440.23,527.20 440.76,527.20 441.29,527.20 441.82,527.20 442.35,527.20 442.88,527.20 443.42,527.20 443.95,527.20 444.48,527.20 445.01,527.20 445.54,527.20 446.07,527.20 446.60,527.20 447.13,527.20 447.66,527.20 448.19,527.20 448.72,527.20 449.25,527.20 449.78,527.20 450.31,527.20 450.84,527.20 451.37,527.20 451.90,527.20 452.44,527.20 452.97,527.20 453.50,527.20 454.03,527.20 454.56,527.20 455.09,527.20 455.62,527.20 456.15,527.20 456.68,527.20 457.21,527.20 457.74,527.20 458.27,527.20 458.80,527.20 459.33,527.20 459.86,527.20 460.39,527.20 460.93,527.20 461.46,527.20 461.99,527.20 462.52,527.20 463.05,527.20 463.58,527.20 464.11,527.20 464.64,527.20 465.17,527.20 465.70,527.19 466.23,527.18 466.76,527.17 467.29,527.14 467.82,527.08 468.35,526.99 468.88,526.83 469.41,526.56 469.95,526.12 470.48,525.46 471.01,524.46 471.54,523.02 472.07,521.02 472.60,518.33 473.13,514.85 473.66,510.51 474.19,505.32 474.72,499.37 475.25,492.86 475.78,486.09 476.31,479.45 476.84,473.39 477.37,468.37 477.90,464.79 478.43,462.98 478.97,463.07 479.50,465.08 480.03,468.81 480.56,473.96 481.09,480.10 481.62,486.77 482.15,493.53 482.68,499.99 483.21,505.87 483.74,510.98 484.27,515.23 484.80,518.63 485.33,521.25 485.86,523.19 486.39,524.58 486.92,525.54 487.46,526.18 487.99,526.59 488.52,526.85 489.05,527.00 489.58,527.09 490.11,527.14 490.64,527.17 491.17,527.19 491.70,527.19 492.23,527.20 492.76,527.20 493.29,527.20 493.82,527.20 494.35,527.20 494.88,527.20 495.41,527.20 495.94,527.20 496.48,527.19 497.01,527.19 497.54,527.18 498.07,527.15 498.60,527.11 499.13,527.04 499.66,526.93 500.19,526.75 500.72,526.49 501.25,526.11 501.78,525.59 502.31,524.92 502.84,524.10 503.37,523.15 503.90,522.11 504.43,521.06 504.96,520.08 505.50,519.27 506.03,518.71 506.56,518.47 507.09,518.57 507.62,519.01 508.15,519.73 508.68,520.65 509.21,521.69 509.74,522.74 510.27,523.73 510.80,524.61 511.33,525.34 511.86,525.92 512.39,526.35 512.92,526.66 513.45,526.87 513.99,527.00 514.52,527.08 515.05,527.12 515.58,527.14 516.11,527.13 516.64,527.09 517.17,527.02 517.70,526.90 518.23,526.72 518.76,526.46 519.29,526.09 519.82,525.61 520.35,525.01 520.88,524.29 521.41,523.50 521.94,522.67 522.47,521.87 523.01,521.18 523.54,520.67 524.07,520.39 524.60,520.37 525.13,520.63 525.66,521.12 526.19,521.79 526.72,522.58 527.25,523.41 527.78,524.21 528.31,524.93 528.84,525.55 529.37,526.04 529.90,526.41 530.43,526.69 530.96,526.87 531.49,527.00 532.03,527.07 532.56,527.12 533.09,527.15 533.62,527.16 534.15,527.17 534.68,527.17 535.21,527.17 535.74,527.16 536.27,527.15 536.80,527.14 537.33,527.12 537.86,527.08 538.39,527.01 538.92,526.90 539.45,526.72 539.98,526.45 540.52,526.06 541.05,525.50 541.58,524.73 542.11,523.72 542.64,522.45 543.17,520.91 543.70,519.14 544.23,517.21 544.76,515.20 545.29,513.25 545.82,511.50 546.35,510.09 546.88,509.15 547.41,508.76 547.94,508.93 548.47,509.65 549.00,510.82 549.54,512.33 550.07,514.03 550.60,515.76 551.13,517.41 551.66,518.87 552.19,520.07 552.72,521.00 553.25,521.65 553.78,522.07 554.31,522.27 554.84,522.31 555.37,522.19 555.90,521.91 556.43,521.44 556.96,520.70 557.49,519.60 558.02,518.01 558.56,515.83 559.09,512.98 559.62,509.44 560.15,505.29 560.68,500.75 561.21,496.12 561.74,491.81 562.27,488.25 562.80,485.85 563.33,484.91 563.86,485.55 564.39,487.73 564.92,491.20 565.45,495.61 565.98,500.51 566.51,505.48 567.05,510.16 567.58,514.28 568.11,517.71 568.64,520.40 569.17,522.40 569.70,523.80 570.23,524.71 570.76,525.25 571.29,525.49 571.82,525.49 572.35,525.29 572.88,524.89 573.41,524.30 573.94,523.50 574.47,522.51 575.00,521.36 575.53,520.10 576.07,518.80 576.60,517.58 577.13,516.55 577.66,515.81 578.19,515.45 578.72,515.49 579.25,515.94 579.78,516.72 580.31,517.75 580.84,518.91 581.37,520.08 581.90,521.14 582.43,522.01 582.96,522.62 583.49,522.94 584.02,522.95 584.55,522.65 585.09,522.07 585.62,521.26 586.15,520.28 586.68,519.22 587.21,518.18 587.74,517.27 588.27,516.58 588.80,516.20 589.33,516.17 589.86,516.49 590.39,517.12 590.92,517.98 591.45,518.99 591.98,520.05 592.51,521.07 593.04,521.99 593.58,522.76 594.11,523.37 594.64,523.83 595.17,524.16 595.70,524.37 596.23,524.49 596.76,524.55 597.29,524.55 597.82,524.49 598.35,524.38 598.88,524.20 599.41,523.94 599.94,523.57 600.47,523.07 601.00,522.45 601.53,521.69 602.06,520.82 602.60,519.89 603.13,518.97 603.66,518.12 604.19,517.44 604.72,517.00 605.25,516.84 605.78,516.99 606.31,517.43 606.84,518.10 607.37,518.94 607.90,519.85 608.43,520.77 608.96,521.62 609.49,522.36 610.02,522.95 610.55,523.40 611.08,523.69 611.62,523.84 612.15,523.85 612.68,523.73 613.21,523.47 613.74,523.07 614.27,522.55 614.80,521.92 615.33,521.21 615.86,520.47 616.39,519.77 616.92,519.16 617.45,518.72 617.98,518.50 618.51,518.52 619.04,518.80 619.57,519.28 620.11,519.94 620.64,520.68 621.17,521.45 621.70,522.18 622.23,522.82 622.76,523.31 623.29,523.65 623.82,523.81 624.35,523.80 624.88,523.62 625.41,523.28 625.94,522.82 626.47,522.27 627.00,521.67 627.53,521.09 628.06,520.59 628.59,520.22 629.13,520.03 629.66,520.03 630.19,520.22 630.72,520.56 631.25,521.01 631.78,521.48 632.31,521.92 632.84,522.26 633.37,522.47 633.90,522.53 634.43,522.47 634.96,522.31 635.49,522.11 636.02,521.94 636.55,521.84 637.08,521.85 637.61,522.00 638.15,522.29 638.68,522.69 639.21,523.17 639.74,523.69 640.27,524.21 640.80,524.69 641.33,525.11 641.86,525.46 642.39,525.73 642.92,525.92 643.45,526.02 643.98,526.03 644.51,525.94 645.04,525.70 645.57,525.26 646.10,524.57 646.63,523.54 647.17,522.10 647.70,520.20 648.23,517.82 648.76,515.00 649.29,511.87 649.82,508.61 650.35,505.47 650.88,502.74 651.41,500.67 651.94,499.47 652.47,499.21 653.00,499.85 653.53,501.22 654.06,503.04 654.59,504.97 655.12,506.70 655.66,507.98 656.19,508.68 656.72,508.77 657.25,508.40 657.78,507.76 658.31,507.13" fill="none" stroke="#40b040" stroke-width="0.95" stroke-linejoin="round"/><polyline points="394.60,527.20 395.13,527.20 395.66,527.20 396.19,527.20 396.72,527.20 397.25,527.20 397.78,527.20 398.31,527.20 398.84,527.20 399.38,527.20 399.91,527.20 400.44,527.20 400.97,527.20 401.50,527.20 402.03,527.20 402.56,527.20 403.09,527.20 403.62,527.20 404.15,527.20 404.68,527.20 405.21,527.20 405.74,527.20 406.27,527.20 406.80,527.20 407.33,527.20 407.87,527.20 408.40,527.20 408.93,527.20 409.46,527.20 409.99,527.20 410.52,527.20 411.05,527.20 411.58,527.20 412.11,527.20 412.64,527.20 413.17,527.20 413.70,527.20 414.23,527.20 414.76,527.20 415.29,527.20 415.82,527.20 416.35,527.20 416.89,527.20 417.42,527.20 417.95,527.20 418.48,527.20 419.01,527.20 419.54,527.20 420.07,527.20 420.60,527.20 421.13,527.20 421.66,527.20 422.19,527.20 422.72,527.20 423.25,527.20 423.78,527.20 424.31,527.20 424.84,527.20 425.37,527.20 425.91,527.20 426.44,527.20 426.97,527.20 427.50,527.20 428.03,527.20 428.56,527.20 429.09,527.20 429.62,527.20 430.15,527.20 430.68,527.20 431.21,527.20 431.74,527.20 432.27,527.20 432.80,527.20 433.33,527.20 433.86,527.20 434.40,527.20 434.93,527.20 435.46,527.20 435.99,527.20 436.52,527.20 437.05,527.20 437.58,527.20 438.11,527.20 438.64,527.20 439.17,527.20 439.70,527.20 440.23,527.20 440.76,527.20 441.29,527.20 441.82,527.20 442.35,527.20 442.88,527.20 443.42,527.20 443.95,527.20 444.48,527.20 445.01,527.20 445.54,527.20 446.07,527.20 446.60,527.20 447.13,527.20 447.66,527.20 448.19,527.20 448.72,527.20 449.25,527.20 449.78,527.20 450.31,527.20 450.84,527.20 451.37,527.20 451.90,527.20 452.44,527.20 452.97,527.20 453.50,527.20 454.03,527.20 454.56,527.20 455.09,527.20 455.62,527.20 456.15,527.20 456.68,527.20 457.21,527.20 457.74,527.20 458.27,527.20 458.80,527.20 459.33,527.20 459.86,527.20 460.39,527.20 460.93,527.20 461.46,527.20 461.99,527.20 462.52,527.20 463.05,527.20 463.58,527.20 464.11,527.20 464.64,527.20 465.17,527.19 465.70,527.19 466.23,527.18 466.76,527.15 467.29,527.11 467.82,527.04 468.35,526.91 468.88,526.69 469.41,526.33 469.95,525.77 470.48,524.93 471.01,523.68 471.54,521.93 472.07,519.53 472.60,516.37 473.13,512.36 473.66,507.48 474.19,501.78 474.72,495.40 475.25,488.61 475.78,481.77 476.31,475.30 476.84,469.68 477.37,465.35 477.90,462.67 478.43,461.89 478.97,463.06 479.50,466.09 480.03,470.71 480.56,476.54 481.09,483.12 481.62,489.99 482.15,496.72 482.68,502.98 483.21,508.53 483.74,513.23 484.27,517.06 484.80,520.06 485.33,522.33 485.86,523.97 486.39,525.12 486.92,525.90 487.46,526.42 487.99,526.74 488.52,526.94 489.05,527.05 489.58,527.12 490.11,527.16 490.64,527.18 491.17,527.19 491.70,527.20 492.23,527.20 492.76,527.20 493.29,527.20 493.82,527.20 494.35,527.20 494.88,527.20 495.41,527.20 495.94,527.19 496.48,527.18 497.01,527.17 497.54,527.14 498.07,527.09 498.60,527.01 499.13,526.87 499.66,526.66 500.19,526.35 500.72,525.92 501.25,525.34 501.78,524.61 502.31,523.73 502.84,522.74 503.37,521.69 503.90,520.65 504.43,519.73 504.96,519.01 505.50,518.57 506.03,518.47 506.56,518.71 507.09,519.27 507.62,520.08 508.15,521.06 508.68,522.11 509.21,523.15 509.74,524.10 510.27,524.92 510.80,525.59 511.33,526.11 511.86,526.49 512.39,526.75 512.92,526.93 513.45,527.03 513.99,527.09 514.52,527.12 515.05,527.11 515.58,527.07 516.11,526.98 516.64,526.85 517.17,526.64 517.70,526.34 518.23,525.94 518.76,525.41 519.29,524.77 519.82,524.02 520.35,523.21 520.88,522.38 521.41,521.62 521.94,520.98 522.47,520.54 523.01,520.35 523.54,520.43 524.07,520.78 524.60,521.34 525.13,522.06 525.66,522.87 526.19,523.70 526.72,524.47 527.25,525.16 527.78,525.73 528.31,526.18 528.84,526.52 529.37,526.76 529.90,526.93 530.43,527.03 530.96,527.10 531.49,527.13 532.03,527.16 532.56,527.17 533.09,527.17 533.62,527.17 534.15,527.17 534.68,527.17 535.21,527.16 535.74,527.15 536.27,527.14 536.80,527.11 537.33,527.06 537.86,526.98 538.39,526.85 538.92,526.65 539.45,526.34 539.98,525.90 540.52,525.28 541.05,524.44 541.58,523.35 542.11,522.00 542.64,520.39 543.17,518.57 543.70,516.62 544.23,514.64 544.76,512.76 545.29,511.14 545.82,509.90 546.35,509.15 546.88,508.95 547.41,509.31 547.94,510.18 548.47,511.45 549.00,512.99 549.54,514.65 550.07,516.28 550.60,517.77 551.13,519.01 551.66,519.96 552.19,520.61 552.72,520.98 553.25,521.11 553.78,521.05 554.31,520.86 554.84,520.56 555.37,520.18 555.90,519.70 556.43,519.09 556.96,518.26 557.49,517.10 558.02,515.51 558.56,513.37 559.09,510.63 559.62,507.30 560.15,503.48 560.68,499.40 561.21,495.39 561.74,491.81 562.27,489.09 562.80,487.54 563.33,487.39 563.86,488.69 564.39,491.33 564.92,495.03 565.45,499.42 565.98,504.10 566.51,508.68 567.05,512.87 567.58,516.47 568.11,519.39 568.64,521.63 569.17,523.26 569.70,524.36 570.23,525.05 570.76,525.42 571.29,525.52 571.82,525.41 572.35,525.10 572.88,524.60 573.41,523.90 573.94,523.00 574.47,521.93 575.00,520.72 575.53,519.45 576.07,518.21 576.60,517.11 577.13,516.26 577.66,515.74 578.19,515.62 578.72,515.91 579.25,516.55 579.78,517.46 580.31,518.55 580.84,519.67 581.37,520.72 581.90,521.59 582.43,522.21 582.96,522.52 583.49,522.51 584.02,522.18 584.55,521.57 585.09,520.73 585.62,519.74 586.15,518.71 586.68,517.73 587.21,516.93 587.74,516.39 588.27,516.19 588.80,516.33 589.33,516.82 589.86,517.57 590.39,518.53 590.92,519.57 591.45,520.62 591.98,521.59 592.51,522.44 593.04,523.13 593.58,523.66 594.11,524.05 594.64,524.31 595.17,524.46 595.70,524.53 596.23,524.54 596.76,524.47 597.29,524.34 597.82,524.13 598.35,523.81 598.88,523.38 599.41,522.82 599.94,522.12 600.47,521.30 601.00,520.39 601.53,519.45 602.06,518.56 602.60,517.78 603.13,517.21 603.66,516.90 604.19,516.89 604.72,517.19 605.25,517.74 605.78,518.51 606.31,519.39 606.84,520.31 607.37,521.21 607.90,522.01 608.43,522.69 608.96,523.23 609.49,523.64 610.02,523.93 610.55,524.10 611.08,524.17 611.62,524.16 612.15,524.05 612.68,523.85 613.21,523.54 613.74,523.11 614.27,522.57 614.80,521.93 615.33,521.22 615.86,520.48 616.39,519.77 616.92,519.16 617.45,518.72 617.98,518.50 618.51,518.52 619.04,518.80 619.57,519.28 620.11,519.94 620.64,520.68 621.17,521.45 621.70,522.18 622.23,522.82 622.76,523.31 623.29,523.65 623.82,523.81 624.35,523.80 624.88,523.62 625.41,523.28 625.94,522.82 626.47,522.27 627.00,521.67 627.53,521.09 628.06,520.59 628.59,520.22 629.13,520.03 629.66,520.03 630.19,520.22 630.72,520.56 631.25,521.01 631.78,521.48 632.31,521.92 632.84,522.26 633.37,522.47 633.90,522.53 634.43,522.47 634.96,522.31 635.49,522.11 636.02,521.94 636.55,521.84 637.08,521.85 637.61,522.00 638.15,522.29 638.68,522.69 639.21,523.17 639.74,523.69 640.27,524.21 640.80,524.69 641.33,525.10 641.86,525.44 642.39,525.68 642.92,525.82 643.45,525.85 643.98,525.74 644.51,525.45 645.04,524.94 645.57,524.13 646.10,522.95 646.63,521.35 647.17,519.28 647.70,516.77 648.23,513.88 648.76,510.76 649.29,507.65 649.82,504.80 650.35,502.48 650.88,500.94 651.41,500.32 651.94,500.64 652.47,501.81 653.00,503.61 653.53,505.74 654.06,507.86 654.59,509.66 655.12,510.90 655.66,511.47 656.19,511.38 656.72,510.74 657.25,509.78 657.78,508.76 658.31,507.96" fill="none" stroke="#ff00ff" stroke-width="0.95" stroke-linejoin="round"/><polyline points="394.60,527.20 395.13,527.20 395.66,527.20 396.19,527.20 396.72,527.20 397.25,527.20 397.78,527.20 398.31,527.20 398.84,527.20 399.38,527.20 399.91,527.20 400.44,527.20 400.97,527.20 401.50,527.20 402.03,527.20 402.56,527.20 403.09,527.20 403.62,527.20 404.15,527.20 404.68,527.20 405.21,527.20 405.74,527.20 406.27,527.20 406.80,527.20 407.33,527.20 407.87,527.20 408.40,527.20 408.93,527.20 409.46,527.20 409.99,527.20 410.52,527.20 411.05,527.20 411.58,527.20 412.11,527.20 412.64,527.20 413.17,527.20 413.70,527.20 414.23,527.20 414.76,527.20 415.29,527.20 415.82,527.20 416.35,527.20 416.89,527.20 417.42,527.20 417.95,527.20 418.48,527.20 419.01,527.20 419.54,527.20 420.07,527.20 420.60,527.20 421.13,527.20 421.66,527.20 422.19,527.20 422.72,527.20 423.25,527.20 423.78,527.20 424.31,527.20 424.84,527.20 425.37,527.20 425.91,527.20 426.44,527.20 426.97,527.20 427.50,527.20 428.03,527.20 428.56,527.20 429.09,527.20 429.62,527.20 430.15,527.20 430.68,527.20 431.21,527.20 431.74,527.20 432.27,527.20 432.80,527.20 433.33,527.20 433.86,527.20 434.40,527.20 434.93,527.20 435.46,527.20 435.99,527.20 436.52,527.20 437.05,527.20 437.58,527.20 438.11,527.20 438.64,527.20 439.17,527.20 439.70,527.20 440.23,527.20 440.76,527.20 441.29,527.20 441.82,527.20 442.35,527.20 442.88,527.20 443.42,527.20 443.95,527.20 444.48,527.20 445.01,527.20 445.54,527.20 446.07,527.20 446.60,527.20 447.13,527.20 447.66,527.20 448.19,527.20 448.72,527.20 449.25,527.20 449.78,527.20 450.31,527.20 450.84,527.20 451.37,527.20 451.90,527.20 452.44,527.20 452.97,527.20 453.50,527.20 454.03,527.20 454.56,527.20 455.09,527.20 455.62,527.20 456.15,527.20 456.68,527.20 457.21,527.20 457.74,527.20 458.27,527.20 458.80,527.20 459.33,527.20 459.86,527.20 460.39,527.20 460.93,527.20 461.46,527.20 461.99,527.20 462.52,527.20 463.05,527.20 463.58,527.20 464.11,527.20 464.64,527.20 465.17,527.19 465.70,527.18 466.23,527.17 466.76,527.13 467.29,527.07 467.82,526.97 468.35,526.79 468.88,526.50 469.41,526.04 469.95,525.32 470.48,524.26 471.01,522.73 471.54,520.60 472.07,517.76 472.60,514.09 473.13,509.55 473.66,504.13 474.19,497.94 474.72,491.21 475.25,484.24 475.78,477.46 476.31,471.31 476.84,466.28 477.37,462.78 477.90,461.10 478.43,461.40 478.97,463.65 479.50,467.65 480.03,473.06 480.56,479.45 481.09,486.33 481.62,493.27 482.15,499.87 482.68,505.84 483.21,511.00 483.74,515.29 484.27,518.70 484.80,521.31 485.33,523.24 485.86,524.62 486.39,525.57 486.92,526.20 487.46,526.60 487.99,526.86 488.52,527.01 489.05,527.10 489.58,527.14 490.11,527.17 490.64,527.19 491.17,527.19 491.70,527.20 492.23,527.20 492.76,527.20 493.29,527.20 493.82,527.20 494.35,527.20 494.88,527.20 495.41,527.19 495.94,527.18 496.48,527.16 497.01,527.12 497.54,527.06 498.07,526.96 498.60,526.80 499.13,526.55 499.66,526.20 500.19,525.71 500.72,525.07 501.25,524.28 501.78,523.35 502.31,522.32 502.84,521.27 503.37,520.26 503.90,519.41 504.43,518.80 504.96,518.49 505.50,518.52 506.03,518.90 506.56,519.57 507.09,520.46 507.62,521.48 508.15,522.53 508.68,523.54 509.21,524.45 509.74,525.21 510.27,525.82 510.80,526.27 511.33,526.60 511.86,526.83 512.39,526.97 512.92,527.05 513.45,527.09 513.99,527.08 514.52,527.03 515.05,526.94 515.58,526.78 516.11,526.55 516.64,526.21 517.17,525.77 517.70,525.20 518.23,524.52 518.76,523.74 519.29,522.92 519.82,522.11 520.35,521.38 520.88,520.80 521.41,520.45 521.94,520.35 522.47,520.53 523.01,520.95 523.54,521.58 524.07,522.34 524.60,523.16 525.13,523.98 525.66,524.73 526.19,525.38 526.72,525.91 527.25,526.32 527.78,526.62 528.31,526.83 528.84,526.97 529.37,527.06 529.90,527.12 530.43,527.15 530.96,527.16 531.49,527.17 532.03,527.18 532.56,527.18 533.09,527.18 533.62,527.17 534.15,527.17 534.68,527.16 535.21,527.15 535.74,527.13 536.27,527.10 536.80,527.04 537.33,526.95 537.86,526.80 538.39,526.57 538.92,526.22 539.45,525.72 539.98,525.04 540.52,524.12 541.05,522.95 541.58,521.53 542.11,519.86 542.64,518.00 543.17,516.05 543.70,514.11 544.23,512.33 544.76,510.85 545.29,509.78 545.82,509.24 546.35,509.25 546.88,509.80 547.41,510.82 547.94,512.20 548.47,513.79 549.00,515.43 549.54,516.98 550.07,518.32 550.60,519.39 551.13,520.13 551.66,520.54 552.19,520.66 552.72,520.52 553.25,520.20 553.78,519.74 554.31,519.22 554.84,518.65 555.37,518.06 555.90,517.42 556.43,516.69 556.96,515.78 557.49,514.60 558.02,513.02 558.56,510.97 559.09,508.39 559.62,505.32 560.15,501.90 560.68,498.35 561.21,494.99 561.74,492.18 562.27,490.27 562.80,489.53 563.33,490.09 563.86,491.95 564.39,494.93 564.92,498.74 565.45,503.02 565.98,507.40 566.51,511.55 567.05,515.25 567.58,518.35 568.11,520.81 568.64,522.65 569.17,523.95 569.70,524.80 570.23,525.29 570.76,525.51 571.29,525.49 571.82,525.28 572.35,524.86 572.88,524.26 573.41,523.45 573.94,522.46 574.47,521.32 575.00,520.09 575.53,518.84 576.07,517.69 576.60,516.75 577.13,516.10 577.66,515.82 578.19,515.94 578.72,516.42 579.25,517.21 579.78,518.20 580.31,519.26 580.84,520.28 581.37,521.14 581.90,521.74 582.43,522.05 582.96,522.02 583.49,521.66 584.02,521.02 584.55,520.17 585.09,519.19 585.62,518.21 586.15,517.33 586.68,516.66 587.21,516.29 587.74,516.26 588.27,516.59 588.80,517.22 589.33,518.08 589.86,519.09 590.39,520.15 590.92,521.16 591.45,522.08 591.98,522.85 592.51,523.45 593.04,523.91 593.58,524.22 594.11,524.41 594.64,524.51 595.17,524.52 595.70,524.44 596.23,524.28 596.76,524.03 597.29,523.66 597.82,523.16 598.35,522.53 598.88,521.77 599.41,520.90 599.94,519.96 600.47,519.03 601.00,518.18 601.53,517.49 602.06,517.04 602.60,516.88 603.13,517.02 603.66,517.45 604.19,518.12 604.72,518.95 605.25,519.86 605.78,520.77 606.31,521.62 606.84,522.37 607.37,522.98 607.90,523.46 608.43,523.82 608.96,524.06 609.49,524.23 610.02,524.32 610.55,524.35 611.08,524.33 611.62,524.25 612.15,524.10 612.68,523.88 613.21,523.55 613.74,523.12 614.27,522.58 614.80,521.93 615.33,521.22 615.86,520.48 616.39,519.77 616.92,519.16 617.45,518.72 617.98,518.50 618.51,518.52 619.04,518.80 619.57,519.28 620.11,519.94 620.64,520.68 621.17,521.45 621.70,522.18 622.23,522.82 622.76,523.31 623.29,523.65 623.82,523.81 624.35,523.80 624.88,523.62 625.41,523.28 625.94,522.82 626.47,522.27 627.00,521.67 627.53,521.09 628.06,520.59 628.59,520.22 629.13,520.03 629.66,520.03 630.19,520.22 630.72,520.56 631.25,521.01 631.78,521.48 632.31,521.92 632.84,522.26 633.37,522.47 633.90,522.53 634.43,522.47 634.96,522.31 635.49,522.11 636.02,521.94 636.55,521.84 637.08,521.85 637.61,522.00 638.15,522.29 638.68,522.69 639.21,523.17 639.74,523.69 640.27,524.20 640.80,524.67 641.33,525.06 641.86,525.37 642.39,525.55 642.92,525.60 643.45,525.48 643.98,525.15 644.51,524.55 645.04,523.62 645.57,522.30 646.10,520.54 646.63,518.33 647.17,515.71 647.70,512.79 648.23,509.76 648.76,506.86 649.29,504.35 649.82,502.49 650.35,501.47 650.88,501.40 651.41,502.24 651.94,503.85 652.47,505.98 653.00,508.31 653.53,510.52 654.06,512.33 654.59,513.51 655.12,513.97 655.66,513.73 656.19,512.90 656.72,511.69 657.25,510.37 657.78,509.21 658.31,508.45" fill="none" stroke="#2a2aff" stroke-width="0.95" stroke-linejoin="round"/><polyline points="394.60,527.20 395.13,527.20 395.66,527.20 396.19,527.20 396.72,527.20 397.25,527.20 397.78,527.20 398.31,527.20 398.84,527.20 399.38,527.20 399.91,527.20 400.44,527.20 400.97,527.20 401.50,527.20 402.03,527.20 402.56,527.20 403.09,527.20 403.62,527.20 404.15,527.20 404.68,527.20 405.21,527.20 405.74,527.20 406.27,527.20 406.80,527.20 407.33,527.20 407.87,527.20 408.40,527.20 408.93,527.20 409.46,527.20 409.99,527.20 410.52,527.20 411.05,527.20 411.58,527.20 412.11,527.20 412.64,527.20 413.17,527.20 413.70,527.20 414.23,527.20 414.76,527.20 415.29,527.20 415.82,527.20 416.35,527.20 416.89,527.20 417.42,527.20 417.95,527.20 418.48,527.20 419.01,527.20 419.54,527.20 420.07,527.20 420.60,527.20 421.13,527.20 421.66,527.20 422.19,527.20 422.72,527.20 423.25,527.20 423.78,527.20 424.31,527.20 424.84,527.20 425.37,527.20 425.91,527.20 426.44,527.20 426.97,527.20 427.50,527.20 428.03,527.20 428.56,527.20 429.09,527.20 429.62,527.20 430.15,527.20 430.68,527.20 431.21,527.20 431.74,527.20 432.27,527.20 432.80,527.20 433.33,527.20 433.86,527.20 434.40,527.20 434.93,527.20 435.46,527.20 435.99,527.20 436.52,527.20 437.05,527.20 437.58,527.20 438.11,527.20 438.64,527.20 439.17,527.20 439.70,527.20 440.23,527.20 440.76,527.20 441.29,527.20 441.82,527.20 442.35,527.20 442.88,527.20 443.42,527.20 443.95,527.20 444.48,527.20 445.01,527.20 445.54,527.20 446.07,527.20 446.60,527.20 447.13,527.20 447.66,527.20 448.19,527.20 448.72,527.20 449.25,527.20 449.78,527.20 450.31,527.20 450.84,527.20 451.37,527.20 451.90,527.20 452.44,527.20 452.97,527.20 453.50,527.20 454.03,527.20 454.56,527.20 455.09,527.20 455.62,527.20 456.15,527.20 456.68,527.20 457.21,527.20 457.74,527.20 458.27,527.20 458.80,527.20 459.33,527.20 459.86,527.20 460.39,527.20 460.93,527.20 461.46,527.20 461.99,527.20 462.52,527.20 463.05,527.20 463.58,527.20 464.11,527.20 464.64,527.20 465.17,527.20 465.70,527.20 466.23,527.19 466.76,527.18 467.29,527.16 467.82,527.12 468.35,527.05 468.88,526.93 469.41,526.73 469.95,526.40 470.48,525.88 471.01,525.09 471.54,523.92 472.07,522.27 472.60,520.00 473.13,517.01 473.66,513.20 474.19,508.54 474.72,503.07 475.25,496.92 475.78,490.35 476.31,483.68 476.84,477.33 477.37,471.76 477.90,467.41 478.43,464.63 478.97,463.68 479.50,464.63 480.03,467.41 480.56,471.76 481.09,477.33 481.62,483.68 482.15,490.35 482.68,496.92 483.21,503.07 483.74,508.54 484.27,513.20 484.80,517.01 485.33,520.00 485.86,522.27 486.39,523.92 486.92,525.09 487.46,525.88 487.99,526.40 488.52,526.73 489.05,526.93 489.58,527.05 490.11,527.12 490.64,527.16 491.17,527.18 491.70,527.19 492.23,527.19 492.76,527.20 493.29,527.20 493.82,527.20 494.35,527.20 494.88,527.20 495.41,527.20 495.94,527.20 496.48,527.20 497.01,527.20 497.54,527.19 498.07,527.18 498.60,527.16 499.13,527.13 499.66,527.08 500.19,526.98 500.72,526.83 501.25,526.61 501.78,526.28 502.31,525.82 502.84,525.21 503.37,524.45 503.90,523.54 504.43,522.53 504.96,521.48 505.50,520.46 506.03,519.57 506.56,518.90 507.09,518.52 507.62,518.49 508.15,518.80 508.68,519.41 509.21,520.26 509.74,521.27 510.27,522.32 510.80,523.35 511.33,524.28 511.86,525.07 512.39,525.71 512.92,526.19 513.45,526.55 513.99,526.79 514.52,526.96 515.05,527.06 515.58,527.12 516.11,527.15 516.64,527.15 517.17,527.14 517.70,527.11 518.23,527.05 518.76,526.95 519.29,526.79 519.82,526.56 520.35,526.23 520.88,525.79 521.41,525.23 521.94,524.55 522.47,523.78 523.01,522.96 523.54,522.14 524.07,521.41 524.60,520.82 525.13,520.45 525.66,520.35 526.19,520.51 526.72,520.92 527.25,521.54 527.78,522.30 528.31,523.12 528.84,523.93 529.37,524.69 529.90,525.34 530.43,525.88 530.96,526.29 531.49,526.60 532.03,526.81 532.56,526.96 533.09,527.05 533.62,527.10 534.15,527.14 534.68,527.15 535.21,527.16 535.74,527.16 536.27,527.16 536.80,527.15 537.33,527.14 537.86,527.12 538.39,527.09 538.92,527.03 539.45,526.94 539.98,526.78 540.52,526.55 541.05,526.20 541.58,525.69 542.11,525.00 542.64,524.06 543.17,522.87 543.70,521.42 544.23,519.71 544.76,517.80 545.29,515.79 545.82,513.78 546.35,511.94 546.88,510.39 547.41,509.28 547.94,508.70 548.47,508.70 549.00,509.28 549.54,510.37 550.07,511.86 550.60,513.61 551.13,515.48 551.66,517.32 552.19,519.02 552.72,520.50 553.25,521.73 553.78,522.68 554.31,523.36 554.84,523.80 555.37,524.01 555.90,523.98 556.43,523.69 556.96,523.08 557.49,522.06 558.02,520.51 558.56,518.33 559.09,515.40 559.62,511.71 560.15,507.30 560.68,502.36 561.21,497.18 561.74,492.17 562.27,487.79 562.80,484.52 563.33,482.71 563.86,482.59 564.39,484.18 564.92,487.30 565.45,491.61 565.98,496.66 566.51,501.97 567.05,507.11 567.58,511.77 568.11,515.74 568.64,518.92 569.17,521.34 569.70,523.09 570.23,524.27 570.76,525.00 571.29,525.39 571.82,525.51 572.35,525.42 572.88,525.13 573.41,524.64 573.94,523.95 574.47,523.06 575.00,521.98 575.53,520.75 576.07,519.44 576.60,518.14 577.13,516.97 577.66,516.03 578.19,515.42 578.72,515.22 579.25,515.43 579.78,516.04 580.31,516.96 580.84,518.08 581.37,519.30 581.90,520.48 582.43,521.54 582.96,522.39 583.49,522.99 584.02,523.30 584.55,523.33 585.09,523.06 585.62,522.53 586.15,521.76 586.68,520.81 587.21,519.75 587.74,518.66 588.27,517.66 588.80,516.84 589.33,516.30 589.86,516.09 590.39,516.24 590.92,516.72 591.45,517.48 591.98,518.43 592.51,519.48 593.04,520.53 593.58,521.50 594.11,522.35 594.64,523.04 595.17,523.58 595.70,523.97 596.23,524.24 596.76,524.41 597.29,524.51 597.82,524.55 598.35,524.55 598.88,524.50 599.41,524.41 599.94,524.26 600.47,524.04 601.00,523.73 601.53,523.30 602.06,522.74 602.60,522.05 603.13,521.24 603.66,520.34 604.19,519.41 604.72,518.51 605.25,517.74 605.78,517.18 606.31,516.88 606.84,516.88 607.37,517.17 607.90,517.74 608.43,518.50 608.96,519.39 609.49,520.30 610.02,521.18 610.55,521.95 611.08,522.57 611.62,523.01 612.15,523.27 612.68,523.34 613.21,523.22 613.74,522.92 614.27,522.46 614.80,521.87 615.33,521.19 615.86,520.46 616.39,519.76 616.92,519.16 617.45,518.72 617.98,518.50 618.51,518.52 619.04,518.80 619.57,519.28 620.11,519.94 620.64,520.68 621.17,521.45 621.70,522.18 622.23,522.82 622.76,523.31 623.29,523.65 623.82,523.81 624.35,523.80 624.88,523.62 625.41,523.28 625.94,522.82 626.47,522.27 627.00,521.67 627.53,521.09 628.06,520.59 628.59,520.22 629.13,520.03 629.66,520.03 630.19,520.22 630.72,520.56 631.25,521.01 631.78,521.48 632.31,521.92 632.84,522.26 633.37,522.47 633.90,522.53 634.43,522.47 634.96,522.31 635.49,522.11 636.02,521.94 636.55,521.84 637.08,521.85 637.61,522.00 638.15,522.29 638.68,522.69 639.21,523.17 639.74,523.69 640.27,524.21 640.80,524.69 641.33,525.12 641.86,525.47 642.39,525.75 642.92,525.96 643.45,526.10 643.98,526.17 644.51,526.17 645.04,526.09 645.57,525.90 646.10,525.54 646.63,524.95 647.17,524.06 647.70,522.79 648.23,521.07 648.76,518.85 649.29,516.15 649.82,513.05 650.35,509.70 650.88,506.34 651.41,503.23 651.94,500.67 652.47,498.87 653.00,497.98 653.53,498.02 654.06,498.85 654.59,500.24 655.12,501.90 655.66,503.49 656.19,504.77 656.72,505.59 657.25,505.92 657.78,505.88 658.31,505.66" fill="none" stroke="#9a4cff" stroke-width="0.95" stroke-linejoin="round"/><polyline points="394.60,527.20 395.13,527.20 395.66,527.20 396.19,527.20 396.72,527.20 397.25,527.20 397.78,527.20 398.31,527.20 398.84,527.20 399.38,527.20 399.91,527.20 400.44,527.20 400.97,527.20 401.50,527.20 402.03,527.20 402.56,527.20 403.09,527.20 403.62,527.20 404.15,527.20 404.68,527.20 405.21,527.20 405.74,527.20 406.27,527.20 406.80,527.20 407.33,527.20 407.87,527.20 408.40,527.20 408.93,527.20 409.46,527.20 409.99,527.20 410.52,527.20 411.05,527.20 411.58,527.20 412.11,527.20 412.64,527.20 413.17,527.20 413.70,527.20 414.23,527.20 414.76,527.20 415.29,527.20 415.82,527.20 416.35,527.20 416.89,527.20 417.42,527.20 417.95,527.20 418.48,527.20 419.01,527.20 419.54,527.20 420.07,527.20 420.60,527.20 421.13,527.20 421.66,527.20 422.19,527.20 422.72,527.20 423.25,527.20 423.78,527.20 424.31,527.20 424.84,527.20 425.37,527.20 425.91,527.20 426.44,527.20 426.97,527.20 427.50,527.20 428.03,527.20 428.56,527.20 429.09,527.20 429.62,527.20 430.15,527.20 430.68,527.20 431.21,527.20 431.74,527.20 432.27,527.20 432.80,527.20 433.33,527.20 433.86,527.20 434.40,527.20 434.93,527.20 435.46,527.20 435.99,527.20 436.52,527.20 437.05,527.20 437.58,527.20 438.11,527.20 438.64,527.20 439.17,527.20 439.70,527.20 440.23,527.20 440.76,527.20 441.29,527.20 441.82,527.20 442.35,527.20 442.88,527.20 443.42,527.20 443.95,527.20 444.48,527.20 445.01,527.20 445.54,527.20 446.07,527.20 446.60,527.20 447.13,527.20 447.66,527.20 448.19,527.20 448.72,527.20 449.25,527.20 449.78,527.20 450.31,527.20 450.84,527.20 451.37,527.20 451.90,527.20 452.44,527.20 452.97,527.20 453.50,527.20 454.03,527.20 454.56,527.20 455.09,527.20 455.62,527.20 456.15,527.20 456.68,527.20 457.21,527.20 457.74,527.20 458.27,527.20 458.80,527.20 459.33,527.20 459.86,527.20 460.39,527.20 460.93,527.20 461.46,527.20 461.99,527.20 462.52,527.20 463.05,527.20 463.58,527.20 464.11,527.20 464.64,527.19 465.17,527.19 465.70,527.17 466.23,527.15 466.76,527.10 467.29,527.02 467.82,526.88 468.35,526.64 468.88,526.26 469.41,525.66 469.95,524.76 470.48,523.43 471.01,521.57 471.54,519.03 472.07,515.70 472.60,511.49 473.13,506.39 473.66,500.45 474.19,493.84 474.72,486.84 475.25,479.82 475.78,473.24 476.31,467.58 476.84,463.29 477.37,460.72 477.90,460.12 478.43,461.52 478.97,464.81 479.50,469.71 480.03,475.79 480.56,482.60 481.09,489.67 481.62,496.55 482.15,502.92 482.68,508.54 483.21,513.28 483.74,517.13 484.27,520.13 484.80,522.39 485.33,524.02 485.86,525.16 486.39,525.93 486.92,526.43 487.46,526.75 487.99,526.95 488.52,527.06 489.05,527.12 489.58,527.16 490.11,527.18 490.64,527.19 491.17,527.20 491.70,527.20 492.23,527.20 492.76,527.20 493.29,527.20 493.82,527.20 494.35,527.19 494.88,527.19 495.41,527.17 495.94,527.15 496.48,527.10 497.01,527.03 497.54,526.90 498.07,526.71 498.60,526.42 499.13,526.02 499.66,525.47 500.19,524.77 500.72,523.92 501.25,522.95 501.78,521.90 502.31,520.85 502.84,519.90 503.37,519.13 503.90,518.63 504.43,518.46 504.96,518.63 505.50,519.13 506.03,519.90 506.56,520.85 507.09,521.90 507.62,522.95 508.15,523.92 508.68,524.77 509.21,525.47 509.74,526.01 510.27,526.42 510.80,526.70 511.33,526.89 511.86,527.00 512.39,527.05 512.92,527.04 513.45,526.99 513.99,526.88 514.52,526.71 515.05,526.44 515.58,526.07 516.11,525.58 516.64,524.97 517.17,524.26 517.70,523.46 518.23,522.63 518.76,521.84 519.29,521.15 519.82,520.65 520.35,520.38 520.88,520.38 521.41,520.65 521.94,521.15 522.47,521.84 523.01,522.63 523.54,523.45 524.07,524.25 524.60,524.97 525.13,525.58 525.66,526.07 526.19,526.44 526.72,526.70 527.25,526.89 527.78,527.01 528.31,527.09 528.84,527.13 529.37,527.16 529.90,527.17 530.43,527.18 530.96,527.18 531.49,527.18 532.03,527.18 532.56,527.18 533.09,527.17 533.62,527.17 534.15,527.16 534.68,527.15 535.21,527.12 535.74,527.08 536.27,527.02 536.80,526.91 537.33,526.73 537.86,526.47 538.39,526.08 538.92,525.53 539.45,524.77 539.98,523.78 540.52,522.54 541.05,521.04 541.58,519.32 542.11,517.43 542.64,515.49 543.17,513.62 543.70,511.95 544.23,510.62 544.76,509.75 545.29,509.41 545.82,509.63 546.35,510.37 546.88,511.55 547.41,513.02 547.94,514.66 548.47,516.29 549.00,517.78 549.54,519.02 550.07,519.95 550.60,520.52 551.13,520.75 551.66,520.65 552.19,520.29 552.72,519.72 553.25,519.02 553.78,518.24 554.31,517.43 554.84,516.64 555.37,515.87 555.90,515.09 556.43,514.26 556.96,513.30 557.49,512.11 558.02,510.58 558.56,508.65 559.09,506.28 559.62,503.54 560.15,500.57 560.68,497.60 561.21,494.94 561.74,492.91 562.27,491.79 562.80,491.78 563.33,492.97 563.86,495.26 564.39,498.46 564.92,502.27 565.45,506.36 565.98,510.39 566.51,514.10 567.05,517.32 567.58,519.95 568.11,521.99 568.64,523.47 569.17,524.49 569.70,525.12 570.23,525.45 570.76,525.53 571.29,525.41 571.82,525.08 572.35,524.57 572.88,523.86 573.41,522.96 573.94,521.89 574.47,520.71 575.00,519.48 575.53,518.30 576.07,517.27 576.60,516.51 577.13,516.08 577.66,516.03 578.19,516.36 578.72,517.00 579.25,517.88 579.78,518.86 580.31,519.82 580.84,520.65 581.37,521.23 581.90,521.51 582.43,521.46 582.96,521.09 583.49,520.43 584.02,519.59 584.55,518.65 585.09,517.74 585.62,516.98 586.15,516.47 586.68,516.28 587.21,516.43 587.74,516.91 588.27,517.67 588.80,518.62 589.33,519.67 589.86,520.71 590.39,521.68 590.92,522.53 591.45,523.21 591.98,523.74 592.51,524.11 593.04,524.34 593.58,524.46 594.11,524.48 594.64,524.39 595.17,524.20 595.70,523.90 596.23,523.48 596.76,522.92 597.29,522.22 597.82,521.39 598.35,520.48 598.88,519.53 599.41,518.63 599.94,517.85 600.47,517.27 601.00,516.96 601.53,516.94 602.06,517.23 602.60,517.78 603.13,518.54 603.66,519.41 604.19,520.33 604.72,521.22 605.25,522.02 605.78,522.69 606.31,523.24 606.84,523.65 607.37,523.95 607.90,524.16 608.43,524.30 608.96,524.38 609.49,524.42 610.02,524.44 610.55,524.42 611.08,524.37 611.62,524.27 612.15,524.11 612.68,523.88 613.21,523.55 613.74,523.12 614.27,522.58 614.80,521.93 615.33,521.22 615.86,520.48 616.39,519.77 616.92,519.16 617.45,518.72 617.98,518.50 618.51,518.52 619.04,518.80 619.57,519.28 620.11,519.94 620.64,520.68 621.17,521.45 621.70,522.18 622.23,522.82 622.76,523.31 623.29,523.65 623.82,523.81 624.35,523.80 624.88,523.62 625.41,523.28 625.94,522.82 626.47,522.27 627.00,521.67 627.53,521.09 628.06,520.59 628.59,520.22 629.13,520.03 629.66,520.03 630.19,520.22 630.72,520.56 631.25,521.01 631.78,521.48 632.31,521.92 632.84,522.26 633.37,522.47 633.90,522.53 634.43,522.47 634.96,522.31 635.49,522.11 636.02,521.94 636.55,521.84 637.08,521.85 637.61,522.00 638.15,522.29 638.68,522.69 639.21,523.16 639.74,523.67 640.27,524.17 640.80,524.62 641.33,524.97 641.86,525.21 642.39,525.28 642.92,525.15 643.45,524.77 643.98,524.09 644.51,523.05 645.04,521.59 645.57,519.69 646.10,517.36 646.63,514.68 647.17,511.79 647.70,508.90 648.23,506.27 648.76,504.15 649.29,502.76 649.82,502.26 650.35,502.69 650.88,503.98 651.41,505.94 651.94,508.29 652.47,510.73 653.00,512.96 653.53,514.71 654.06,515.81 654.59,516.17 655.12,515.82 655.66,514.86 656.19,513.50 656.72,511.96 657.25,510.52 657.78,509.42 658.31,508.86" fill="none" stroke="#f01030" stroke-width="1.2" stroke-linejoin="round"/></g>
<text x="388.50" y="531.70" font-size="12.9" text-anchor="end" fill="#000" >0</text>
<text x="388.50" y="513.68" font-size="12.9" text-anchor="end" fill="#000" >2</text>
<text x="388.50" y="495.66" font-size="12.9" text-anchor="end" fill="#000" >4</text>
<text x="388.50" y="477.64" font-size="12.9" text-anchor="end" fill="#000" >6</text>
<text x="388.50" y="459.62" font-size="12.9" text-anchor="end" fill="#000" >8</text>
<path d="M394.6,527.20 h4 M394.6,509.18 h4 M394.6,491.16 h4 M394.6,473.14 h4 M394.6,455.12 h4 M394.6,518.19 h2.4 M394.6,500.17 h2.4 M394.6,482.15 h2.4 M394.6,464.13 h2.4 M394.60,527.0 v-4 M421.13,527.0 v-2.4 M447.66,527.0 v-4 M474.19,527.0 v-2.4 M500.72,527.0 v-4 M527.25,527.0 v-2.4 M553.78,527.0 v-4 M580.31,527.0 v-2.4 M606.84,527.0 v-4 M633.37,527.0 v-2.4 M659.90,527.0 v-4" stroke="#000" stroke-width="1" fill="none"/>
<rect x="394.6" y="452.8" width="266.79999999999995" height="74.19999999999999" fill="none" stroke="#000" stroke-width="1.3"/>
<text x="409.40" y="495.10" font-size="13.1" text-anchor="start" fill="#000" >Bi-Se</text>
<text x="394.60" y="540.40" font-size="12.9" text-anchor="middle" fill="#000" >0</text>
<text x="447.66" y="540.40" font-size="12.9" text-anchor="middle" fill="#000" >2</text>
<text x="500.72" y="540.40" font-size="12.9" text-anchor="middle" fill="#000" >4</text>
<text x="553.78" y="540.40" font-size="12.9" text-anchor="middle" fill="#000" >6</text>
<text x="606.84" y="540.40" font-size="12.9" text-anchor="middle" fill="#000" >8</text>
<text x="659.90" y="540.40" font-size="12.9" text-anchor="middle" fill="#000" >10</text>
<text x="528.00" y="559.50" font-size="14.8" text-anchor="middle" fill="#000" >Distance (&#197;)</text>
<text transform="translate(373.6,408) rotate(-90)" font-size="16" text-anchor="middle"><tspan font-style="italic">g</tspan> (<tspan font-style="italic">r</tspan>)</text>
<text transform="translate(672.6,315.5) rotate(-90)" font-size="10" text-anchor="middle">Strain+2%</text>
<line x1="668.3" y1="341.2" x2="668.3" y2="364.3" stroke="#ff00ff" stroke-width="1.1"/>
<text transform="translate(672.1,389.5) rotate(-90)" font-size="10" text-anchor="middle">Strain+1%</text>
<line x1="668.2" y1="415.8" x2="668.2" y2="439.2" stroke="#2a2aff" stroke-width="1.1"/>
<text transform="translate(672.5,468.0) rotate(-90)" font-size="10" text-anchor="middle">Strain+0%</text>
<line x1="668.5" y1="493.3" x2="668.5" y2="516.2" stroke="#ff1a1a" stroke-width="1.1"/>
<text transform="translate(684.3,351.0) rotate(-90)" font-size="10" text-anchor="middle">Strain+4%</text>
<line x1="680.7" y1="377.8" x2="680.7" y2="401.2" stroke="#9a4cff" stroke-width="1.1"/>
<text transform="translate(684.5,429.0) rotate(-90)" font-size="10" text-anchor="middle">Strain+3%</text>
<line x1="680.5" y1="454.3" x2="680.5" y2="477.2" stroke="#40b040" stroke-width="1.1"/>
</svg>
</body></html>
